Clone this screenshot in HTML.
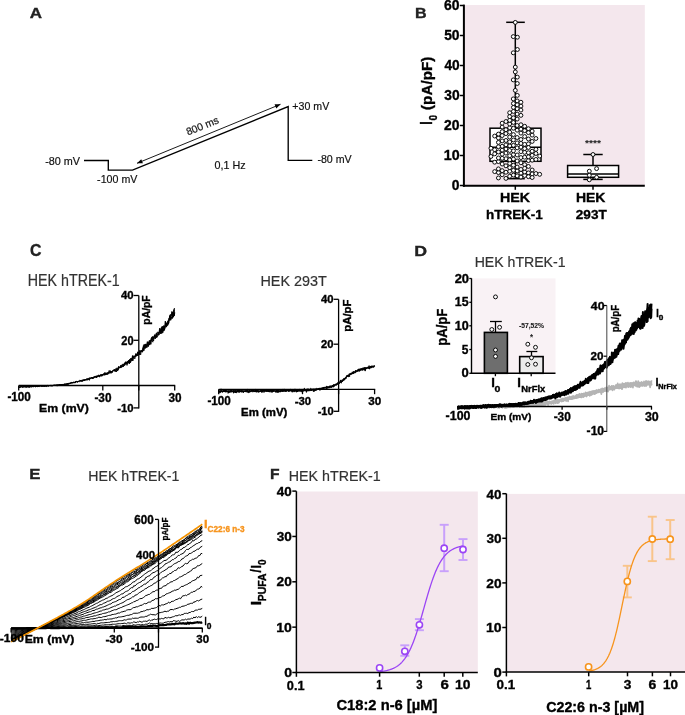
<!DOCTYPE html>
<html><head><meta charset="utf-8"><style>
html,body{margin:0;padding:0;background:#fff;}
svg{display:block;will-change:transform;font-family:"Liberation Sans",sans-serif;}
</style></head><body>
<svg width="685" height="715" viewBox="0 0 685 715">
<rect width="685" height="715" fill="#fff"/>
<text transform="translate(29.77,17.80) scale(1.174,1)" font-size="14.49" font-weight="bold" fill="#222" stroke="#222" stroke-width="0.35">A</text>
<polyline points="84.00,160.50 108.30,160.50 108.30,170.10 132.50,170.10 288.20,106.60 288.20,160.40 312.30,160.40" fill="none" stroke="#000" stroke-width="1.35" stroke-linejoin="miter"/>
<polyline points="137.00,163.30 280.50,104.30" fill="none" stroke="#000" stroke-width="0.9"/>
<polygon points="137.00,163.30 141.25,159.17 142.92,163.24" fill="#000"/>
<polygon points="280.50,104.30 276.25,108.43 274.58,104.36" fill="#000"/>
<text transform="translate(45.21,164.60) scale(0.967,1)" font-size="11.19" font-weight="normal" fill="#111" stroke="#111" stroke-width="0.2">-80 mV</text>
<text transform="translate(97.12,183.00) scale(0.940,1)" font-size="11.34" font-weight="normal" fill="#111" stroke="#111" stroke-width="0.2">-100 mV</text>
<text transform="translate(292.37,109.90) scale(0.926,1)" font-size="11.48" font-weight="normal" fill="#111" stroke="#111" stroke-width="0.2">+30 mV</text>
<text transform="translate(317.42,163.30) scale(0.914,1)" font-size="11.63" font-weight="normal" fill="#111" stroke="#111" stroke-width="0.2">-80 mV</text>
<text transform="translate(214.47,169.20) scale(0.989,1)" font-size="10.90" font-weight="normal" fill="#111" stroke="#111" stroke-width="0.2">0,1 Hz</text>
<text transform="translate(188.0,135.6) rotate(-22.3)" font-size="10.4" font-weight="normal" fill="#111" stroke="#111" stroke-width="0.2">800 ms</text>
<text transform="translate(414.96,18.20) scale(1.087,1)" font-size="14.78" font-weight="bold" fill="#222" stroke="#222" stroke-width="0.35">B</text>
<rect x="464.80" y="5.00" width="180.00" height="180.80" fill="#f4e7ed" stroke="none" stroke-width="0"/>
<polyline points="459.80,185.50 463.40,185.50" fill="none" stroke="#000" stroke-width="1.5"/>
<text transform="translate(451.87,190.06) scale(0.973,1)" font-size="14.23" font-weight="bold" fill="#000" stroke="#000" stroke-width="0.35">0</text>
<polyline points="459.80,155.50 463.40,155.50" fill="none" stroke="#000" stroke-width="1.5"/>
<text transform="translate(443.74,160.06) scale(1.002,1)" font-size="14.23" font-weight="bold" fill="#000" stroke="#000" stroke-width="0.35">10</text>
<polyline points="459.80,125.50 463.40,125.50" fill="none" stroke="#000" stroke-width="1.5"/>
<text transform="translate(444.11,130.06) scale(0.978,1)" font-size="14.23" font-weight="bold" fill="#000" stroke="#000" stroke-width="0.35">20</text>
<polyline points="459.80,95.50 463.40,95.50" fill="none" stroke="#000" stroke-width="1.5"/>
<text transform="translate(444.26,100.06) scale(0.969,1)" font-size="14.23" font-weight="bold" fill="#000" stroke="#000" stroke-width="0.35">30</text>
<polyline points="459.80,65.50 463.40,65.50" fill="none" stroke="#000" stroke-width="1.5"/>
<text transform="translate(444.40,70.06) scale(0.960,1)" font-size="14.23" font-weight="bold" fill="#000" stroke="#000" stroke-width="0.35">40</text>
<polyline points="459.80,35.50 463.40,35.50" fill="none" stroke="#000" stroke-width="1.5"/>
<text transform="translate(444.18,40.06) scale(0.973,1)" font-size="14.23" font-weight="bold" fill="#000" stroke="#000" stroke-width="0.35">50</text>
<polyline points="459.80,5.50 463.40,5.50" fill="none" stroke="#000" stroke-width="1.5"/>
<text transform="translate(444.11,10.06) scale(0.978,1)" font-size="14.23" font-weight="bold" fill="#000" stroke="#000" stroke-width="0.35">60</text>
<polyline points="463.90,4.60 463.90,186.80" fill="none" stroke="#000" stroke-width="2"/>
<polyline points="462.90,185.80 644.80,185.80" fill="none" stroke="#000" stroke-width="2"/>
<polyline points="515.30,186.00 515.30,189.80" fill="none" stroke="#000" stroke-width="1.5"/>
<polyline points="593.00,186.00 593.00,189.80" fill="none" stroke="#000" stroke-width="1.5"/>
<text transform="translate(431.90,124.71) rotate(-90) scale(0.791,1)" font-size="15.70" font-weight="bold" fill="#000" stroke="#000" stroke-width="0.35">I</text>
<text transform="translate(436.99,120.60) rotate(-90) scale(0.878,1)" font-size="11.27" font-weight="bold" fill="#000" stroke="#000" stroke-width="0.35">0</text>
<text transform="translate(432.14,109.96) rotate(-90) scale(0.984,1)" font-size="15.51" font-weight="bold" fill="#000" stroke="#000" stroke-width="0.35">(pA/pF)</text>
<text transform="translate(499.97,201.80) scale(1.066,1)" font-size="13.37" font-weight="bold" fill="#000" stroke="#000" stroke-width="0.35">HEK</text>
<text transform="translate(485.96,218.50) scale(0.997,1)" font-size="13.52" font-weight="bold" fill="#000" stroke="#000" stroke-width="0.35">hTREK-1</text>
<text transform="translate(575.89,201.80) scale(1.044,1)" font-size="13.37" font-weight="bold" fill="#000" stroke="#000" stroke-width="0.35">HEK</text>
<text transform="translate(575.83,218.50) scale(1.003,1)" font-size="13.52" font-weight="bold" fill="#000" stroke="#000" stroke-width="0.35">293T</text>
<text transform="translate(584.95,146.13) scale(1.088,1)" font-size="9.46" font-weight="bold" fill="#222">****</text>
<polyline points="515.30,22.30 515.30,128.20" fill="none" stroke="#000" stroke-width="1.5"/>
<polyline points="515.30,161.30 515.30,178.70" fill="none" stroke="#000" stroke-width="1.5"/>
<polyline points="506.20,22.30 524.80,22.30" fill="none" stroke="#000" stroke-width="1.5"/>
<polyline points="506.20,178.70 524.80,178.70" fill="none" stroke="#000" stroke-width="1.5"/>
<rect x="490.00" y="128.20" width="51.00" height="33.10" fill="#fff" stroke="#000" stroke-width="1.5"/>
<polyline points="490.00,147.20 541.00,147.20" fill="none" stroke="#000" stroke-width="1.5"/>
<polyline points="593.00,154.50 593.00,165.50" fill="none" stroke="#000" stroke-width="1.5"/>
<polyline points="593.00,177.30 593.00,179.40" fill="none" stroke="#000" stroke-width="1.5"/>
<polyline points="583.30,154.50 602.70,154.50" fill="none" stroke="#000" stroke-width="1.5"/>
<polyline points="583.30,179.40 602.70,179.40" fill="none" stroke="#000" stroke-width="1.5"/>
<rect x="567.60" y="165.50" width="51.00" height="11.80" fill="#fff" stroke="#000" stroke-width="1.5"/>
<polyline points="567.60,173.90 618.60,173.90" fill="none" stroke="#000" stroke-width="1.5"/>
<circle cx="515.30" cy="22.40" r="1.95" fill="#fff" stroke="#000" stroke-width="0.95"/>
<circle cx="513.30" cy="36.60" r="1.95" fill="#fff" stroke="#000" stroke-width="0.95"/>
<circle cx="517.40" cy="37.20" r="1.95" fill="#fff" stroke="#000" stroke-width="0.95"/>
<circle cx="517.40" cy="49.50" r="1.95" fill="#fff" stroke="#000" stroke-width="0.95"/>
<circle cx="513.30" cy="52.80" r="1.95" fill="#fff" stroke="#000" stroke-width="0.95"/>
<circle cx="515.30" cy="67.10" r="1.95" fill="#fff" stroke="#000" stroke-width="0.95"/>
<circle cx="515.30" cy="71.90" r="1.95" fill="#fff" stroke="#000" stroke-width="0.95"/>
<circle cx="517.30" cy="77.10" r="1.95" fill="#fff" stroke="#000" stroke-width="0.95"/>
<circle cx="513.30" cy="79.90" r="1.95" fill="#fff" stroke="#000" stroke-width="0.95"/>
<circle cx="517.30" cy="83.50" r="1.95" fill="#fff" stroke="#000" stroke-width="0.95"/>
<circle cx="515.30" cy="90.40" r="1.95" fill="#fff" stroke="#000" stroke-width="0.95"/>
<circle cx="517.30" cy="95.40" r="1.95" fill="#fff" stroke="#000" stroke-width="0.95"/>
<circle cx="513.30" cy="98.90" r="1.95" fill="#fff" stroke="#000" stroke-width="0.95"/>
<circle cx="513.42" cy="159.08" r="1.95" fill="#fff" stroke="#000" stroke-width="0.95"/>
<circle cx="517.17" cy="170.96" r="1.95" fill="#fff" stroke="#000" stroke-width="0.95"/>
<circle cx="513.42" cy="122.44" r="1.95" fill="#fff" stroke="#000" stroke-width="0.95"/>
<circle cx="517.17" cy="130.18" r="1.95" fill="#fff" stroke="#000" stroke-width="0.95"/>
<circle cx="513.42" cy="170.32" r="1.95" fill="#fff" stroke="#000" stroke-width="0.95"/>
<circle cx="517.17" cy="160.98" r="1.95" fill="#fff" stroke="#000" stroke-width="0.95"/>
<circle cx="513.42" cy="175.10" r="1.95" fill="#fff" stroke="#000" stroke-width="0.95"/>
<circle cx="520.92" cy="169.48" r="1.95" fill="#fff" stroke="#000" stroke-width="0.95"/>
<circle cx="513.42" cy="145.35" r="1.95" fill="#fff" stroke="#000" stroke-width="0.95"/>
<circle cx="517.17" cy="142.90" r="1.95" fill="#fff" stroke="#000" stroke-width="0.95"/>
<circle cx="517.17" cy="119.07" r="1.95" fill="#fff" stroke="#000" stroke-width="0.95"/>
<circle cx="520.92" cy="157.59" r="1.95" fill="#fff" stroke="#000" stroke-width="0.95"/>
<circle cx="517.17" cy="147.86" r="1.95" fill="#fff" stroke="#000" stroke-width="0.95"/>
<circle cx="513.42" cy="128.23" r="1.95" fill="#fff" stroke="#000" stroke-width="0.95"/>
<circle cx="509.67" cy="145.83" r="1.95" fill="#fff" stroke="#000" stroke-width="0.95"/>
<circle cx="520.92" cy="129.20" r="1.95" fill="#fff" stroke="#000" stroke-width="0.95"/>
<circle cx="513.42" cy="111.40" r="1.95" fill="#fff" stroke="#000" stroke-width="0.95"/>
<circle cx="517.17" cy="154.97" r="1.95" fill="#fff" stroke="#000" stroke-width="0.95"/>
<circle cx="513.42" cy="154.59" r="1.95" fill="#fff" stroke="#000" stroke-width="0.95"/>
<circle cx="520.92" cy="151.60" r="1.95" fill="#fff" stroke="#000" stroke-width="0.95"/>
<circle cx="517.17" cy="175.88" r="1.95" fill="#fff" stroke="#000" stroke-width="0.95"/>
<circle cx="520.92" cy="147.11" r="1.95" fill="#fff" stroke="#000" stroke-width="0.95"/>
<circle cx="509.67" cy="176.27" r="1.95" fill="#fff" stroke="#000" stroke-width="0.95"/>
<circle cx="513.42" cy="139.97" r="1.95" fill="#fff" stroke="#000" stroke-width="0.95"/>
<circle cx="509.67" cy="155.72" r="1.95" fill="#fff" stroke="#000" stroke-width="0.95"/>
<circle cx="517.17" cy="100.94" r="1.95" fill="#fff" stroke="#000" stroke-width="0.95"/>
<circle cx="513.42" cy="150.85" r="1.95" fill="#fff" stroke="#000" stroke-width="0.95"/>
<circle cx="524.67" cy="157.21" r="1.95" fill="#fff" stroke="#000" stroke-width="0.95"/>
<circle cx="505.92" cy="148.98" r="1.95" fill="#fff" stroke="#000" stroke-width="0.95"/>
<circle cx="520.92" cy="173.21" r="1.95" fill="#fff" stroke="#000" stroke-width="0.95"/>
<circle cx="513.42" cy="165.23" r="1.95" fill="#fff" stroke="#000" stroke-width="0.95"/>
<circle cx="513.42" cy="117.83" r="1.95" fill="#fff" stroke="#000" stroke-width="0.95"/>
<circle cx="513.42" cy="134.58" r="1.95" fill="#fff" stroke="#000" stroke-width="0.95"/>
<circle cx="524.67" cy="175.49" r="1.95" fill="#fff" stroke="#000" stroke-width="0.95"/>
<circle cx="524.67" cy="152.35" r="1.95" fill="#fff" stroke="#000" stroke-width="0.95"/>
<circle cx="505.92" cy="153.10" r="1.95" fill="#fff" stroke="#000" stroke-width="0.95"/>
<circle cx="509.67" cy="163.41" r="1.95" fill="#fff" stroke="#000" stroke-width="0.95"/>
<circle cx="520.92" cy="133.12" r="1.95" fill="#fff" stroke="#000" stroke-width="0.95"/>
<circle cx="509.67" cy="171.28" r="1.95" fill="#fff" stroke="#000" stroke-width="0.95"/>
<circle cx="509.67" cy="167.66" r="1.95" fill="#fff" stroke="#000" stroke-width="0.95"/>
<circle cx="509.67" cy="150.48" r="1.95" fill="#fff" stroke="#000" stroke-width="0.95"/>
<circle cx="524.67" cy="171.93" r="1.95" fill="#fff" stroke="#000" stroke-width="0.95"/>
<circle cx="505.92" cy="158.71" r="1.95" fill="#fff" stroke="#000" stroke-width="0.95"/>
<circle cx="517.17" cy="125.51" r="1.95" fill="#fff" stroke="#000" stroke-width="0.95"/>
<circle cx="517.17" cy="167.05" r="1.95" fill="#fff" stroke="#000" stroke-width="0.95"/>
<circle cx="505.92" cy="172.25" r="1.95" fill="#fff" stroke="#000" stroke-width="0.95"/>
<circle cx="520.92" cy="162.80" r="1.95" fill="#fff" stroke="#000" stroke-width="0.95"/>
<circle cx="509.67" cy="127.74" r="1.95" fill="#fff" stroke="#000" stroke-width="0.95"/>
<circle cx="517.17" cy="137.52" r="1.95" fill="#fff" stroke="#000" stroke-width="0.95"/>
<circle cx="517.17" cy="114.07" r="1.95" fill="#fff" stroke="#000" stroke-width="0.95"/>
<circle cx="502.17" cy="150.11" r="1.95" fill="#fff" stroke="#000" stroke-width="0.95"/>
<circle cx="524.67" cy="126.28" r="1.95" fill="#fff" stroke="#000" stroke-width="0.95"/>
<circle cx="509.67" cy="112.73" r="1.95" fill="#fff" stroke="#000" stroke-width="0.95"/>
<circle cx="528.42" cy="172.89" r="1.95" fill="#fff" stroke="#000" stroke-width="0.95"/>
<circle cx="520.92" cy="143.39" r="1.95" fill="#fff" stroke="#000" stroke-width="0.95"/>
<circle cx="505.92" cy="129.69" r="1.95" fill="#fff" stroke="#000" stroke-width="0.95"/>
<circle cx="509.67" cy="137.03" r="1.95" fill="#fff" stroke="#000" stroke-width="0.95"/>
<circle cx="524.67" cy="164.62" r="1.95" fill="#fff" stroke="#000" stroke-width="0.95"/>
<circle cx="509.67" cy="123.97" r="1.95" fill="#fff" stroke="#000" stroke-width="0.95"/>
<circle cx="502.17" cy="170.64" r="1.95" fill="#fff" stroke="#000" stroke-width="0.95"/>
<circle cx="502.17" cy="158.33" r="1.95" fill="#fff" stroke="#000" stroke-width="0.95"/>
<circle cx="532.17" cy="170.00" r="1.95" fill="#fff" stroke="#000" stroke-width="0.95"/>
<circle cx="505.92" cy="165.84" r="1.95" fill="#fff" stroke="#000" stroke-width="0.95"/>
<circle cx="528.42" cy="166.44" r="1.95" fill="#fff" stroke="#000" stroke-width="0.95"/>
<circle cx="505.92" cy="133.61" r="1.95" fill="#fff" stroke="#000" stroke-width="0.95"/>
<circle cx="524.67" cy="144.37" r="1.95" fill="#fff" stroke="#000" stroke-width="0.95"/>
<circle cx="505.92" cy="144.86" r="1.95" fill="#fff" stroke="#000" stroke-width="0.95"/>
<circle cx="528.42" cy="128.72" r="1.95" fill="#fff" stroke="#000" stroke-width="0.95"/>
<circle cx="502.17" cy="127.05" r="1.95" fill="#fff" stroke="#000" stroke-width="0.95"/>
<circle cx="528.42" cy="152.72" r="1.95" fill="#fff" stroke="#000" stroke-width="0.95"/>
<circle cx="505.92" cy="140.45" r="1.95" fill="#fff" stroke="#000" stroke-width="0.95"/>
<circle cx="532.17" cy="151.23" r="1.95" fill="#fff" stroke="#000" stroke-width="0.95"/>
<circle cx="524.67" cy="130.67" r="1.95" fill="#fff" stroke="#000" stroke-width="0.95"/>
<circle cx="498.42" cy="172.57" r="1.95" fill="#fff" stroke="#000" stroke-width="0.95"/>
<circle cx="528.42" cy="160.58" r="1.95" fill="#fff" stroke="#000" stroke-width="0.95"/>
<circle cx="524.67" cy="136.54" r="1.95" fill="#fff" stroke="#000" stroke-width="0.95"/>
<circle cx="517.17" cy="108.73" r="1.95" fill="#fff" stroke="#000" stroke-width="0.95"/>
<circle cx="513.42" cy="107.40" r="1.95" fill="#fff" stroke="#000" stroke-width="0.95"/>
<circle cx="502.17" cy="154.22" r="1.95" fill="#fff" stroke="#000" stroke-width="0.95"/>
<circle cx="520.92" cy="139.48" r="1.95" fill="#fff" stroke="#000" stroke-width="0.95"/>
<circle cx="520.92" cy="177.10" r="1.95" fill="#fff" stroke="#000" stroke-width="0.95"/>
<circle cx="528.42" cy="143.88" r="1.95" fill="#fff" stroke="#000" stroke-width="0.95"/>
<circle cx="498.42" cy="151.98" r="1.95" fill="#fff" stroke="#000" stroke-width="0.95"/>
<circle cx="509.67" cy="132.14" r="1.95" fill="#fff" stroke="#000" stroke-width="0.95"/>
<circle cx="509.67" cy="120.30" r="1.95" fill="#fff" stroke="#000" stroke-width="0.95"/>
<circle cx="520.92" cy="106.09" r="1.95" fill="#fff" stroke="#000" stroke-width="0.95"/>
<circle cx="528.42" cy="147.49" r="1.95" fill="#fff" stroke="#000" stroke-width="0.95"/>
<circle cx="509.67" cy="141.92" r="1.95" fill="#fff" stroke="#000" stroke-width="0.95"/>
<circle cx="502.17" cy="135.56" r="1.95" fill="#fff" stroke="#000" stroke-width="0.95"/>
<circle cx="528.42" cy="132.63" r="1.95" fill="#fff" stroke="#000" stroke-width="0.95"/>
<circle cx="494.67" cy="149.73" r="1.95" fill="#fff" stroke="#000" stroke-width="0.95"/>
<circle cx="502.17" cy="140.94" r="1.95" fill="#fff" stroke="#000" stroke-width="0.95"/>
<circle cx="502.17" cy="164.02" r="1.95" fill="#fff" stroke="#000" stroke-width="0.95"/>
<circle cx="520.92" cy="124.74" r="1.95" fill="#fff" stroke="#000" stroke-width="0.95"/>
<circle cx="509.67" cy="159.83" r="1.95" fill="#fff" stroke="#000" stroke-width="0.95"/>
<circle cx="520.92" cy="110.07" r="1.95" fill="#fff" stroke="#000" stroke-width="0.95"/>
<circle cx="498.42" cy="168.87" r="1.95" fill="#fff" stroke="#000" stroke-width="0.95"/>
<circle cx="502.17" cy="174.71" r="1.95" fill="#fff" stroke="#000" stroke-width="0.95"/>
<circle cx="494.67" cy="153.85" r="1.95" fill="#fff" stroke="#000" stroke-width="0.95"/>
<circle cx="528.42" cy="138.99" r="1.95" fill="#fff" stroke="#000" stroke-width="0.95"/>
<circle cx="505.92" cy="121.53" r="1.95" fill="#fff" stroke="#000" stroke-width="0.95"/>
<circle cx="532.17" cy="135.07" r="1.95" fill="#fff" stroke="#000" stroke-width="0.95"/>
<circle cx="498.42" cy="138.01" r="1.95" fill="#fff" stroke="#000" stroke-width="0.95"/>
<circle cx="505.92" cy="178.39" r="1.95" fill="#fff" stroke="#000" stroke-width="0.95"/>
<circle cx="532.17" cy="141.43" r="1.95" fill="#fff" stroke="#000" stroke-width="0.95"/>
<circle cx="502.17" cy="131.65" r="1.95" fill="#fff" stroke="#000" stroke-width="0.95"/>
<circle cx="524.67" cy="148.61" r="1.95" fill="#fff" stroke="#000" stroke-width="0.95"/>
<circle cx="502.17" cy="146.32" r="1.95" fill="#fff" stroke="#000" stroke-width="0.95"/>
<circle cx="502.17" cy="123.21" r="1.95" fill="#fff" stroke="#000" stroke-width="0.95"/>
<circle cx="528.42" cy="156.84" r="1.95" fill="#fff" stroke="#000" stroke-width="0.95"/>
<circle cx="494.67" cy="171.60" r="1.95" fill="#fff" stroke="#000" stroke-width="0.95"/>
<circle cx="532.17" cy="131.16" r="1.95" fill="#fff" stroke="#000" stroke-width="0.95"/>
<circle cx="528.42" cy="176.67" r="1.95" fill="#fff" stroke="#000" stroke-width="0.95"/>
<circle cx="498.42" cy="142.41" r="1.95" fill="#fff" stroke="#000" stroke-width="0.95"/>
<circle cx="498.42" cy="161.59" r="1.95" fill="#fff" stroke="#000" stroke-width="0.95"/>
<circle cx="535.92" cy="138.50" r="1.95" fill="#fff" stroke="#000" stroke-width="0.95"/>
<circle cx="498.42" cy="177.96" r="1.95" fill="#fff" stroke="#000" stroke-width="0.95"/>
<circle cx="532.17" cy="173.93" r="1.95" fill="#fff" stroke="#000" stroke-width="0.95"/>
<circle cx="535.92" cy="173.54" r="1.95" fill="#fff" stroke="#000" stroke-width="0.95"/>
<circle cx="520.92" cy="115.37" r="1.95" fill="#fff" stroke="#000" stroke-width="0.95"/>
<circle cx="509.67" cy="116.60" r="1.95" fill="#fff" stroke="#000" stroke-width="0.95"/>
<circle cx="513.42" cy="103.51" r="1.95" fill="#fff" stroke="#000" stroke-width="0.95"/>
<circle cx="532.17" cy="160.20" r="1.95" fill="#fff" stroke="#000" stroke-width="0.95"/>
<circle cx="539.67" cy="174.32" r="1.95" fill="#fff" stroke="#000" stroke-width="0.95"/>
<circle cx="535.92" cy="153.47" r="1.95" fill="#fff" stroke="#000" stroke-width="0.95"/>
<circle cx="520.92" cy="102.23" r="1.95" fill="#fff" stroke="#000" stroke-width="0.95"/>
<circle cx="524.67" cy="168.26" r="1.95" fill="#fff" stroke="#000" stroke-width="0.95"/>
<circle cx="517.17" cy="104.80" r="1.95" fill="#fff" stroke="#000" stroke-width="0.95"/>
<circle cx="498.42" cy="157.96" r="1.95" fill="#fff" stroke="#000" stroke-width="0.95"/>
<circle cx="532.17" cy="155.34" r="1.95" fill="#fff" stroke="#000" stroke-width="0.95"/>
<circle cx="490.92" cy="156.46" r="1.95" fill="#fff" stroke="#000" stroke-width="0.95"/>
<circle cx="494.67" cy="136.05" r="1.95" fill="#fff" stroke="#000" stroke-width="0.95"/>
<circle cx="532.17" cy="177.53" r="1.95" fill="#fff" stroke="#000" stroke-width="0.95"/>
<circle cx="535.92" cy="159.46" r="1.95" fill="#fff" stroke="#000" stroke-width="0.95"/>
<circle cx="498.42" cy="146.74" r="1.95" fill="#fff" stroke="#000" stroke-width="0.95"/>
<circle cx="539.67" cy="156.09" r="1.95" fill="#fff" stroke="#000" stroke-width="0.95"/>
<circle cx="494.67" cy="162.20" r="1.95" fill="#fff" stroke="#000" stroke-width="0.95"/>
<circle cx="535.92" cy="149.36" r="1.95" fill="#fff" stroke="#000" stroke-width="0.95"/>
<circle cx="490.92" cy="148.24" r="1.95" fill="#fff" stroke="#000" stroke-width="0.95"/>
<circle cx="498.42" cy="134.10" r="1.95" fill="#fff" stroke="#000" stroke-width="0.95"/>
<circle cx="593.00" cy="154.50" r="1.95" fill="#fff" stroke="#000" stroke-width="0.95"/>
<circle cx="596.60" cy="168.60" r="1.95" fill="#fff" stroke="#000" stroke-width="0.95"/>
<circle cx="589.30" cy="171.20" r="1.95" fill="#fff" stroke="#000" stroke-width="0.95"/>
<circle cx="589.30" cy="175.30" r="1.95" fill="#fff" stroke="#000" stroke-width="0.95"/>
<circle cx="596.60" cy="177.30" r="1.95" fill="#fff" stroke="#000" stroke-width="0.95"/>
<circle cx="589.30" cy="179.80" r="1.95" fill="#fff" stroke="#000" stroke-width="0.95"/>
<text transform="translate(30.06,256.23) scale(0.939,1)" font-size="16.90" font-weight="bold" fill="#222" stroke="#222" stroke-width="0.35">C</text>
<text transform="translate(27.76,286.00) scale(0.908,1)" font-size="15.70" font-weight="normal" fill="#333" stroke="#333" stroke-width="0.2">HEK hTREK-1</text>
<text transform="translate(260.45,286.10) scale(0.926,1)" font-size="15.55" font-weight="normal" fill="#333" stroke="#333" stroke-width="0.2">HEK 293T</text>
<polyline points="18.70,386.90 19.09,387.16 19.48,387.10 19.87,387.87 20.26,386.23 20.65,386.47 21.05,387.02 21.44,386.59 21.83,386.76 22.22,387.07 22.61,386.48 23.00,386.95 23.39,386.94 23.78,387.11 24.17,386.62 24.56,386.82 24.96,386.56 25.35,386.98 25.74,386.69 26.13,387.06 26.52,386.39 26.91,386.62 27.30,386.56 27.69,386.51 28.08,387.03 28.47,386.34 28.87,385.86 29.26,387.22 29.65,387.23 30.04,387.13 30.43,386.25 30.82,386.50 31.21,386.13 31.60,386.25 31.99,386.42 32.38,386.38 32.78,386.53 33.17,386.13 33.56,386.85 33.95,386.57 34.34,386.31 34.73,385.72 35.12,386.64 35.51,386.74 35.90,386.54 36.29,385.96 36.68,386.38 37.08,385.80 37.47,386.94 37.86,385.84 38.25,385.85 38.64,386.72 39.03,386.14 39.42,385.74 39.81,386.13 40.20,385.79 40.59,385.28 40.99,386.01 41.38,386.19 41.77,386.35 42.16,385.83 42.55,386.11 42.94,386.09 43.33,386.05 43.72,385.76 44.11,386.35 44.50,386.50 44.90,386.80 45.29,385.50 45.68,385.88 46.07,385.36 46.46,385.87 46.85,386.11 47.24,385.66 47.63,385.84 48.02,386.23 48.41,386.08 48.81,385.14 49.20,385.61 49.59,385.57 49.98,385.79 50.37,385.91 50.76,385.34 51.15,385.66 51.54,385.86 51.93,385.63 52.32,385.87 52.72,385.47 53.11,385.13 53.50,385.77 53.89,384.98 54.28,385.66 54.67,385.36 55.06,385.66 55.45,385.43 55.84,385.31 56.23,385.45 56.62,385.51 57.02,385.47 57.41,385.49 57.80,385.72 58.19,385.24 58.58,384.98 58.97,384.77 59.36,384.83 59.75,384.16 60.14,384.87 60.53,385.10 60.93,384.25 61.32,385.23 61.71,384.47 62.10,385.10 62.49,384.58 62.88,385.36 63.27,384.28 63.66,384.60 64.05,384.83 64.44,383.80 64.84,384.06 65.23,384.26 65.62,384.48 66.01,384.15 66.40,384.12 66.79,383.71 67.18,383.60 67.57,384.08 67.96,383.96 68.35,383.87 68.75,384.11 69.14,383.73 69.53,383.45 69.92,383.05 70.31,382.71 70.70,383.48 71.09,382.84 71.48,383.15 71.87,382.03 72.26,382.81 72.65,382.49 73.05,383.01 73.44,382.86 73.83,382.34 74.22,382.50 74.61,382.10 75.00,382.84 75.39,381.78 75.78,382.37 76.17,381.13 76.56,381.93 76.96,381.22 77.35,382.25 77.74,381.35 78.13,381.86 78.52,381.59 78.91,381.27 79.30,381.33 79.69,380.98 80.08,380.66 80.47,380.61 80.87,380.87 81.26,381.38 81.65,381.03 82.04,380.65 82.43,381.49 82.82,380.00 83.21,380.39 83.60,380.30 83.99,379.61 84.38,379.65 84.78,379.77 85.17,380.29 85.56,379.53 85.95,379.41 86.34,379.94 86.73,378.85 87.12,379.03 87.51,380.22 87.90,379.02 88.29,379.65 88.68,378.28 89.08,378.34 89.47,379.26 89.86,379.04 90.25,378.40 90.64,378.48 91.03,377.41 91.42,377.73 91.81,378.19 92.20,377.60 92.59,378.96 92.99,377.52 93.38,377.09 93.77,377.58 94.16,377.77 94.55,376.92 94.94,375.99 95.33,376.90 95.72,377.57 96.11,375.93 96.50,377.80 96.90,376.26 97.29,376.79 97.68,375.76 98.07,376.73 98.46,375.28 98.85,375.79 99.24,376.93 99.63,376.97 100.02,375.81 100.41,374.67 100.81,375.29 101.20,375.20 101.59,375.28 101.98,374.52 102.37,374.63 102.76,374.56 103.15,375.27 103.54,373.70 103.93,373.45 104.32,375.10 104.72,372.54 105.11,373.47 105.50,374.16 105.89,375.00 106.28,373.09 106.67,373.02 107.06,373.68 107.45,374.38 107.84,372.18 108.23,373.25 108.62,373.02 109.02,370.48 109.41,370.84 109.80,371.53 110.19,372.41 110.58,371.43 110.97,373.45 111.36,371.51 111.75,372.00 112.14,372.24 112.53,372.30 112.93,370.52 113.32,370.68 113.71,370.44 114.10,369.72 114.49,370.87 114.88,370.99 115.27,371.24 115.66,369.89 116.05,368.79 116.44,369.33 116.84,368.47 117.23,369.78 117.62,368.97 118.01,369.01 118.40,369.21 118.79,366.32 119.18,366.95 119.57,368.13 119.96,367.91 120.35,367.05 120.75,368.06 121.14,366.13 121.53,367.46 121.92,366.38 122.31,366.75 122.70,366.00 123.09,366.55 123.48,366.54 123.87,365.72 124.26,365.20 124.65,364.57 125.05,363.96 125.44,362.26 125.83,362.70 126.22,363.50 126.61,362.25 127.00,363.41 127.39,360.96 127.78,361.60 128.17,363.30 128.56,360.81 128.96,360.45 129.35,363.89 129.74,361.53 130.13,360.94 130.52,362.24 130.91,361.00 131.30,360.57 131.69,358.63 132.08,358.54 132.47,355.57 132.87,358.70 133.26,356.59 133.65,357.51 134.04,356.95 134.43,358.32 134.82,358.90 135.21,357.20 135.60,355.00 135.99,353.65 136.38,354.51 136.78,354.29 137.17,355.63 137.56,352.27 137.95,352.16 138.34,354.22 138.73,353.24 139.12,354.14 139.51,350.54 139.90,351.59 140.29,351.90 140.68,350.87 141.08,350.45 141.47,351.25 141.86,352.04 142.25,351.73 142.64,352.01 143.03,348.51 143.42,345.60 143.81,350.85 144.20,347.80 144.59,347.00 144.99,348.67 145.38,346.51 145.77,348.07 146.16,344.20 146.55,346.53 146.94,345.07 147.33,343.77 147.72,345.11 148.11,346.87 148.50,344.50 148.90,342.04 149.29,343.01 149.68,342.11 150.07,343.87 150.46,341.48 150.85,340.12 151.24,340.88 151.63,337.35 152.02,340.52 152.41,341.56 152.81,342.17 153.20,337.01 153.59,338.71 153.98,336.44 154.37,337.00 154.76,334.52 155.15,334.74 155.54,337.27 155.93,335.68 156.32,333.78 156.72,337.61 157.11,332.22 157.50,332.20 157.89,332.16 158.28,333.92 158.67,332.49 159.06,334.74 159.45,332.01 159.84,332.79 160.23,331.01 160.62,331.69 161.02,329.70 161.41,327.46 161.80,332.04 162.19,327.12 162.58,332.68 162.97,332.68 163.36,328.14 163.75,327.52 164.14,326.24 164.53,330.23 164.93,326.49 165.32,325.66 165.71,322.79 166.10,325.21 166.49,323.33 166.88,326.09 167.27,323.83 167.66,323.85 168.05,320.73 168.44,323.94 168.84,323.01 169.23,319.20 169.62,315.78 170.01,318.36 170.40,317.85 170.79,318.67 171.18,314.53 171.57,315.09 171.96,311.43 172.35,314.09 172.75,316.52 173.14,314.87 173.53,315.24 173.92,315.27 174.31,308.22 174.70,308.73" fill="none" stroke="#000" stroke-width="1.0" stroke-linejoin="round"/>
<polyline points="18.70,386.97 19.09,386.84 19.48,387.05 19.87,387.27 20.26,387.09 20.65,387.29 21.05,386.87 21.44,386.37 21.83,387.06 22.22,387.09 22.61,386.66 23.00,386.70 23.39,386.78 23.78,387.16 24.17,386.80 24.56,386.52 24.96,387.27 25.35,386.92 25.74,387.45 26.13,387.21 26.52,387.40 26.91,386.78 27.30,387.16 27.69,386.56 28.08,386.59 28.47,386.71 28.87,387.56 29.26,386.81 29.65,386.61 30.04,386.53 30.43,387.13 30.82,386.72 31.21,386.89 31.60,386.81 31.99,386.11 32.38,386.78 32.78,386.48 33.17,386.12 33.56,386.65 33.95,386.46 34.34,386.36 34.73,386.36 35.12,386.81 35.51,386.32 35.90,385.84 36.29,386.88 36.68,385.98 37.08,386.24 37.47,386.49 37.86,385.52 38.25,385.95 38.64,386.64 39.03,386.17 39.42,385.97 39.81,386.23 40.20,385.90 40.59,386.15 40.99,385.87 41.38,385.58 41.77,386.32 42.16,385.99 42.55,386.21 42.94,385.98 43.33,386.43 43.72,386.20 44.11,386.04 44.50,385.64 44.90,385.54 45.29,386.39 45.68,386.18 46.07,385.66 46.46,386.57 46.85,386.01 47.24,385.86 47.63,385.37 48.02,385.55 48.41,385.89 48.81,385.88 49.20,385.82 49.59,385.19 49.98,385.84 50.37,385.77 50.76,385.53 51.15,385.67 51.54,385.67 51.93,385.96 52.32,385.56 52.72,385.69 53.11,385.11 53.50,385.26 53.89,385.47 54.28,385.21 54.67,385.52 55.06,385.03 55.45,385.36 55.84,385.13 56.23,385.74 56.62,385.15 57.02,385.82 57.41,385.91 57.80,385.28 58.19,385.46 58.58,385.06 58.97,384.31 59.36,385.34 59.75,385.23 60.14,384.91 60.53,384.77 60.93,384.97 61.32,384.93 61.71,384.56 62.10,384.58 62.49,385.08 62.88,384.68 63.27,384.59 63.66,384.92 64.05,384.38 64.44,384.73 64.84,383.99 65.23,384.21 65.62,384.17 66.01,384.36 66.40,384.10 66.79,384.74 67.18,384.34 67.57,383.69 67.96,384.57 68.35,383.34 68.75,384.26 69.14,383.20 69.53,383.75 69.92,383.02 70.31,383.19 70.70,383.77 71.09,382.56 71.48,382.38 71.87,382.91 72.26,382.91 72.65,382.77 73.05,383.02 73.44,382.06 73.83,382.66 74.22,382.36 74.61,382.59 75.00,382.43 75.39,382.63 75.78,381.43 76.17,381.96 76.56,381.37 76.96,381.71 77.35,381.94 77.74,381.69 78.13,381.71 78.52,381.36 78.91,381.45 79.30,381.33 79.69,381.74 80.08,381.39 80.47,380.14 80.87,381.15 81.26,381.24 81.65,380.48 82.04,379.87 82.43,381.16 82.82,380.47 83.21,380.58 83.60,381.04 83.99,379.71 84.38,379.99 84.78,379.85 85.17,380.17 85.56,379.46 85.95,379.87 86.34,379.56 86.73,379.96 87.12,379.92 87.51,378.49 87.90,379.35 88.29,378.83 88.68,378.90 89.08,379.01 89.47,378.94 89.86,378.23 90.25,378.62 90.64,378.44 91.03,378.23 91.42,377.49 91.81,377.65 92.20,377.71 92.59,378.13 92.99,378.48 93.38,377.05 93.77,376.92 94.16,377.44 94.55,376.93 94.94,376.68 95.33,376.53 95.72,376.36 96.11,377.06 96.50,375.77 96.90,377.31 97.29,375.92 97.68,376.03 98.07,375.67 98.46,374.93 98.85,375.05 99.24,376.57 99.63,376.79 100.02,375.10 100.41,376.13 100.81,375.38 101.20,374.71 101.59,376.18 101.98,376.37 102.37,374.70 102.76,374.72 103.15,374.78 103.54,374.46 103.93,374.93 104.32,375.24 104.72,374.21 105.11,374.62 105.50,374.95 105.89,373.34 106.28,373.59 106.67,373.13 107.06,373.96 107.45,373.59 107.84,373.69 108.23,373.46 108.62,372.54 109.02,373.10 109.41,372.12 109.80,371.98 110.19,370.58 110.58,372.95 110.97,371.09 111.36,371.66 111.75,371.44 112.14,372.36 112.53,371.44 112.93,370.35 113.32,370.81 113.71,370.50 114.10,370.61 114.49,369.28 114.88,370.02 115.27,371.58 115.66,370.17 116.05,371.02 116.44,371.88 116.84,369.44 117.23,367.68 117.62,368.54 118.01,369.35 118.40,368.94 118.79,366.95 119.18,367.56 119.57,367.42 119.96,367.28 120.35,366.97 120.75,366.04 121.14,366.03 121.53,366.09 121.92,367.00 122.31,365.33 122.70,366.19 123.09,364.27 123.48,366.25 123.87,364.93 124.26,364.55 124.65,365.57 125.05,362.35 125.44,362.33 125.83,363.97 126.22,362.47 126.61,362.60 127.00,365.37 127.39,362.18 127.78,362.23 128.17,361.80 128.56,362.73 128.96,361.60 129.35,361.21 129.74,359.45 130.13,360.07 130.52,360.13 130.91,358.13 131.30,360.13 131.69,359.64 132.08,360.94 132.47,356.78 132.87,357.14 133.26,356.86 133.65,356.81 134.04,357.14 134.43,356.68 134.82,356.91 135.21,356.52 135.60,355.87 135.99,353.74 136.38,354.57 136.78,354.99 137.17,355.30 137.56,355.03 137.95,351.82 138.34,352.88 138.73,353.09 139.12,353.29 139.51,353.95 139.90,352.22 140.29,350.60 140.68,351.95 141.08,351.36 141.47,350.99 141.86,350.16 142.25,352.16 142.64,349.89 143.03,350.39 143.42,347.51 143.81,349.51 144.20,347.16 144.59,345.37 144.99,347.68 145.38,347.71 145.77,346.13 146.16,346.02 146.55,347.14 146.94,344.52 147.33,341.70 147.72,344.84 148.11,344.36 148.50,345.31 148.90,342.75 149.29,344.88 149.68,344.28 150.07,340.01 150.46,343.21 150.85,339.54 151.24,338.40 151.63,340.12 152.02,339.23 152.41,336.45 152.81,339.73 153.20,340.03 153.59,340.96 153.98,338.14 154.37,335.20 154.76,335.71 155.15,338.69 155.54,338.13 155.93,337.09 156.32,335.23 156.72,335.72 157.11,334.51 157.50,333.91 157.89,334.57 158.28,333.62 158.67,332.68 159.06,332.76 159.45,331.15 159.84,328.00 160.23,330.02 160.62,330.61 161.02,333.62 161.41,329.05 161.80,333.33 162.19,331.86 162.58,326.88 162.97,326.80 163.36,328.20 163.75,331.07 164.14,327.93 164.53,328.20 164.93,325.03 165.32,321.14 165.71,325.00 166.10,326.66 166.49,327.01 166.88,324.08 167.27,323.81 167.66,325.41 168.05,322.04 168.44,324.30 168.84,318.61 169.23,318.09 169.62,317.40 170.01,320.35 170.40,317.36 170.79,318.16 171.18,318.05 171.57,317.20 171.96,318.80 172.35,318.44 172.75,312.20 173.14,313.93 173.53,312.22 173.92,309.55 174.31,315.87 174.70,312.83" fill="none" stroke="#000" stroke-width="1.0" stroke-linejoin="round"/>
<polyline points="18.70,387.28 19.09,386.86 19.48,387.58 19.87,386.68 20.26,386.48 20.65,387.08 21.05,386.73 21.44,386.79 21.83,387.02 22.22,387.19 22.61,387.62 23.00,386.30 23.39,386.84 23.78,385.85 24.17,386.48 24.56,386.67 24.96,387.01 25.35,386.23 25.74,386.93 26.13,386.13 26.52,386.86 26.91,386.63 27.30,387.25 27.69,385.79 28.08,386.69 28.47,386.78 28.87,386.32 29.26,386.94 29.65,386.31 30.04,387.01 30.43,386.36 30.82,386.93 31.21,387.21 31.60,386.73 31.99,387.04 32.38,386.28 32.78,386.46 33.17,386.26 33.56,386.40 33.95,386.55 34.34,386.39 34.73,386.00 35.12,386.43 35.51,386.63 35.90,386.68 36.29,386.39 36.68,386.57 37.08,385.60 37.47,386.69 37.86,386.64 38.25,386.34 38.64,385.98 39.03,386.29 39.42,386.52 39.81,386.45 40.20,386.27 40.59,385.78 40.99,386.46 41.38,386.13 41.77,386.30 42.16,385.95 42.55,385.90 42.94,386.55 43.33,385.16 43.72,385.93 44.11,386.16 44.50,386.27 44.90,386.03 45.29,385.91 45.68,385.70 46.07,385.88 46.46,385.70 46.85,386.41 47.24,386.09 47.63,386.16 48.02,385.74 48.41,385.61 48.81,386.26 49.20,385.79 49.59,385.46 49.98,385.38 50.37,386.05 50.76,385.45 51.15,385.51 51.54,385.75 51.93,384.91 52.32,385.94 52.72,385.63 53.11,385.36 53.50,385.40 53.89,385.52 54.28,384.97 54.67,384.92 55.06,385.08 55.45,385.02 55.84,385.35 56.23,385.69 56.62,384.53 57.02,385.57 57.41,384.45 57.80,385.22 58.19,385.07 58.58,385.18 58.97,384.75 59.36,385.23 59.75,384.38 60.14,384.80 60.53,384.88 60.93,385.10 61.32,384.76 61.71,384.81 62.10,384.09 62.49,384.38 62.88,385.22 63.27,384.05 63.66,385.40 64.05,383.92 64.44,385.10 64.84,384.35 65.23,383.98 65.62,384.21 66.01,384.55 66.40,383.60 66.79,384.66 67.18,384.46 67.57,383.30 67.96,384.08 68.35,383.57 68.75,383.27 69.14,383.54 69.53,383.30 69.92,383.28 70.31,383.15 70.70,382.67 71.09,382.68 71.48,382.84 71.87,382.51 72.26,383.02 72.65,383.02 73.05,383.03 73.44,382.19 73.83,381.74 74.22,382.30 74.61,383.10 75.00,382.38 75.39,381.86 75.78,381.85 76.17,381.85 76.56,381.36 76.96,381.30 77.35,382.23 77.74,381.34 78.13,381.79 78.52,381.26 78.91,380.71 79.30,380.34 79.69,380.77 80.08,381.25 80.47,381.08 80.87,380.58 81.26,381.21 81.65,380.68 82.04,380.26 82.43,380.01 82.82,380.51 83.21,380.09 83.60,379.50 83.99,379.93 84.38,380.84 84.78,379.78 85.17,379.66 85.56,379.90 85.95,379.57 86.34,380.25 86.73,378.75 87.12,379.07 87.51,379.47 87.90,378.96 88.29,378.91 88.68,379.34 89.08,380.20 89.47,380.20 89.86,377.47 90.25,379.07 90.64,378.51 91.03,377.93 91.42,378.34 91.81,377.37 92.20,378.45 92.59,377.49 92.99,378.88 93.38,377.18 93.77,377.08 94.16,377.15 94.55,377.07 94.94,376.98 95.33,376.51 95.72,376.34 96.11,377.35 96.50,376.04 96.90,377.13 97.29,376.34 97.68,376.48 98.07,375.91 98.46,376.30 98.85,375.72 99.24,376.15 99.63,376.33 100.02,374.94 100.41,375.13 100.81,375.04 101.20,374.63 101.59,375.81 101.98,374.41 102.37,375.56 102.76,374.50 103.15,374.74 103.54,374.31 103.93,373.89 104.32,374.21 104.72,374.72 105.11,373.33 105.50,373.02 105.89,373.22 106.28,372.83 106.67,374.64 107.06,373.22 107.45,373.20 107.84,374.36 108.23,372.75 108.62,372.68 109.02,373.62 109.41,372.99 109.80,372.17 110.19,371.63 110.58,371.39 110.97,372.58 111.36,372.40 111.75,371.81 112.14,371.30 112.53,371.53 112.93,371.07 113.32,370.20 113.71,370.03 114.10,370.27 114.49,371.10 114.88,370.40 115.27,369.36 115.66,368.91 116.05,368.55 116.44,370.08 116.84,369.39 117.23,369.80 117.62,371.05 118.01,369.29 118.40,369.65 118.79,366.72 119.18,367.28 119.57,368.03 119.96,367.17 120.35,366.63 120.75,365.20 121.14,365.82 121.53,364.90 121.92,365.60 122.31,364.59 122.70,364.20 123.09,364.42 123.48,365.01 123.87,363.75 124.26,364.92 124.65,362.90 125.05,364.29 125.44,364.43 125.83,361.63 126.22,363.65 126.61,362.81 127.00,363.79 127.39,363.15 127.78,362.51 128.17,362.91 128.56,360.31 128.96,362.07 129.35,362.35 129.74,359.52 130.13,359.65 130.52,362.66 130.91,360.44 131.30,358.40 131.69,360.05 132.08,359.19 132.47,358.83 132.87,360.83 133.26,358.94 133.65,356.69 134.04,355.55 134.43,357.01 134.82,356.72 135.21,355.58 135.60,355.71 135.99,354.95 136.38,356.32 136.78,354.86 137.17,353.91 137.56,353.44 137.95,355.85 138.34,352.44 138.73,353.00 139.12,352.60 139.51,354.80 139.90,352.05 140.29,353.87 140.68,354.81 141.08,350.89 141.47,350.66 141.86,350.20 142.25,349.65 142.64,349.52 143.03,347.57 143.42,347.58 143.81,346.00 144.20,344.27 144.59,346.42 144.99,345.97 145.38,343.92 145.77,347.67 146.16,346.45 146.55,345.17 146.94,347.56 147.33,343.26 147.72,341.89 148.11,345.96 148.50,344.88 148.90,341.75 149.29,340.63 149.68,345.12 150.07,341.16 150.46,342.01 150.85,344.35 151.24,341.62 151.63,341.49 152.02,339.97 152.41,339.70 152.81,339.85 153.20,339.22 153.59,338.87 153.98,337.30 154.37,336.10 154.76,335.70 155.15,338.59 155.54,338.02 155.93,337.39 156.32,333.16 156.72,334.46 157.11,336.33 157.50,336.62 157.89,335.90 158.28,333.49 158.67,335.17 159.06,332.61 159.45,329.51 159.84,332.15 160.23,329.50 160.62,333.72 161.02,329.56 161.41,329.24 161.80,331.26 162.19,326.20 162.58,328.63 162.97,329.66 163.36,328.50 163.75,325.56 164.14,330.02 164.53,326.46 164.93,328.39 165.32,325.45 165.71,326.60 166.10,325.14 166.49,322.83 166.88,323.87 167.27,322.21 167.66,321.32 168.05,321.39 168.44,321.21 168.84,321.03 169.23,319.06 169.62,317.13 170.01,314.97 170.40,314.44 170.79,320.20 171.18,316.42 171.57,315.21 171.96,312.69 172.35,312.29 172.75,317.71 173.14,312.77 173.53,317.06 173.92,313.30 174.31,313.81 174.70,312.38" fill="none" stroke="#000" stroke-width="1.0" stroke-linejoin="round"/>
<polyline points="18.70,385.50 175.20,385.50" fill="none" stroke="#000" stroke-width="1.3"/>
<polyline points="18.70,385.50 18.70,390.40" fill="none" stroke="#000" stroke-width="1.3"/>
<polyline points="102.80,385.50 102.80,390.40" fill="none" stroke="#000" stroke-width="1.3"/>
<polyline points="138.80,385.50 138.80,390.40" fill="none" stroke="#000" stroke-width="1.3"/>
<polyline points="174.70,385.50 174.70,390.40" fill="none" stroke="#000" stroke-width="1.3"/>
<polyline points="138.80,295.50 138.80,408.50" fill="none" stroke="#000" stroke-width="1.3"/>
<polyline points="133.50,295.50 138.80,295.50" fill="none" stroke="#000" stroke-width="1.3"/>
<polyline points="133.50,340.30 138.80,340.30" fill="none" stroke="#000" stroke-width="1.3"/>
<polyline points="133.50,407.90 138.80,407.90" fill="none" stroke="#000" stroke-width="1.3"/>
<text transform="translate(121.03,299.18) scale(0.961,1)" font-size="11.83" font-weight="bold" fill="#000" stroke="#000" stroke-width="0.35">40</text>
<text transform="translate(121.31,344.68) scale(0.909,1)" font-size="12.11" font-weight="bold" fill="#000" stroke="#000" stroke-width="0.35">20</text>
<text transform="translate(117.35,411.69) scale(0.989,1)" font-size="11.41" font-weight="bold" fill="#000" stroke="#000" stroke-width="0.35">-10</text>
<text transform="translate(7.43,401.48) scale(0.979,1)" font-size="11.97" font-weight="bold" fill="#000" stroke="#000" stroke-width="0.35">-100</text>
<text transform="translate(94.43,401.58) scale(0.963,1)" font-size="12.25" font-weight="bold" fill="#000" stroke="#000" stroke-width="0.35">-30</text>
<text transform="translate(168.51,401.58) scale(0.961,1)" font-size="12.25" font-weight="bold" fill="#000" stroke="#000" stroke-width="0.35">30</text>
<text transform="translate(39.00,412.20) scale(1.046,1)" font-size="11.77" font-weight="bold" fill="#000" stroke="#000" stroke-width="0.35">Em (mV)</text>
<text transform="translate(150.10,324.67) rotate(-90) scale(0.964,1)" font-size="10.76" font-weight="bold" fill="#000" stroke="#000" stroke-width="0.35">pA/pF</text>
<polyline points="218.70,389.85 218.96,392.94 219.22,390.94 219.48,391.60 219.74,391.53 220.00,391.37 220.26,392.58 220.52,391.38 220.78,391.80 221.04,388.98 221.30,391.07 221.56,391.46 221.82,391.41 222.08,391.67 222.34,391.93 222.60,391.48 222.86,390.89 223.12,391.38 223.38,390.57 223.64,391.35 223.90,391.20 224.16,390.18 224.42,390.85 224.68,391.56 224.95,391.34 225.21,390.85 225.47,389.91 225.73,391.40 225.99,391.38 226.25,390.54 226.51,391.81 226.77,391.41 227.03,390.62 227.29,390.82 227.55,391.15 227.81,390.76 228.07,393.11 228.33,390.52 228.59,391.85 228.85,392.33 229.11,391.02 229.37,390.73 229.63,391.51 229.89,391.93 230.15,391.19 230.41,391.24 230.67,390.26 230.93,390.70 231.19,391.07 231.45,390.45 231.71,391.34 231.97,391.82 232.23,390.80 232.49,390.80 232.75,391.34 233.01,391.72 233.27,391.04 233.53,392.87 233.79,390.73 234.05,390.86 234.31,392.29 234.57,391.15 234.83,391.84 235.09,390.68 235.35,392.56 235.61,391.80 235.87,390.71 236.13,390.41 236.39,392.64 236.65,391.52 236.92,390.96 237.18,391.59 237.44,390.11 237.70,391.98 237.96,390.94 238.22,391.88 238.48,390.23 238.74,391.19 239.00,391.42 239.26,392.33 239.52,390.04 239.78,390.66 240.04,390.66 240.30,390.40 240.56,390.93 240.82,391.59 241.08,391.70 241.34,391.70 241.60,390.24 241.86,392.14 242.12,391.56 242.38,391.37 242.64,391.00 242.90,390.77 243.16,391.99 243.42,392.32 243.68,391.15 243.94,390.33 244.20,390.64 244.46,391.00 244.72,391.36 244.98,390.94 245.24,391.30 245.50,390.59 245.76,391.67 246.02,391.05 246.28,391.21 246.54,390.77 246.80,390.98 247.06,389.41 247.32,390.12 247.58,390.12 247.84,392.50 248.10,391.35 248.36,391.53 248.62,390.76 248.89,392.65 249.15,390.33 249.41,390.40 249.67,391.99 249.93,391.77 250.19,391.65 250.45,391.08 250.71,390.68 250.97,389.73 251.23,391.24 251.49,390.59 251.75,391.00 252.01,389.92 252.27,390.60 252.53,390.18 252.79,391.82 253.05,391.22 253.31,391.64 253.57,390.08 253.83,390.65 254.09,391.29 254.35,391.39 254.61,390.76 254.87,391.55 255.13,391.71 255.39,390.75 255.65,389.42 255.91,391.24 256.17,391.45 256.43,391.86 256.69,391.97 256.95,390.71 257.21,390.49 257.47,391.06 257.73,390.84 257.99,390.98 258.25,390.96 258.51,392.08 258.77,391.36 259.03,390.98 259.29,391.58 259.55,391.37 259.81,391.60 260.07,391.27 260.33,390.47 260.59,391.32 260.86,391.14 261.12,390.49 261.38,390.60 261.64,389.89 261.90,392.44 262.16,390.45 262.42,391.35 262.68,390.94 262.94,390.46 263.20,390.29 263.46,390.32 263.72,390.91 263.98,389.93 264.24,391.21 264.50,391.11 264.76,390.47 265.02,391.38 265.28,389.55 265.54,390.32 265.80,389.54 266.06,391.02 266.32,391.26 266.58,390.88 266.84,390.50 267.10,391.39 267.36,390.73 267.62,391.00 267.88,389.90 268.14,391.43 268.40,390.28 268.66,391.41 268.92,391.62 269.18,391.45 269.44,391.77 269.70,390.87 269.96,390.27 270.22,390.85 270.48,390.54 270.74,389.86 271.00,390.78 271.26,390.82 271.52,391.14 271.78,392.03 272.04,390.43 272.30,392.13 272.56,390.50 272.83,390.95 273.09,390.18 273.35,390.98 273.61,391.48 273.87,390.68 274.13,391.30 274.39,391.04 274.65,390.89 274.91,391.00 275.17,391.04 275.43,391.47 275.69,391.03 275.95,392.34 276.21,391.00 276.47,391.70 276.73,390.13 276.99,390.03 277.25,392.20 277.51,390.78 277.77,390.96 278.03,391.58 278.29,390.51 278.55,391.17 278.81,392.05 279.07,391.04 279.33,390.95 279.59,390.78 279.85,391.67 280.11,390.43 280.37,390.34 280.63,391.60 280.89,391.27 281.15,390.88 281.41,391.20 281.67,389.64 281.93,390.67 282.19,391.49 282.45,391.33 282.71,390.84 282.97,389.25 283.23,390.91 283.49,390.70 283.75,390.43 284.01,390.80 284.27,389.23 284.53,391.12 284.80,390.26 285.06,390.65 285.32,390.33 285.58,391.54 285.84,389.55 286.10,390.82 286.36,390.71 286.62,391.35 286.88,391.21 287.14,390.33 287.40,390.04 287.66,390.20 287.92,389.88 288.18,390.21 288.44,390.67 288.70,390.12 288.96,390.28 289.22,390.74 289.48,390.18 289.74,389.79 290.00,390.50 290.26,390.89 290.52,390.16 290.78,389.36 291.04,390.77 291.30,390.69 291.56,390.71 291.82,389.79 292.08,391.84 292.34,390.35 292.60,389.79 292.86,391.14 293.12,389.58 293.38,390.22 293.64,390.94 293.90,390.43 294.16,391.59 294.42,390.93 294.68,389.31 294.94,391.14 295.20,389.29 295.46,390.58 295.72,389.85 295.98,390.48 296.24,392.01 296.50,390.88 296.77,390.36 297.03,391.26 297.29,391.38 297.55,390.22 297.81,390.90 298.07,391.60 298.33,390.91 298.59,389.86 298.85,390.75 299.11,389.80 299.37,389.39 299.63,390.39 299.89,391.16 300.15,391.27 300.41,390.41 300.67,389.79 300.93,390.19 301.19,390.00 301.45,390.66 301.71,390.15 301.97,390.66 302.23,390.55 302.49,391.20 302.75,391.38 303.01,390.64 303.27,391.05 303.53,390.94 303.79,389.83 304.05,390.35 304.31,388.30 304.57,389.63 304.83,390.67 305.09,389.71 305.35,389.98 305.61,390.67 305.87,389.46 306.13,390.71 306.39,392.24 306.65,389.63 306.91,390.57 307.17,389.14 307.43,390.56 307.69,390.91 307.95,389.06 308.21,390.81 308.47,389.93 308.74,389.08 309.00,389.97 309.26,390.08 309.52,389.94 309.78,389.43 310.04,390.52 310.30,389.55 310.56,389.56 310.82,388.36 311.08,390.14 311.34,390.51 311.60,389.38 311.86,390.13 312.12,389.65 312.38,389.73 312.64,389.02 312.90,390.23 313.16,389.83 313.42,391.46 313.68,390.32 313.94,388.67 314.20,390.14 314.46,390.13 314.72,390.46 314.98,389.23 315.24,389.48 315.50,390.37 315.76,389.10 316.02,389.34 316.28,388.98 316.54,389.90 316.80,388.27 317.06,389.13 317.32,389.45 317.58,389.69 317.84,389.48 318.10,388.70 318.36,389.43 318.62,388.48 318.88,388.78 319.14,388.23 319.40,388.55 319.66,389.10 319.92,390.31 320.18,388.78 320.44,388.41 320.71,388.79 320.97,388.49 321.23,389.13 321.49,389.03 321.75,389.36 322.01,387.77 322.27,388.53 322.53,388.92 322.79,389.44 323.05,388.60 323.31,387.48 323.57,388.09 323.83,388.84 324.09,387.34 324.35,387.29 324.61,387.53 324.87,387.61 325.13,387.31 325.39,387.67 325.65,387.46 325.91,388.45 326.17,386.86 326.43,387.66 326.69,386.39 326.95,389.07 327.21,387.16 327.47,386.91 327.73,387.74 327.99,387.14 328.25,386.87 328.51,386.92 328.77,387.60 329.03,387.26 329.29,386.41 329.55,386.16 329.81,386.87 330.07,386.81 330.33,386.65 330.59,386.00 330.85,387.33 331.11,387.43 331.37,386.36 331.63,387.10 331.89,386.67 332.15,386.12 332.41,385.76 332.68,386.71 332.94,385.35 333.20,386.99 333.46,385.33 333.72,386.66 333.98,386.35 334.24,384.96 334.50,385.55 334.76,385.71 335.02,385.36 335.28,384.64 335.54,384.87 335.80,384.74 336.06,383.89 336.32,384.97 336.58,384.68 336.84,384.59 337.10,383.33 337.36,383.32 337.62,383.00 337.88,383.76 338.14,383.71 338.40,382.89 338.66,383.60 338.92,382.63 339.18,382.54 339.44,383.33 339.70,382.73 339.96,382.56 340.22,381.12 340.48,380.33 340.74,381.93 341.00,381.64 341.26,382.96 341.52,381.06 341.78,380.98 342.04,381.47 342.30,379.99 342.56,381.35 342.82,380.22 343.08,379.76 343.34,380.49 343.60,378.86 343.86,378.53 344.12,379.97 344.38,379.79 344.65,378.23 344.91,378.45 345.17,379.04 345.43,378.22 345.69,377.89 345.95,377.71 346.21,376.85 346.47,376.95 346.73,375.81 346.99,375.87 347.25,376.14 347.51,375.67 347.77,375.31 348.03,375.53 348.29,376.64 348.55,375.04 348.81,375.38 349.07,374.15 349.33,375.00 349.59,374.53 349.85,374.48 350.11,373.40 350.37,374.24 350.63,374.38 350.89,373.83 351.15,374.18 351.41,373.62 351.67,373.59 351.93,373.25 352.19,371.99 352.45,373.41 352.71,372.97 352.97,372.98 353.23,372.25 353.49,373.36 353.75,372.89 354.01,372.31 354.27,371.79 354.53,372.05 354.79,372.23 355.05,372.34 355.31,371.29 355.57,370.54 355.83,371.17 356.09,371.14 356.35,370.85 356.62,371.67 356.88,371.14 357.14,371.00 357.40,370.52 357.66,370.63 357.92,371.33 358.18,369.66 358.44,369.18 358.70,370.41 358.96,369.88 359.22,369.88 359.48,369.45 359.74,370.89 360.00,368.73 360.26,370.05 360.52,368.81 360.78,369.53 361.04,369.77 361.30,369.53 361.56,368.76 361.82,369.88 362.08,369.48 362.34,369.48 362.60,370.25 362.86,368.15 363.12,368.57 363.38,368.91 363.64,368.05 363.90,369.41 364.16,368.75 364.42,367.48 364.68,367.91 364.94,370.01 365.20,370.69 365.46,369.08 365.72,367.60 365.98,368.57 366.24,368.33 366.50,367.71 366.76,368.65 367.02,367.85 367.28,367.40 367.54,367.55 367.80,367.54 368.06,368.15 368.32,367.33 368.59,367.91 368.85,366.68 369.11,365.76 369.37,367.93 369.63,368.84 369.89,367.60 370.15,367.00 370.41,366.49 370.67,366.41 370.93,367.60 371.19,367.55 371.45,366.11 371.71,367.64 371.97,366.11 372.23,366.94 372.49,366.22 372.75,366.20 373.01,366.10 373.27,366.02 373.53,367.18 373.79,366.26 374.05,366.40 374.31,366.15 374.57,365.47" fill="none" stroke="#000" stroke-width="1.1" stroke-linejoin="round"/>
<polyline points="218.70,391.76 218.96,392.11 219.22,391.39 219.48,390.94 219.74,390.46 220.00,391.15 220.26,391.59 220.52,391.75 220.78,390.72 221.04,390.12 221.30,391.04 221.56,392.05 221.82,391.86 222.08,390.14 222.34,391.08 222.60,392.39 222.86,391.27 223.12,392.00 223.38,391.64 223.64,391.55 223.90,391.70 224.16,390.84 224.42,391.26 224.68,391.61 224.95,390.94 225.21,390.66 225.47,392.32 225.73,391.39 225.99,391.87 226.25,391.33 226.51,392.08 226.77,391.20 227.03,391.24 227.29,391.42 227.55,391.92 227.81,391.48 228.07,391.94 228.33,392.12 228.59,391.06 228.85,391.95 229.11,390.42 229.37,390.72 229.63,392.55 229.89,391.02 230.15,391.95 230.41,391.18 230.67,391.17 230.93,392.54 231.19,391.36 231.45,391.37 231.71,390.55 231.97,391.99 232.23,390.70 232.49,391.94 232.75,391.42 233.01,391.76 233.27,390.22 233.53,390.81 233.79,389.56 234.05,390.76 234.31,390.62 234.57,390.62 234.83,391.60 235.09,391.24 235.35,390.28 235.61,391.45 235.87,391.06 236.13,391.20 236.39,390.77 236.65,391.43 236.92,391.28 237.18,391.02 237.44,391.11 237.70,391.76 237.96,390.57 238.22,392.05 238.48,391.98 238.74,392.04 239.00,390.52 239.26,391.41 239.52,391.82 239.78,391.93 240.04,390.88 240.30,391.88 240.56,392.02 240.82,390.75 241.08,391.97 241.34,391.38 241.60,391.16 241.86,391.46 242.12,391.19 242.38,390.25 242.64,391.50 242.90,392.00 243.16,392.39 243.42,391.29 243.68,391.39 243.94,390.97 244.20,391.46 244.46,391.47 244.72,391.63 244.98,391.49 245.24,391.03 245.50,391.40 245.76,391.07 246.02,389.86 246.28,390.81 246.54,392.20 246.80,389.96 247.06,390.90 247.32,391.76 247.58,390.52 247.84,391.11 248.10,391.54 248.36,391.55 248.62,391.79 248.89,391.09 249.15,390.40 249.41,391.34 249.67,390.83 249.93,389.85 250.19,391.93 250.45,390.94 250.71,391.32 250.97,391.82 251.23,391.80 251.49,391.11 251.75,390.81 252.01,391.46 252.27,391.06 252.53,390.61 252.79,390.90 253.05,390.51 253.31,390.78 253.57,390.76 253.83,389.86 254.09,390.67 254.35,391.00 254.61,390.61 254.87,391.70 255.13,391.31 255.39,390.54 255.65,390.65 255.91,390.03 256.17,391.07 256.43,392.06 256.69,389.76 256.95,390.33 257.21,391.78 257.47,390.14 257.73,391.04 257.99,392.28 258.25,391.34 258.51,391.40 258.77,389.98 259.03,391.59 259.29,391.22 259.55,391.24 259.81,391.30 260.07,391.66 260.33,390.90 260.59,390.32 260.86,390.62 261.12,391.66 261.38,391.81 261.64,390.95 261.90,391.51 262.16,391.45 262.42,392.16 262.68,389.71 262.94,390.41 263.20,391.68 263.46,390.41 263.72,390.11 263.98,392.63 264.24,391.38 264.50,391.27 264.76,390.57 265.02,391.09 265.28,391.16 265.54,391.04 265.80,389.75 266.06,389.55 266.32,391.35 266.58,391.62 266.84,389.18 267.10,391.65 267.36,391.38 267.62,390.96 267.88,390.66 268.14,390.29 268.40,390.72 268.66,391.57 268.92,390.64 269.18,390.81 269.44,389.71 269.70,390.98 269.96,391.87 270.22,391.67 270.48,389.99 270.74,391.32 271.00,392.37 271.26,391.35 271.52,390.95 271.78,390.15 272.04,391.63 272.30,390.49 272.56,390.40 272.83,391.41 273.09,391.06 273.35,389.74 273.61,389.77 273.87,390.35 274.13,390.70 274.39,390.15 274.65,391.01 274.91,390.98 275.17,391.49 275.43,390.90 275.69,390.96 275.95,389.03 276.21,391.03 276.47,390.04 276.73,390.00 276.99,391.01 277.25,390.09 277.51,392.34 277.77,390.81 278.03,390.29 278.29,392.48 278.55,391.64 278.81,390.15 279.07,391.03 279.33,391.59 279.59,391.10 279.85,391.21 280.11,390.35 280.37,390.53 280.63,391.02 280.89,391.28 281.15,390.86 281.41,389.93 281.67,390.58 281.93,390.38 282.19,390.91 282.45,391.67 282.71,391.28 282.97,390.35 283.23,390.72 283.49,391.39 283.75,391.87 284.01,390.70 284.27,391.00 284.53,391.00 284.80,390.98 285.06,390.56 285.32,390.55 285.58,390.10 285.84,390.11 286.10,389.84 286.36,390.19 286.62,390.95 286.88,390.76 287.14,390.38 287.40,390.92 287.66,390.33 287.92,389.92 288.18,391.23 288.44,391.88 288.70,389.88 288.96,390.66 289.22,390.19 289.48,391.56 289.74,389.49 290.00,390.16 290.26,390.73 290.52,390.88 290.78,390.56 291.04,390.74 291.30,390.81 291.56,391.37 291.82,389.76 292.08,390.63 292.34,390.55 292.60,390.53 292.86,392.18 293.12,390.23 293.38,390.80 293.64,390.76 293.90,390.52 294.16,391.21 294.42,389.98 294.68,391.01 294.94,391.15 295.20,391.11 295.46,390.42 295.72,390.02 295.98,390.91 296.24,391.52 296.50,389.78 296.77,391.21 297.03,389.68 297.29,390.51 297.55,390.94 297.81,390.89 298.07,390.14 298.33,389.85 298.59,390.57 298.85,389.80 299.11,389.02 299.37,390.56 299.63,391.19 299.89,391.11 300.15,391.33 300.41,390.82 300.67,390.87 300.93,391.27 301.19,390.01 301.45,392.12 301.71,391.24 301.97,388.99 302.23,389.64 302.49,389.97 302.75,390.01 303.01,389.12 303.27,389.94 303.53,390.24 303.79,391.11 304.05,390.32 304.31,390.76 304.57,390.73 304.83,390.73 305.09,390.26 305.35,390.45 305.61,389.63 305.87,391.09 306.13,390.30 306.39,388.93 306.65,390.14 306.91,389.35 307.17,389.37 307.43,389.24 307.69,389.62 307.95,391.03 308.21,390.27 308.47,390.33 308.74,391.10 309.00,390.35 309.26,390.87 309.52,391.13 309.78,389.85 310.04,390.01 310.30,390.43 310.56,390.59 310.82,390.30 311.08,390.18 311.34,390.17 311.60,389.91 311.86,390.15 312.12,389.58 312.38,389.47 312.64,389.56 312.90,390.23 313.16,390.18 313.42,389.45 313.68,389.86 313.94,389.73 314.20,391.36 314.46,391.48 314.72,389.41 314.98,389.40 315.24,388.66 315.50,389.09 315.76,389.40 316.02,389.51 316.28,390.45 316.54,388.87 316.80,389.84 317.06,389.07 317.32,389.24 317.58,389.16 317.84,388.71 318.10,389.61 318.36,389.51 318.62,389.79 318.88,389.43 319.14,388.02 319.40,389.35 319.66,388.26 319.92,388.47 320.18,388.49 320.44,388.40 320.71,389.59 320.97,388.61 321.23,387.75 321.49,389.24 321.75,388.76 322.01,389.15 322.27,388.43 322.53,389.32 322.79,387.46 323.05,388.75 323.31,389.49 323.57,387.19 323.83,387.70 324.09,387.95 324.35,387.89 324.61,388.44 324.87,388.29 325.13,387.60 325.39,387.42 325.65,387.35 325.91,387.78 326.17,388.18 326.43,387.94 326.69,387.01 326.95,386.73 327.21,387.87 327.47,387.89 327.73,386.67 327.99,386.96 328.25,386.91 328.51,388.19 328.77,387.49 329.03,387.51 329.29,386.95 329.55,388.15 329.81,386.08 330.07,386.66 330.33,386.49 330.59,387.50 330.85,386.64 331.11,385.63 331.37,387.50 331.63,386.15 331.89,385.80 332.15,386.64 332.41,385.54 332.68,386.21 332.94,385.07 333.20,385.44 333.46,385.55 333.72,384.24 333.98,384.93 334.24,384.51 334.50,386.08 334.76,385.61 335.02,384.50 335.28,384.34 335.54,384.87 335.80,384.20 336.06,385.32 336.32,384.34 336.58,385.14 336.84,384.01 337.10,384.44 337.36,384.42 337.62,383.82 337.88,382.51 338.14,384.28 338.40,383.87 338.66,382.61 338.92,383.47 339.18,381.83 339.44,382.71 339.70,382.61 339.96,382.24 340.22,381.11 340.48,381.63 340.74,381.52 341.00,381.48 341.26,382.48 341.52,381.80 341.78,379.97 342.04,380.19 342.30,380.18 342.56,379.87 342.82,380.44 343.08,379.63 343.34,380.25 343.60,379.18 343.86,379.72 344.12,379.18 344.38,378.53 344.65,378.86 344.91,378.00 345.17,377.92 345.43,377.78 345.69,376.93 345.95,378.61 346.21,378.49 346.47,376.79 346.73,376.37 346.99,375.44 347.25,376.09 347.51,375.84 347.77,376.80 348.03,375.50 348.29,375.36 348.55,376.33 348.81,376.03 349.07,375.32 349.33,374.87 349.59,376.86 349.85,374.66 350.11,374.38 350.37,374.48 350.63,374.02 350.89,373.73 351.15,374.57 351.41,373.45 351.67,373.75 351.93,374.07 352.19,373.14 352.45,372.13 352.71,373.97 352.97,373.96 353.23,373.82 353.49,371.23 353.75,372.59 354.01,372.33 354.27,372.68 354.53,372.65 354.79,373.25 355.05,371.65 355.31,371.46 355.57,372.84 355.83,372.09 356.09,371.77 356.35,371.17 356.62,370.87 356.88,370.17 357.14,369.90 357.40,369.99 357.66,369.71 357.92,371.30 358.18,370.79 358.44,369.55 358.70,370.04 358.96,370.13 359.22,371.39 359.48,371.23 359.74,369.40 360.00,369.58 360.26,369.93 360.52,369.94 360.78,370.75 361.04,369.26 361.30,368.74 361.56,368.26 361.82,369.26 362.08,369.36 362.34,369.90 362.60,368.27 362.86,367.88 363.12,369.37 363.38,368.70 363.64,368.77 363.90,369.15 364.16,370.38 364.42,368.88 364.68,368.16 364.94,369.48 365.20,369.01 365.46,370.59 365.72,367.45 365.98,367.91 366.24,368.15 366.50,368.30 366.76,368.49 367.02,368.05 367.28,368.14 367.54,368.03 367.80,367.83 368.06,367.66 368.32,366.64 368.59,368.59 368.85,367.38 369.11,367.92 369.37,368.20 369.63,368.97 369.89,366.90 370.15,367.92 370.41,367.71 370.67,366.83 370.93,367.81 371.19,367.01 371.45,367.02 371.71,366.37 371.97,366.17 372.23,367.38 372.49,366.12 372.75,366.75 373.01,366.55 373.27,366.72 373.53,366.00 373.79,367.28 374.05,366.24 374.31,365.57 374.57,366.50" fill="none" stroke="#000" stroke-width="0.8" stroke-linejoin="round"/>
<polyline points="218.70,389.30 375.20,389.30" fill="none" stroke="#000" stroke-width="1.3"/>
<polyline points="218.70,389.30 218.70,394.20" fill="none" stroke="#000" stroke-width="1.3"/>
<polyline points="302.50,389.30 302.50,394.20" fill="none" stroke="#000" stroke-width="1.3"/>
<polyline points="338.60,389.30 338.60,394.20" fill="none" stroke="#000" stroke-width="1.3"/>
<polyline points="374.60,389.30 374.60,394.20" fill="none" stroke="#000" stroke-width="1.3"/>
<polyline points="338.60,299.30 338.60,411.90" fill="none" stroke="#000" stroke-width="1.3"/>
<polyline points="333.60,299.30 338.60,299.30" fill="none" stroke="#000" stroke-width="1.3"/>
<polyline points="333.60,344.20 338.60,344.20" fill="none" stroke="#000" stroke-width="1.3"/>
<polyline points="333.60,411.30 338.60,411.30" fill="none" stroke="#000" stroke-width="1.3"/>
<text transform="translate(321.03,302.99) scale(1.001,1)" font-size="11.27" font-weight="bold" fill="#000" stroke="#000" stroke-width="0.35">40</text>
<text transform="translate(321.11,347.89) scale(1.007,1)" font-size="11.13" font-weight="bold" fill="#000" stroke="#000" stroke-width="0.35">20</text>
<text transform="translate(317.66,415.49) scale(1.020,1)" font-size="10.85" font-weight="bold" fill="#000" stroke="#000" stroke-width="0.35">-10</text>
<text transform="translate(207.43,405.48) scale(0.967,1)" font-size="12.11" font-weight="bold" fill="#000" stroke="#000" stroke-width="0.35">-100</text>
<text transform="translate(294.65,405.48) scale(0.971,1)" font-size="11.69" font-weight="bold" fill="#000" stroke="#000" stroke-width="0.35">-30</text>
<text transform="translate(368.31,405.48) scale(0.987,1)" font-size="11.83" font-weight="bold" fill="#000" stroke="#000" stroke-width="0.35">30</text>
<text transform="translate(241.06,415.60) scale(1.121,1)" font-size="10.17" font-weight="bold" fill="#000" stroke="#000" stroke-width="0.35">Em (mV)</text>
<text transform="translate(351.10,331.74) rotate(-90) scale(0.965,1)" font-size="11.77" font-weight="bold" fill="#000" stroke="#000" stroke-width="0.35">pA/pF</text>
<text transform="translate(414.35,256.00) scale(1.199,1)" font-size="14.78" font-weight="bold" fill="#222" stroke="#222" stroke-width="0.35">D</text>
<text transform="translate(474.67,267.20) scale(0.991,1)" font-size="14.24" font-weight="normal" fill="#333" stroke="#333" stroke-width="0.2">HEK hTREK-1</text>
<rect x="472.50" y="278.40" width="83.00" height="95.00" fill="#f9f2f5" stroke="none" stroke-width="0"/>
<rect x="484.40" y="332.40" width="23.00" height="40.90" fill="#6e6e6e" stroke="#000" stroke-width="1.6"/>
<rect x="519.70" y="356.60" width="23.40" height="16.70" fill="#ececec" stroke="#000" stroke-width="1.6"/>
<polyline points="495.50,332.20 495.50,321.50" fill="none" stroke="#000" stroke-width="1.3"/>
<polyline points="490.00,321.50 501.80,321.50" fill="none" stroke="#000" stroke-width="1.3"/>
<polyline points="531.50,356.40 531.50,351.50" fill="none" stroke="#000" stroke-width="1.3"/>
<polyline points="526.40,351.50 537.30,351.50" fill="none" stroke="#000" stroke-width="1.3"/>
<circle cx="495.50" cy="296.90" r="1.95" fill="#fff" stroke="#000" stroke-width="0.95"/>
<circle cx="491.80" cy="329.50" r="1.95" fill="#fff" stroke="#000" stroke-width="0.95"/>
<circle cx="499.60" cy="327.30" r="1.95" fill="#fff" stroke="#000" stroke-width="0.95"/>
<circle cx="495.50" cy="350.00" r="1.95" fill="#fff" stroke="#000" stroke-width="0.95"/>
<circle cx="495.50" cy="356.40" r="1.95" fill="#fff" stroke="#000" stroke-width="0.95"/>
<circle cx="527.80" cy="344.20" r="1.95" fill="#fff" stroke="#000" stroke-width="0.95"/>
<circle cx="535.50" cy="347.30" r="1.95" fill="#fff" stroke="#000" stroke-width="0.95"/>
<circle cx="531.50" cy="357.80" r="1.95" fill="#fff" stroke="#000" stroke-width="0.95"/>
<circle cx="527.80" cy="364.50" r="1.95" fill="#fff" stroke="#000" stroke-width="0.95"/>
<circle cx="535.50" cy="364.20" r="1.95" fill="#fff" stroke="#000" stroke-width="0.95"/>
<polyline points="471.50,278.30 471.50,374.00" fill="none" stroke="#000" stroke-width="1.4"/>
<polyline points="470.80,373.30 555.50,373.30" fill="none" stroke="#000" stroke-width="1.4"/>
<polyline points="469.30,278.50 471.50,278.50" fill="none" stroke="#000" stroke-width="1.3"/>
<polyline points="469.30,302.30 471.50,302.30" fill="none" stroke="#000" stroke-width="1.3"/>
<polyline points="469.30,325.80 471.50,325.80" fill="none" stroke="#000" stroke-width="1.3"/>
<polyline points="469.30,349.50 471.50,349.50" fill="none" stroke="#000" stroke-width="1.3"/>
<polyline points="469.30,373.30 471.50,373.30" fill="none" stroke="#000" stroke-width="1.3"/>
<polyline points="495.40,373.30 495.40,376.20" fill="none" stroke="#000" stroke-width="1.3"/>
<polyline points="531.20,373.30 531.20,376.20" fill="none" stroke="#000" stroke-width="1.3"/>
<text transform="translate(454.65,282.87) scale(1.021,1)" font-size="12.68" font-weight="bold" fill="#000" stroke="#000" stroke-width="0.35">20</text>
<text transform="translate(454.76,306.37) scale(0.933,1)" font-size="13.29" font-weight="bold" fill="#000" stroke="#000" stroke-width="0.35">15</text>
<text transform="translate(454.75,329.98) scale(1.015,1)" font-size="12.39" font-weight="bold" fill="#000" stroke="#000" stroke-width="0.35">10</text>
<text transform="translate(461.84,353.87) scale(0.933,1)" font-size="12.86" font-weight="bold" fill="#000" stroke="#000" stroke-width="0.35">5</text>
<text transform="translate(461.48,377.38) scale(1.065,1)" font-size="12.25" font-weight="bold" fill="#000" stroke="#000" stroke-width="0.35">0</text>
<text transform="translate(446.90,345.85) rotate(-90) scale(0.952,1)" font-size="13.81" font-weight="bold" fill="#000" stroke="#000" stroke-width="0.35">pA/pF</text>
<text transform="translate(519.03,328.00) scale(0.907,1)" font-size="7.41" font-weight="bold" fill="#222" stroke="#222" stroke-width="0.1">-57,52%</text>
<text transform="translate(530.06,339.58) scale(0.942,1)" font-size="8.38" font-weight="bold" fill="#222">*</text>
<text transform="translate(491.25,387.30) scale(1.051,1)" font-size="12.46" font-weight="bold" fill="#000" stroke="#000" stroke-width="0.35">I</text>
<text transform="translate(494.58,391.51) scale(1.168,1)" font-size="9.01" font-weight="bold" fill="#000" stroke="#000" stroke-width="0.35">0</text>
<text transform="translate(517.35,387.30) scale(1.051,1)" font-size="12.46" font-weight="bold" fill="#000" stroke="#000" stroke-width="0.35">I</text>
<text transform="translate(521.19,391.60) scale(1.101,1)" font-size="8.55" font-weight="bold" fill="#000" stroke="#000" stroke-width="0.35">NrFlx</text>
<polyline points="457.80,407.74 458.08,407.52 458.35,407.55 458.63,406.95 458.91,407.25 459.19,407.03 459.46,406.62 459.74,406.61 460.02,406.83 460.29,407.36 460.57,407.53 460.85,407.56 461.13,407.29 461.40,407.12 461.68,407.65 461.96,407.74 462.23,406.91 462.51,408.15 462.79,407.19 463.07,406.84 463.34,407.65 463.62,407.72 463.90,407.51 464.17,406.71 464.45,407.15 464.73,408.14 465.00,407.31 465.28,406.49 465.56,406.50 465.84,406.70 466.11,407.20 466.39,408.11 466.67,406.96 466.94,407.15 467.22,407.01 467.50,406.17 467.78,406.94 468.05,406.88 468.33,406.69 468.61,407.18 468.88,407.41 469.16,407.45 469.44,406.59 469.72,406.73 469.99,407.30 470.27,406.36 470.55,406.91 470.82,407.77 471.10,406.66 471.38,407.08 471.66,407.75 471.93,406.70 472.21,407.18 472.49,407.21 472.76,406.64 473.04,408.22 473.32,407.70 473.60,407.21 473.87,406.82 474.15,407.34 474.43,407.52 474.70,407.55 474.98,407.01 475.26,406.56 475.54,407.76 475.81,408.11 476.09,407.10 476.37,407.14 476.64,407.44 476.92,406.57 477.20,406.45 477.47,407.23 477.75,407.10 478.03,406.57 478.31,407.13 478.58,407.68 478.86,406.92 479.14,407.39 479.41,406.69 479.69,407.15 479.97,406.97 480.25,406.56 480.52,406.92 480.80,407.20 481.08,407.41 481.35,405.86 481.63,406.20 481.91,407.67 482.19,407.41 482.46,406.48 482.74,407.14 483.02,406.79 483.29,406.34 483.57,406.72 483.85,406.86 484.13,407.04 484.40,406.82 484.68,406.55 484.96,405.79 485.23,406.16 485.51,406.86 485.79,406.23 486.07,406.67 486.34,407.56 486.62,406.79 486.90,406.16 487.17,407.05 487.45,406.18 487.73,406.87 488.01,406.68 488.28,407.36 488.56,405.52 488.84,406.42 489.11,406.11 489.39,406.92 489.67,407.48 489.94,405.97 490.22,407.04 490.50,405.71 490.78,406.73 491.05,405.72 491.33,407.03 491.61,407.60 491.88,406.22 492.16,406.64 492.44,406.59 492.72,406.00 492.99,407.07 493.27,407.30 493.55,407.22 493.82,407.50 494.10,407.56 494.38,407.27 494.66,407.08 494.93,406.79 495.21,407.21 495.49,406.60 495.76,406.10 496.04,406.65 496.32,406.29 496.60,407.03 496.87,406.35 497.15,406.25 497.43,406.88 497.70,407.37 497.98,406.62 498.26,406.52 498.54,405.71 498.81,406.74 499.09,405.60 499.37,407.85 499.64,406.68 499.92,406.78 500.20,406.72 500.47,406.80 500.75,406.52 501.03,405.57 501.31,406.57 501.58,405.81 501.86,406.52 502.14,406.40 502.41,407.79 502.69,406.40 502.97,406.11 503.25,407.07 503.52,406.77 503.80,406.90 504.08,405.23 504.35,406.96 504.63,406.81 504.91,407.92 505.19,407.28 505.46,406.27 505.74,407.10 506.02,407.92 506.29,406.53 506.57,406.30 506.85,406.20 507.13,406.14 507.40,406.68 507.68,404.76 507.96,406.63 508.23,406.07 508.51,407.02 508.79,406.65 509.07,407.15 509.34,406.16 509.62,406.50 509.90,406.83 510.17,407.38 510.45,405.93 510.73,405.77 511.01,405.75 511.28,406.26 511.56,405.81 511.84,405.68 512.11,405.89 512.39,405.36 512.67,406.25 512.94,406.03 513.22,407.00 513.50,404.94 513.78,406.54 514.05,405.91 514.33,405.73 514.61,406.53 514.88,406.08 515.16,405.65 515.44,406.09 515.72,406.19 515.99,406.19 516.27,406.40 516.55,406.08 516.82,405.76 517.10,405.70 517.38,405.32 517.66,405.90 517.93,406.21 518.21,405.42 518.49,405.69 518.76,405.30 519.04,405.76 519.32,405.55 519.60,405.61 519.87,405.41 520.15,406.38 520.43,405.86 520.70,405.68 520.98,404.78 521.26,405.80 521.54,405.48 521.81,405.84 522.09,406.92 522.37,404.99 522.64,405.30 522.92,404.96 523.20,406.46 523.48,405.49 523.75,405.54 524.03,406.54 524.31,405.34 524.58,405.95 524.86,405.29 525.14,406.54 525.41,406.07 525.69,405.95 525.97,406.41 526.25,405.47 526.52,404.72 526.80,405.49 527.08,405.09 527.35,404.58 527.63,405.10 527.91,405.63 528.19,406.52 528.46,405.17 528.74,405.55 529.02,405.61 529.29,404.90 529.57,404.98 529.85,406.22 530.13,405.13 530.40,405.45 530.68,404.73 530.96,405.23 531.23,404.65 531.51,405.58 531.79,405.40 532.07,405.47 532.34,405.24 532.62,405.25 532.90,404.37 533.17,405.65 533.45,404.99 533.73,405.72 534.01,405.86 534.28,405.33 534.56,405.86 534.84,404.81 535.11,405.34 535.39,405.19 535.67,404.56 535.95,403.86 536.22,405.10 536.50,405.94 536.78,404.96 537.05,404.68 537.33,403.95 537.61,404.64 537.88,405.12 538.16,403.97 538.44,403.83 538.72,404.58 538.99,404.25 539.27,404.17 539.55,402.74 539.82,404.68 540.10,404.53 540.38,404.29 540.66,403.74 540.93,404.33 541.21,403.78 541.49,403.50 541.76,402.77 542.04,404.07 542.32,404.13 542.60,404.10 542.87,405.03 543.15,404.55 543.43,403.66 543.70,403.62 543.98,402.01 544.26,402.83 544.54,403.09 544.81,402.59 545.09,403.91 545.37,403.81 545.64,403.89 545.92,403.46 546.20,401.91 546.48,403.44 546.75,403.64 547.03,403.14 547.31,402.57 547.58,402.76 547.86,402.47 548.14,403.78 548.42,403.51 548.69,403.04 548.97,402.78 549.25,401.88 549.52,403.59 549.80,402.27 550.08,402.80 550.35,402.18 550.63,402.99 550.91,403.44 551.19,401.64 551.46,402.19 551.74,403.66 552.02,401.80 552.29,402.91 552.57,402.24 552.85,402.13 553.13,402.99 553.40,401.23 553.68,402.31 553.96,400.75 554.23,401.49 554.51,401.41 554.79,401.52 555.07,400.26 555.34,402.30 555.62,402.07 555.90,401.93 556.17,400.58 556.45,400.59 556.73,401.21 557.01,401.02 557.28,402.33 557.56,400.01 557.84,401.18 558.11,400.87 558.39,401.11 558.67,400.35 558.95,400.92 559.22,400.61 559.50,400.57 559.78,400.95 560.05,400.96 560.33,400.16 560.61,400.10 560.88,399.77 561.16,399.17 561.44,401.12 561.72,401.51 561.99,400.37 562.27,399.05 562.55,399.98 562.82,401.26 563.10,398.61 563.38,399.38 563.66,400.84 563.93,400.27 564.21,399.50 564.49,399.94 564.76,399.55 565.04,398.98 565.32,399.31 565.60,398.17 565.87,399.34 566.15,397.96 566.43,399.52 566.70,399.92 566.98,400.58 567.26,399.56 567.54,398.74 567.81,397.99 568.09,401.41 568.37,398.65 568.64,399.33 568.92,397.92 569.20,398.83 569.48,398.12 569.75,396.84 570.03,398.14 570.31,398.30 570.58,397.30 570.86,397.79 571.14,398.13 571.42,399.21 571.69,398.13 571.97,399.14 572.25,397.54 572.52,397.17 572.80,397.53 573.08,395.99 573.35,398.39 573.63,397.04 573.91,397.28 574.19,398.23 574.46,396.76 574.74,396.42 575.02,396.11 575.29,397.13 575.57,396.38 575.85,397.41 576.13,395.52 576.40,395.19 576.68,396.51 576.96,396.39 577.23,397.42 577.51,396.43 577.79,396.69 578.07,396.11 578.34,397.46 578.62,394.64 578.90,395.94 579.17,395.10 579.45,395.54 579.73,396.16 580.01,394.15 580.28,394.79 580.56,397.01 580.84,395.65 581.11,395.77 581.39,396.21 581.67,393.51 581.95,396.45 582.22,393.93 582.50,396.76 582.78,393.93 583.05,395.56 583.33,397.04 583.61,394.70 583.89,394.44 584.16,395.63 584.44,393.75 584.72,396.20 584.99,393.57 585.27,393.99 585.55,392.81 585.82,394.75 586.10,393.51 586.38,394.79 586.66,393.42 586.93,393.88 587.21,393.29 587.49,395.16 587.76,393.44 588.04,393.48 588.32,392.35 588.60,394.01 588.87,393.79 589.15,392.95 589.43,392.99 589.70,395.81 589.98,393.62 590.26,392.47 590.54,393.56 590.81,394.92 591.09,393.42 591.37,393.05 591.64,393.88 591.92,392.81 592.20,393.89 592.48,392.95 592.75,392.62 593.03,390.91 593.31,392.22 593.58,391.26 593.86,392.22 594.14,393.49 594.42,393.44 594.69,391.47 594.97,393.76 595.25,393.69 595.52,391.16 595.80,392.80 596.08,393.07 596.36,390.22 596.63,392.67 596.91,391.13 597.19,391.71 597.46,391.48 597.74,391.51 598.02,390.47 598.29,389.93 598.57,392.30 598.85,389.75 599.13,391.45 599.40,391.35 599.68,390.41 599.96,391.60 600.23,391.93 600.51,389.37 600.79,391.45 601.07,392.97 601.34,394.11 601.62,390.34 601.90,390.76 602.17,388.75 602.45,391.69 602.73,391.67 603.01,390.31 603.28,388.89 603.56,388.75 603.84,390.12 604.11,390.76 604.39,389.88 604.67,388.35 604.95,389.97 605.22,390.29 605.50,389.28 605.78,389.47 606.05,389.50 606.33,387.34 606.61,388.76 606.89,389.28 607.16,389.70 607.44,389.55 607.72,388.64 607.99,388.33 608.27,389.71 608.55,389.52 608.83,389.17 609.10,389.81 609.38,387.53 609.66,389.62 609.93,388.40 610.21,387.41 610.49,389.48 610.76,389.26 611.04,388.40 611.32,387.61 611.60,387.88 611.87,387.95 612.15,386.54 612.43,388.48 612.70,388.52 612.98,386.96 613.26,387.48 613.54,386.47 613.81,386.24 614.09,388.61 614.37,389.66 614.64,386.60 614.92,387.20 615.20,386.76 615.48,388.04 615.75,386.03 616.03,387.13 616.31,386.17 616.58,385.69 616.86,386.54 617.14,386.71 617.42,387.34 617.69,383.38 617.97,388.00 618.25,385.55 618.52,388.06 618.80,387.22 619.08,384.58 619.36,387.01 619.63,384.88 619.91,386.52 620.19,385.00 620.46,387.64 620.74,387.28 621.02,384.20 621.29,385.48 621.57,387.05 621.85,386.36 622.13,389.03 622.40,386.11 622.68,387.26 622.96,386.80 623.23,383.85 623.51,386.24 623.79,386.30 624.07,386.85 624.34,384.70 624.62,384.81 624.90,386.43 625.17,387.38 625.45,385.62 625.73,385.19 626.01,387.68 626.28,383.92 626.56,386.34 626.84,385.11 627.11,386.13 627.39,386.08 627.67,384.03 627.95,385.00 628.22,386.90 628.50,384.64 628.78,384.04 629.05,385.21 629.33,383.68 629.61,386.06 629.89,383.78 630.16,384.63 630.44,384.67 630.72,383.19 630.99,383.97 631.27,385.17 631.55,384.15 631.83,385.56 632.10,384.10 632.38,383.10 632.66,383.19 632.93,385.50 633.21,384.91 633.49,383.81 633.76,383.86 634.04,385.45 634.32,384.26 634.60,384.03 634.87,382.62 635.15,384.17 635.43,384.53 635.70,385.73 635.98,386.06 636.26,383.23 636.54,384.25 636.81,384.86 637.09,383.10 637.37,383.68 637.64,384.38 637.92,383.34 638.20,384.70 638.48,383.30 638.75,383.69 639.03,384.66 639.31,384.59 639.58,384.99 639.86,382.96 640.14,384.21 640.42,385.28 640.69,383.11 640.97,383.38 641.25,383.94 641.52,383.67 641.80,384.37 642.08,384.63 642.36,382.82 642.63,385.25 642.91,385.74 643.19,385.47 643.46,382.74 643.74,385.12 644.02,384.12 644.30,384.66 644.57,385.01 644.85,383.94 645.13,383.87 645.40,381.27 645.68,384.10 645.96,383.34 646.23,381.13 646.51,381.85 646.79,382.82 647.07,382.45 647.34,383.59 647.62,382.49 647.90,383.17 648.17,384.51 648.45,381.31 648.73,383.46 649.01,382.72 649.28,384.05 649.56,384.91 649.84,385.58 650.11,387.49 650.39,382.61 650.67,385.53 650.95,384.00 651.22,383.33 651.50,385.17" fill="none" stroke="#b4b4b4" stroke-width="1.7" stroke-linejoin="round"/>
<polyline points="457.80,407.09 458.08,406.33 458.35,406.40 458.63,407.40 458.91,407.28 459.19,407.41 459.46,406.78 459.74,407.13 460.02,406.67 460.29,408.16 460.57,406.20 460.85,407.15 461.13,406.71 461.40,407.17 461.68,407.31 461.96,406.83 462.23,406.62 462.51,407.20 462.79,407.17 463.07,406.69 463.34,407.58 463.62,407.95 463.90,406.85 464.17,407.46 464.45,408.17 464.73,407.54 465.00,407.34 465.28,407.75 465.56,407.92 465.84,407.04 466.11,406.55 466.39,407.19 466.67,407.48 466.94,406.83 467.22,406.64 467.50,407.22 467.78,406.73 468.05,406.44 468.33,407.16 468.61,407.50 468.88,406.83 469.16,406.89 469.44,406.40 469.72,407.75 469.99,407.39 470.27,407.49 470.55,408.00 470.82,406.94 471.10,406.70 471.38,407.42 471.66,406.21 471.93,406.52 472.21,406.63 472.49,406.76 472.76,406.44 473.04,407.73 473.32,406.62 473.60,406.63 473.87,407.97 474.15,406.76 474.43,407.10 474.70,406.51 474.98,407.20 475.26,406.95 475.54,406.74 475.81,407.43 476.09,406.59 476.37,406.98 476.64,406.64 476.92,407.21 477.20,406.29 477.47,406.56 477.75,407.00 478.03,406.54 478.31,406.18 478.58,405.87 478.86,407.77 479.14,406.38 479.41,406.61 479.69,406.92 479.97,407.43 480.25,406.14 480.52,407.56 480.80,406.52 481.08,406.10 481.35,407.74 481.63,407.00 481.91,407.56 482.19,406.68 482.46,405.96 482.74,405.67 483.02,407.80 483.29,407.12 483.57,406.39 483.85,405.89 484.13,406.54 484.40,407.19 484.68,406.60 484.96,406.77 485.23,406.87 485.51,407.16 485.79,406.53 486.07,406.56 486.34,406.78 486.62,406.85 486.90,407.44 487.17,406.99 487.45,406.03 487.73,406.81 488.01,407.50 488.28,405.94 488.56,406.39 488.84,405.50 489.11,406.63 489.39,406.92 489.67,407.47 489.94,405.91 490.22,405.21 490.50,407.10 490.78,406.99 491.05,406.29 491.33,407.08 491.61,406.76 491.88,406.80 492.16,406.49 492.44,405.98 492.72,406.57 492.99,406.07 493.27,406.81 493.55,406.38 493.82,407.76 494.10,407.36 494.38,406.10 494.66,406.87 494.93,406.21 495.21,406.22 495.49,405.78 495.76,406.06 496.04,405.94 496.32,406.56 496.60,406.88 496.87,406.90 497.15,406.75 497.43,407.11 497.70,406.77 497.98,406.51 498.26,406.31 498.54,406.64 498.81,407.52 499.09,406.47 499.37,406.30 499.64,405.81 499.92,406.09 500.20,406.77 500.47,406.81 500.75,405.26 501.03,405.96 501.31,405.34 501.58,405.17 501.86,406.82 502.14,406.14 502.41,406.09 502.69,406.03 502.97,406.03 503.25,406.21 503.52,406.22 503.80,407.16 504.08,406.40 504.35,406.72 504.63,406.22 504.91,406.55 505.19,405.93 505.46,405.80 505.74,406.09 506.02,406.07 506.29,406.19 506.57,406.49 506.85,406.32 507.13,406.51 507.40,405.99 507.68,406.20 507.96,405.87 508.23,406.95 508.51,405.68 508.79,406.61 509.07,406.58 509.34,406.27 509.62,406.47 509.90,405.97 510.17,406.46 510.45,406.73 510.73,406.60 511.01,405.35 511.28,406.07 511.56,406.76 511.84,406.07 512.11,406.96 512.39,405.03 512.67,406.92 512.94,405.77 513.22,405.72 513.50,406.85 513.78,405.84 514.05,405.43 514.33,405.72 514.61,405.83 514.88,405.42 515.16,405.87 515.44,405.76 515.72,406.01 515.99,405.56 516.27,406.46 516.55,405.45 516.82,406.19 517.10,406.52 517.38,405.66 517.66,404.88 517.93,405.29 518.21,406.14 518.49,405.42 518.76,406.08 519.04,405.88 519.32,405.74 519.60,407.13 519.87,405.66 520.15,406.36 520.43,406.15 520.70,406.59 520.98,406.60 521.26,406.26 521.54,405.21 521.81,404.70 522.09,405.68 522.37,405.01 522.64,405.79 522.92,406.75 523.20,405.52 523.48,405.34 523.75,405.84 524.03,405.39 524.31,405.22 524.58,406.05 524.86,406.40 525.14,405.64 525.41,405.62 525.69,405.69 525.97,404.88 526.25,404.43 526.52,405.68 526.80,405.01 527.08,404.85 527.35,404.97 527.63,404.75 527.91,405.59 528.19,404.90 528.46,404.12 528.74,404.83 529.02,405.66 529.29,404.91 529.57,404.50 529.85,405.02 530.13,405.56 530.40,404.28 530.68,405.94 530.96,404.87 531.23,405.16 531.51,405.85 531.79,404.38 532.07,404.89 532.34,405.78 532.62,404.69 532.90,405.30 533.17,406.17 533.45,405.41 533.73,404.81 534.01,404.56 534.28,404.82 534.56,404.87 534.84,404.58 535.11,404.97 535.39,404.09 535.67,404.69 535.95,404.58 536.22,404.39 536.50,405.34 536.78,405.10 537.05,403.69 537.33,404.39 537.61,404.74 537.88,404.32 538.16,404.79 538.44,404.29 538.72,404.84 538.99,404.21 539.27,405.34 539.55,403.48 539.82,404.60 540.10,405.23 540.38,404.34 540.66,404.39 540.93,404.02 541.21,404.80 541.49,403.78 541.76,401.69 542.04,404.77 542.32,403.69 542.60,404.06 542.87,403.70 543.15,404.94 543.43,404.48 543.70,403.40 543.98,403.67 544.26,402.55 544.54,404.02 544.81,403.40 545.09,401.57 545.37,403.92 545.64,403.97 545.92,403.36 546.20,403.32 546.48,402.69 546.75,403.11 547.03,403.65 547.31,402.96 547.58,401.31 547.86,402.16 548.14,404.82 548.42,403.01 548.69,403.46 548.97,402.41 549.25,402.90 549.52,401.43 549.80,402.06 550.08,402.03 550.35,402.46 550.63,402.56 550.91,402.25 551.19,401.55 551.46,402.01 551.74,402.57 552.02,401.39 552.29,402.08 552.57,402.21 552.85,402.65 553.13,402.44 553.40,402.43 553.68,403.88 553.96,401.16 554.23,401.41 554.51,401.90 554.79,400.96 555.07,401.32 555.34,401.31 555.62,403.27 555.90,401.61 556.17,401.01 556.45,400.17 556.73,399.94 557.01,400.17 557.28,401.98 557.56,402.66 557.84,400.60 558.11,400.93 558.39,400.18 558.67,400.91 558.95,400.60 559.22,401.80 559.50,400.30 559.78,400.90 560.05,400.25 560.33,400.10 560.61,400.47 560.88,400.08 561.16,400.26 561.44,399.62 561.72,399.75 561.99,400.48 562.27,400.45 562.55,398.62 562.82,399.96 563.10,399.06 563.38,399.46 563.66,400.13 563.93,400.21 564.21,399.48 564.49,399.31 564.76,398.97 565.04,400.36 565.32,399.78 565.60,399.33 565.87,397.94 566.15,400.97 566.43,398.72 566.70,399.42 566.98,398.59 567.26,399.26 567.54,398.52 567.81,397.50 568.09,398.40 568.37,398.27 568.64,398.25 568.92,399.08 569.20,397.98 569.48,398.52 569.75,398.94 570.03,398.25 570.31,398.34 570.58,397.48 570.86,398.06 571.14,398.39 571.42,396.70 571.69,397.02 571.97,396.72 572.25,397.20 572.52,397.72 572.80,397.91 573.08,397.73 573.35,396.65 573.63,397.28 573.91,398.54 574.19,397.27 574.46,398.36 574.74,396.96 575.02,398.06 575.29,398.04 575.57,396.81 575.85,396.91 576.13,398.19 576.40,396.07 576.68,394.79 576.96,397.85 577.23,394.94 577.51,397.03 577.79,396.80 578.07,396.46 578.34,397.50 578.62,395.04 578.90,395.68 579.17,396.70 579.45,396.22 579.73,397.24 580.01,396.15 580.28,394.95 580.56,397.22 580.84,396.02 581.11,395.44 581.39,394.57 581.67,394.23 581.95,395.77 582.22,395.96 582.50,394.82 582.78,395.49 583.05,395.37 583.33,394.04 583.61,393.42 583.89,394.64 584.16,394.99 584.44,394.23 584.72,396.41 584.99,394.63 585.27,395.52 585.55,392.27 585.82,393.74 586.10,394.20 586.38,394.45 586.66,396.53 586.93,393.46 587.21,392.54 587.49,394.67 587.76,393.28 588.04,393.17 588.32,395.24 588.60,392.83 588.87,392.36 589.15,393.36 589.43,393.57 589.70,392.69 589.98,394.84 590.26,393.22 590.54,392.23 590.81,394.36 591.09,392.15 591.37,393.44 591.64,394.98 591.92,393.00 592.20,393.78 592.48,392.46 592.75,393.85 593.03,391.61 593.31,393.29 593.58,392.16 593.86,393.02 594.14,392.69 594.42,391.13 594.69,392.03 594.97,392.57 595.25,393.36 595.52,390.90 595.80,391.26 596.08,392.25 596.36,391.62 596.63,392.83 596.91,392.75 597.19,392.50 597.46,391.25 597.74,391.24 598.02,392.23 598.29,390.67 598.57,390.56 598.85,391.11 599.13,390.17 599.40,391.46 599.68,391.22 599.96,390.55 600.23,391.01 600.51,390.10 600.79,392.14 601.07,389.31 601.34,391.53 601.62,390.83 601.90,392.02 602.17,389.91 602.45,389.14 602.73,389.28 603.01,389.47 603.28,391.90 603.56,391.03 603.84,390.63 604.11,391.06 604.39,388.83 604.67,389.75 604.95,389.91 605.22,389.30 605.50,390.76 605.78,390.65 606.05,390.56 606.33,389.02 606.61,389.11 606.89,388.79 607.16,388.18 607.44,390.73 607.72,389.80 607.99,388.96 608.27,390.50 608.55,389.54 608.83,387.79 609.10,387.61 609.38,387.56 609.66,388.61 609.93,388.81 610.21,387.31 610.49,388.83 610.76,387.97 611.04,386.79 611.32,388.59 611.60,388.78 611.87,388.03 612.15,387.27 612.43,387.32 612.70,387.61 612.98,387.08 613.26,389.43 613.54,388.52 613.81,387.29 614.09,388.45 614.37,388.85 614.64,388.62 614.92,388.22 615.20,387.31 615.48,388.20 615.75,386.69 616.03,384.94 616.31,386.99 616.58,385.29 616.86,386.36 617.14,387.92 617.42,386.86 617.69,387.64 617.97,385.55 618.25,387.73 618.52,384.79 618.80,385.61 619.08,388.59 619.36,385.26 619.63,384.31 619.91,387.02 620.19,384.89 620.46,388.12 620.74,385.67 621.02,387.88 621.29,385.32 621.57,387.96 621.85,388.92 622.13,385.30 622.40,383.02 622.68,386.40 622.96,384.67 623.23,385.49 623.51,385.97 623.79,384.82 624.07,383.56 624.34,386.95 624.62,384.77 624.90,385.00 625.17,387.08 625.45,383.42 625.73,382.98 626.01,386.43 626.28,383.17 626.56,385.16 626.84,385.39 627.11,383.36 627.39,384.86 627.67,384.72 627.95,383.25 628.22,383.50 628.50,383.94 628.78,386.68 629.05,386.86 629.33,383.58 629.61,386.03 629.89,384.70 630.16,386.15 630.44,385.05 630.72,386.35 630.99,382.80 631.27,385.99 631.55,384.87 631.83,384.93 632.10,383.21 632.38,386.38 632.66,384.67 632.93,384.86 633.21,383.93 633.49,383.98 633.76,385.10 634.04,384.21 634.32,384.94 634.60,383.89 634.87,384.56 635.15,385.21 635.43,384.42 635.70,383.92 635.98,381.57 636.26,384.92 636.54,383.92 636.81,382.48 637.09,386.80 637.37,386.37 637.64,385.67 637.92,384.32 638.20,381.16 638.48,383.66 638.75,382.63 639.03,384.37 639.31,387.11 639.58,386.91 639.86,382.77 640.14,383.78 640.42,385.59 640.69,382.58 640.97,385.85 641.25,382.52 641.52,382.11 641.80,384.83 642.08,385.24 642.36,382.80 642.63,385.18 642.91,382.73 643.19,385.27 643.46,382.76 643.74,383.63 644.02,384.26 644.30,384.82 644.57,383.39 644.85,386.03 645.13,383.99 645.40,384.13 645.68,382.77 645.96,385.16 646.23,381.44 646.51,383.95 646.79,384.96 647.07,381.79 647.34,381.43 647.62,383.73 647.90,384.59 648.17,383.44 648.45,384.31 648.73,383.82 649.01,381.46 649.28,382.90 649.56,383.20 649.84,382.93 650.11,383.42 650.39,382.28 650.67,382.22 650.95,383.77 651.22,383.16 651.50,380.24" fill="none" stroke="#b4b4b4" stroke-width="1.7" stroke-linejoin="round"/>
<polyline points="457.80,407.11 458.08,406.51 458.35,406.68 458.63,406.69 458.91,406.18 459.19,407.79 459.46,407.46 459.74,407.86 460.02,407.16 460.29,406.53 460.57,407.11 460.85,406.81 461.13,408.19 461.40,407.01 461.68,407.61 461.96,406.08 462.23,406.58 462.51,406.54 462.79,407.12 463.07,406.73 463.34,406.71 463.62,407.28 463.90,407.36 464.17,407.14 464.45,407.42 464.73,407.41 465.00,407.23 465.28,407.48 465.56,406.63 465.84,407.97 466.11,406.59 466.39,407.41 466.67,407.37 466.94,407.82 467.22,407.13 467.50,407.19 467.78,406.93 468.05,407.35 468.33,406.98 468.61,406.00 468.88,406.80 469.16,407.36 469.44,406.48 469.72,407.09 469.99,406.68 470.27,406.66 470.55,407.23 470.82,408.11 471.10,407.20 471.38,406.69 471.66,407.21 471.93,406.74 472.21,406.43 472.49,407.29 472.76,406.28 473.04,406.05 473.32,406.36 473.60,406.31 473.87,406.34 474.15,405.68 474.43,406.85 474.70,406.95 474.98,406.60 475.26,407.46 475.54,407.82 475.81,407.43 476.09,406.72 476.37,406.66 476.64,407.79 476.92,407.98 477.20,407.09 477.47,407.01 477.75,406.93 478.03,406.52 478.31,406.19 478.58,406.76 478.86,406.53 479.14,407.50 479.41,407.54 479.69,406.73 479.97,406.48 480.25,406.44 480.52,406.51 480.80,406.40 481.08,406.38 481.35,407.82 481.63,407.24 481.91,406.57 482.19,406.48 482.46,407.67 482.74,406.15 483.02,407.05 483.29,406.93 483.57,406.64 483.85,406.36 484.13,407.59 484.40,406.22 484.68,406.72 484.96,407.19 485.23,406.91 485.51,407.98 485.79,407.11 486.07,406.64 486.34,407.13 486.62,406.91 486.90,406.80 487.17,406.69 487.45,406.13 487.73,406.71 488.01,406.84 488.28,406.39 488.56,405.52 488.84,406.87 489.11,406.38 489.39,407.55 489.67,405.90 489.94,406.28 490.22,405.90 490.50,406.67 490.78,407.21 491.05,406.13 491.33,406.20 491.61,407.10 491.88,407.43 492.16,406.35 492.44,406.69 492.72,405.13 492.99,406.92 493.27,406.87 493.55,406.63 493.82,407.49 494.10,407.05 494.38,405.63 494.66,406.61 494.93,406.87 495.21,407.24 495.49,406.19 495.76,406.14 496.04,406.36 496.32,406.72 496.60,406.32 496.87,406.27 497.15,406.86 497.43,406.12 497.70,407.65 497.98,407.18 498.26,406.62 498.54,406.51 498.81,407.09 499.09,406.25 499.37,405.83 499.64,406.16 499.92,406.28 500.20,405.94 500.47,406.17 500.75,407.03 501.03,406.50 501.31,405.65 501.58,407.01 501.86,406.33 502.14,406.58 502.41,406.86 502.69,406.91 502.97,406.28 503.25,406.15 503.52,406.15 503.80,407.13 504.08,406.47 504.35,406.10 504.63,405.75 504.91,405.90 505.19,405.80 505.46,405.65 505.74,405.79 506.02,406.72 506.29,406.21 506.57,406.64 506.85,407.59 507.13,407.18 507.40,405.03 507.68,406.84 507.96,407.48 508.23,406.52 508.51,405.32 508.79,406.20 509.07,405.93 509.34,406.31 509.62,406.20 509.90,405.42 510.17,405.68 510.45,406.17 510.73,405.60 511.01,405.49 511.28,406.22 511.56,405.93 511.84,405.93 512.11,406.45 512.39,405.40 512.67,406.15 512.94,406.40 513.22,406.99 513.50,406.75 513.78,405.13 514.05,406.66 514.33,405.74 514.61,406.19 514.88,405.68 515.16,405.61 515.44,406.40 515.72,406.11 515.99,405.87 516.27,405.85 516.55,405.92 516.82,406.08 517.10,405.52 517.38,405.11 517.66,405.55 517.93,406.28 518.21,405.61 518.49,405.79 518.76,405.55 519.04,404.73 519.32,405.92 519.60,405.79 519.87,406.28 520.15,405.92 520.43,406.08 520.70,404.80 520.98,405.54 521.26,406.04 521.54,404.56 521.81,406.46 522.09,405.16 522.37,405.06 522.64,405.30 522.92,405.78 523.20,405.69 523.48,405.80 523.75,405.12 524.03,406.94 524.31,405.86 524.58,405.45 524.86,405.87 525.14,406.58 525.41,405.64 525.69,405.93 525.97,404.99 526.25,404.62 526.52,405.40 526.80,406.57 527.08,405.52 527.35,405.94 527.63,404.97 527.91,404.35 528.19,405.15 528.46,404.11 528.74,404.40 529.02,404.87 529.29,405.79 529.57,405.13 529.85,406.04 530.13,404.53 530.40,405.06 530.68,404.29 530.96,404.92 531.23,406.23 531.51,404.66 531.79,404.47 532.07,404.00 532.34,405.57 532.62,405.53 532.90,404.91 533.17,405.56 533.45,405.74 533.73,405.55 534.01,403.29 534.28,405.22 534.56,405.44 534.84,405.07 535.11,404.77 535.39,403.96 535.67,404.14 535.95,404.21 536.22,404.63 536.50,404.54 536.78,404.99 537.05,405.50 537.33,403.28 537.61,404.78 537.88,403.84 538.16,404.63 538.44,404.45 538.72,404.46 538.99,405.19 539.27,404.34 539.55,404.01 539.82,403.69 540.10,403.87 540.38,403.49 540.66,403.91 540.93,404.06 541.21,405.26 541.49,404.32 541.76,402.95 542.04,403.82 542.32,403.35 542.60,403.95 542.87,404.20 543.15,402.41 543.43,403.45 543.70,402.67 543.98,403.25 544.26,403.74 544.54,404.96 544.81,403.40 545.09,404.44 545.37,404.82 545.64,402.51 545.92,402.81 546.20,402.81 546.48,403.16 546.75,403.17 547.03,402.82 547.31,402.95 547.58,402.96 547.86,402.46 548.14,404.55 548.42,402.27 548.69,403.24 548.97,402.20 549.25,401.94 549.52,403.25 549.80,402.10 550.08,402.06 550.35,403.03 550.63,402.87 550.91,402.38 551.19,403.93 551.46,402.67 551.74,402.18 552.02,402.57 552.29,403.31 552.57,402.42 552.85,401.04 553.13,401.12 553.40,402.06 553.68,402.49 553.96,401.88 554.23,401.80 554.51,402.23 554.79,401.93 555.07,401.19 555.34,400.91 555.62,403.24 555.90,400.75 556.17,401.29 556.45,400.50 556.73,401.27 557.01,400.88 557.28,399.95 557.56,403.22 557.84,399.85 558.11,400.81 558.39,402.21 558.67,402.77 558.95,400.53 559.22,401.45 559.50,399.89 559.78,400.41 560.05,400.60 560.33,399.70 560.61,400.23 560.88,399.76 561.16,399.63 561.44,399.95 561.72,399.53 561.99,399.47 562.27,401.04 562.55,400.15 562.82,399.97 563.10,400.11 563.38,400.97 563.66,400.13 563.93,399.37 564.21,399.42 564.49,398.33 564.76,399.91 565.04,399.71 565.32,399.76 565.60,399.50 565.87,399.66 566.15,400.59 566.43,398.79 566.70,398.22 566.98,398.05 567.26,399.73 567.54,398.96 567.81,397.27 568.09,398.76 568.37,398.33 568.64,398.67 568.92,397.68 569.20,397.64 569.48,396.48 569.75,397.88 570.03,397.86 570.31,399.14 570.58,398.43 570.86,398.60 571.14,398.23 571.42,398.97 571.69,396.83 571.97,398.63 572.25,397.47 572.52,398.67 572.80,397.28 573.08,396.12 573.35,398.12 573.63,397.06 573.91,397.36 574.19,397.00 574.46,396.82 574.74,397.64 575.02,397.19 575.29,397.47 575.57,397.61 575.85,397.88 576.13,395.95 576.40,397.34 576.68,396.07 576.96,396.10 577.23,397.37 577.51,395.54 577.79,397.12 578.07,395.76 578.34,394.98 578.62,396.80 578.90,396.92 579.17,396.87 579.45,393.96 579.73,396.24 580.01,396.95 580.28,395.05 580.56,395.86 580.84,395.67 581.11,396.46 581.39,397.49 581.67,396.09 581.95,396.31 582.22,396.76 582.50,396.21 582.78,396.02 583.05,394.37 583.33,394.39 583.61,394.50 583.89,395.38 584.16,395.97 584.44,394.49 584.72,394.27 584.99,393.70 585.27,394.58 585.55,394.60 585.82,394.13 586.10,395.20 586.38,395.02 586.66,393.61 586.93,395.31 587.21,394.14 587.49,393.27 587.76,393.71 588.04,393.46 588.32,394.84 588.60,393.84 588.87,393.91 589.15,393.01 589.43,393.11 589.70,393.41 589.98,391.56 590.26,392.78 590.54,393.51 590.81,393.75 591.09,393.13 591.37,393.57 591.64,391.37 591.92,392.34 592.20,393.12 592.48,393.39 592.75,393.73 593.03,392.89 593.31,391.27 593.58,391.66 593.86,392.47 594.14,392.21 594.42,394.12 594.69,391.47 594.97,392.37 595.25,390.72 595.52,392.20 595.80,392.44 596.08,391.68 596.36,392.46 596.63,390.42 596.91,391.41 597.19,391.26 597.46,391.23 597.74,391.86 598.02,390.95 598.29,391.20 598.57,389.52 598.85,391.18 599.13,390.80 599.40,391.58 599.68,391.43 599.96,391.29 600.23,389.58 600.51,390.75 600.79,389.77 601.07,390.97 601.34,391.01 601.62,392.56 601.90,389.64 602.17,388.30 602.45,390.61 602.73,388.81 603.01,389.35 603.28,390.89 603.56,389.31 603.84,390.98 604.11,390.29 604.39,388.62 604.67,389.67 604.95,391.02 605.22,388.21 605.50,390.81 605.78,389.75 606.05,389.88 606.33,389.61 606.61,390.28 606.89,391.06 607.16,387.24 607.44,390.18 607.72,390.04 607.99,391.65 608.27,388.84 608.55,387.46 608.83,387.26 609.10,385.69 609.38,386.99 609.66,388.10 609.93,388.43 610.21,386.81 610.49,388.34 610.76,388.00 611.04,389.20 611.32,387.95 611.60,385.79 611.87,387.98 612.15,387.38 612.43,390.44 612.70,386.16 612.98,387.17 613.26,385.93 613.54,387.17 613.81,388.33 614.09,388.84 614.37,386.65 614.64,387.19 614.92,388.20 615.20,387.10 615.48,387.68 615.75,386.07 616.03,387.31 616.31,388.18 616.58,386.81 616.86,387.30 617.14,384.90 617.42,387.08 617.69,388.02 617.97,386.51 618.25,386.69 618.52,386.03 618.80,386.05 619.08,387.46 619.36,386.27 619.63,386.29 619.91,387.53 620.19,386.76 620.46,385.82 620.74,387.89 621.02,387.26 621.29,386.50 621.57,386.03 621.85,385.28 622.13,387.46 622.40,385.47 622.68,385.05 622.96,383.92 623.23,386.22 623.51,386.77 623.79,387.47 624.07,384.96 624.34,384.05 624.62,386.37 624.90,384.98 625.17,384.44 625.45,384.29 625.73,385.86 626.01,384.57 626.28,385.36 626.56,386.39 626.84,384.90 627.11,384.74 627.39,386.29 627.67,384.57 627.95,382.67 628.22,386.84 628.50,384.16 628.78,383.87 629.05,384.88 629.33,384.52 629.61,385.21 629.89,383.23 630.16,385.98 630.44,384.99 630.72,387.15 630.99,384.39 631.27,384.31 631.55,386.77 631.83,385.78 632.10,384.12 632.38,385.28 632.66,386.13 632.93,387.69 633.21,384.20 633.49,382.25 633.76,385.15 634.04,384.04 634.32,384.03 634.60,384.63 634.87,384.38 635.15,384.34 635.43,385.52 635.70,381.37 635.98,381.08 636.26,384.00 636.54,382.17 636.81,385.35 637.09,384.59 637.37,382.90 637.64,385.69 637.92,385.85 638.20,383.80 638.48,386.64 638.75,382.05 639.03,383.22 639.31,383.82 639.58,383.26 639.86,385.18 640.14,385.20 640.42,382.98 640.69,382.82 640.97,383.78 641.25,384.00 641.52,384.58 641.80,382.17 642.08,385.71 642.36,384.91 642.63,384.50 642.91,385.71 643.19,385.44 643.46,385.05 643.74,382.49 644.02,381.48 644.30,383.27 644.57,385.70 644.85,384.42 645.13,383.82 645.40,383.97 645.68,384.08 645.96,382.95 646.23,386.00 646.51,384.28 646.79,383.27 647.07,382.63 647.34,383.14 647.62,383.46 647.90,383.63 648.17,384.28 648.45,383.31 648.73,383.66 649.01,384.27 649.28,381.86 649.56,381.86 649.84,383.79 650.11,382.54 650.39,381.79 650.67,382.94 650.95,383.10 651.22,382.62 651.50,385.30" fill="none" stroke="#b4b4b4" stroke-width="1.7" stroke-linejoin="round"/>
<polyline points="457.80,406.50 652.00,406.50" fill="none" stroke="#000" stroke-width="1.3"/>
<polyline points="457.80,407.81 458.08,406.96 458.35,406.84 458.63,407.41 458.91,407.34 459.19,407.81 459.46,408.02 459.74,408.00 460.02,408.04 460.29,407.00 460.57,407.51 460.85,407.40 461.13,407.80 461.40,408.02 461.68,408.07 461.96,407.86 462.23,407.08 462.51,407.38 462.79,407.62 463.07,407.49 463.34,408.10 463.62,406.69 463.90,407.96 464.17,407.28 464.45,406.17 464.73,408.62 465.00,408.01 465.28,407.63 465.56,407.18 465.84,408.12 466.11,407.34 466.39,407.21 466.67,407.10 466.94,408.42 467.22,406.82 467.50,406.31 467.78,406.90 468.05,407.49 468.33,407.42 468.61,408.47 468.88,406.83 469.16,406.28 469.44,406.71 469.72,408.58 469.99,407.24 470.27,407.06 470.55,407.24 470.82,406.44 471.10,407.86 471.38,407.32 471.66,406.63 471.93,406.41 472.21,406.82 472.49,406.35 472.76,406.61 473.04,407.41 473.32,406.18 473.60,407.09 473.87,407.66 474.15,406.58 474.43,405.86 474.70,406.29 474.98,406.25 475.26,406.65 475.54,407.99 475.81,406.37 476.09,406.63 476.37,408.04 476.64,407.01 476.92,407.11 477.20,406.11 477.47,406.57 477.75,406.47 478.03,406.48 478.31,407.26 478.58,407.57 478.86,406.53 479.14,406.70 479.41,406.54 479.69,406.60 479.97,406.76 480.25,406.21 480.52,406.38 480.80,406.78 481.08,407.42 481.35,407.76 481.63,407.15 481.91,406.48 482.19,405.92 482.46,406.59 482.74,406.01 483.02,405.74 483.29,405.10 483.57,406.16 483.85,405.53 484.13,406.16 484.40,406.91 484.68,407.42 484.96,406.08 485.23,405.76 485.51,404.93 485.79,406.54 486.07,405.92 486.34,406.22 486.62,407.38 486.90,405.94 487.17,406.28 487.45,406.77 487.73,405.21 488.01,406.39 488.28,405.81 488.56,406.18 488.84,406.40 489.11,406.10 489.39,405.58 489.67,406.35 489.94,406.84 490.22,405.01 490.50,405.71 490.78,406.43 491.05,405.96 491.33,406.72 491.61,405.92 491.88,405.42 492.16,406.88 492.44,405.39 492.72,405.41 492.99,405.96 493.27,405.75 493.55,405.97 493.82,406.02 494.10,406.76 494.38,404.89 494.66,406.10 494.93,405.66 495.21,405.84 495.49,405.46 495.76,405.39 496.04,406.22 496.32,405.47 496.60,405.80 496.87,406.11 497.15,404.94 497.43,404.99 497.70,406.09 497.98,405.75 498.26,406.12 498.54,406.17 498.81,406.08 499.09,405.24 499.37,406.29 499.64,406.30 499.92,405.35 500.20,405.88 500.47,404.81 500.75,405.98 501.03,405.71 501.31,405.85 501.58,406.67 501.86,405.22 502.14,405.02 502.41,404.87 502.69,405.47 502.97,404.99 503.25,405.43 503.52,405.38 503.80,405.75 504.08,405.39 504.35,405.80 504.63,404.95 504.91,405.63 505.19,405.81 505.46,405.29 505.74,405.25 506.02,406.12 506.29,405.77 506.57,405.49 506.85,404.95 507.13,404.85 507.40,404.69 507.68,405.25 507.96,405.55 508.23,405.87 508.51,405.01 508.79,405.27 509.07,404.80 509.34,404.46 509.62,403.90 509.90,405.46 510.17,404.65 510.45,405.86 510.73,404.35 511.01,405.58 511.28,404.96 511.56,405.48 511.84,403.99 512.11,404.53 512.39,404.31 512.67,404.87 512.94,404.56 513.22,405.37 513.50,405.00 513.78,403.95 514.05,405.73 514.33,404.64 514.61,403.97 514.88,404.03 515.16,404.23 515.44,404.58 515.72,403.80 515.99,404.71 516.27,404.54 516.55,405.45 516.82,404.30 517.10,404.63 517.38,404.43 517.66,405.69 517.93,405.05 518.21,404.44 518.49,405.02 518.76,403.94 519.04,403.09 519.32,404.28 519.60,403.98 519.87,404.46 520.15,404.45 520.43,404.99 520.70,403.83 520.98,404.87 521.26,404.37 521.54,404.38 521.81,404.72 522.09,404.39 522.37,404.02 522.64,403.30 522.92,403.87 523.20,403.07 523.48,403.58 523.75,403.65 524.03,403.40 524.31,403.81 524.58,403.05 524.86,403.45 525.14,403.41 525.41,402.36 525.69,403.87 525.97,403.89 526.25,403.29 526.52,403.02 526.80,403.32 527.08,402.53 527.35,402.80 527.63,402.73 527.91,403.66 528.19,401.79 528.46,402.70 528.74,403.23 529.02,401.78 529.29,402.56 529.57,402.93 529.85,403.10 530.13,402.35 530.40,402.68 530.68,402.83 530.96,402.21 531.23,402.23 531.51,402.37 531.79,401.36 532.07,400.95 532.34,400.91 532.62,402.00 532.90,402.03 533.17,402.64 533.45,401.74 533.73,402.12 534.01,401.33 534.28,401.56 534.56,400.91 534.84,401.29 535.11,400.90 535.39,400.74 535.67,402.66 535.95,401.68 536.22,400.79 536.50,400.89 536.78,400.70 537.05,401.09 537.33,400.22 537.61,400.94 537.88,400.74 538.16,400.94 538.44,399.98 538.72,399.83 538.99,400.35 539.27,400.00 539.55,401.59 539.82,399.46 540.10,401.41 540.38,400.40 540.66,401.60 540.93,400.27 541.21,400.24 541.49,398.33 541.76,400.47 542.04,401.47 542.32,399.45 542.60,399.69 542.87,398.58 543.15,398.76 543.43,400.49 543.70,399.45 543.98,399.35 544.26,398.98 544.54,399.22 544.81,399.00 545.09,398.65 545.37,400.09 545.64,399.41 545.92,397.62 546.20,397.64 546.48,398.30 546.75,397.96 547.03,397.55 547.31,397.15 547.58,398.19 547.86,398.54 548.14,397.09 548.42,398.12 548.69,398.50 548.97,397.32 549.25,397.83 549.52,397.68 549.80,397.62 550.08,396.89 550.35,397.30 550.63,397.24 550.91,398.34 551.19,398.27 551.46,397.98 551.74,397.53 552.02,396.06 552.29,397.33 552.57,397.15 552.85,395.13 553.13,396.35 553.40,396.87 553.68,395.95 553.96,396.31 554.23,395.10 554.51,395.65 554.79,396.79 555.07,395.06 555.34,396.86 555.62,394.23 555.90,395.32 556.17,397.29 556.45,393.73 556.73,396.05 557.01,397.24 557.28,393.68 557.56,395.92 557.84,395.25 558.11,395.25 558.39,394.89 558.67,394.39 558.95,396.28 559.22,392.51 559.50,394.05 559.78,394.53 560.05,393.90 560.33,394.25 560.61,393.56 560.88,393.63 561.16,393.39 561.44,393.59 561.72,394.05 561.99,393.65 562.27,394.11 562.55,393.25 562.82,394.82 563.10,394.81 563.38,392.66 563.66,394.74 563.93,392.96 564.21,392.57 564.49,395.15 564.76,392.86 565.04,391.48 565.32,393.36 565.60,391.31 565.87,393.67 566.15,394.59 566.43,393.32 566.70,393.14 566.98,391.45 567.26,392.42 567.54,392.71 567.81,392.62 568.09,390.62 568.37,393.51 568.64,392.93 568.92,392.04 569.20,391.42 569.48,390.58 569.75,390.02 570.03,391.68 570.31,390.37 570.58,391.77 570.86,387.98 571.14,390.44 571.42,391.72 571.69,389.11 571.97,389.86 572.25,388.67 572.52,388.83 572.80,391.32 573.08,388.71 573.35,389.67 573.63,389.63 573.91,388.96 574.19,388.96 574.46,388.44 574.74,387.41 575.02,388.27 575.29,387.83 575.57,386.42 575.85,387.99 576.13,387.17 576.40,387.32 576.68,386.00 576.96,388.06 577.23,386.63 577.51,385.61 577.79,386.25 578.07,385.71 578.34,386.30 578.62,385.42 578.90,385.97 579.17,384.71 579.45,385.54 579.73,385.81 580.01,385.06 580.28,385.42 580.56,381.80 580.84,383.90 581.11,384.24 581.39,384.53 581.67,383.12 581.95,384.46 582.22,384.20 582.50,384.22 582.78,383.83 583.05,383.61 583.33,384.28 583.61,382.54 583.89,384.05 584.16,381.96 584.44,381.03 584.72,382.99 584.99,382.68 585.27,380.63 585.55,382.40 585.82,381.37 586.10,381.40 586.38,381.35 586.66,381.91 586.93,379.96 587.21,380.46 587.49,380.86 587.76,380.56 588.04,381.42 588.32,379.08 588.60,379.00 588.87,377.46 589.15,380.17 589.43,376.74 589.70,378.68 589.98,376.92 590.26,380.57 590.54,377.89 590.81,377.23 591.09,379.86 591.37,377.01 591.64,376.09 591.92,378.35 592.20,375.68 592.48,376.19 592.75,375.19 593.03,376.80 593.31,377.64 593.58,376.60 593.86,375.42 594.14,378.42 594.42,374.65 594.69,374.97 594.97,374.93 595.25,378.56 595.52,375.79 595.80,374.48 596.08,374.52 596.36,373.05 596.63,374.61 596.91,374.21 597.19,371.58 597.46,371.62 597.74,372.71 598.02,372.96 598.29,374.45 598.57,370.84 598.85,372.00 599.13,368.49 599.40,371.71 599.68,370.40 599.96,371.17 600.23,369.42 600.51,365.42 600.79,369.82 601.07,370.46 601.34,368.14 601.62,368.03 601.90,370.91 602.17,366.39 602.45,369.31 602.73,365.85 603.01,366.90 603.28,367.65 603.56,365.96 603.84,367.28 604.11,368.21 604.39,366.69 604.67,365.59 604.95,367.22 605.22,364.87 605.50,366.50 605.78,363.35 606.05,364.16 606.33,364.41 606.61,367.65 606.89,362.79 607.16,366.65 607.44,363.89 607.72,365.02 607.99,359.59 608.27,362.12 608.55,361.31 608.83,360.33 609.10,361.84 609.38,359.60 609.66,362.98 609.93,358.60 610.21,358.86 610.49,359.53 610.76,362.92 611.04,362.43 611.32,360.93 611.60,359.38 611.87,357.02 612.15,358.33 612.43,358.07 612.70,357.40 612.98,358.21 613.26,358.05 613.54,356.89 613.81,354.34 614.09,355.43 614.37,354.63 614.64,352.23 614.92,357.72 615.20,356.17 615.48,352.86 615.75,352.90 616.03,354.21 616.31,355.92 616.58,352.44 616.86,351.87 617.14,349.77 617.42,352.76 617.69,350.56 617.97,353.48 618.25,354.07 618.52,345.87 618.80,350.31 619.08,347.09 619.36,347.29 619.63,347.96 619.91,345.15 620.19,343.38 620.46,347.84 620.74,346.35 621.02,348.87 621.29,345.21 621.57,344.17 621.85,345.96 622.13,345.24 622.40,345.46 622.68,344.04 622.96,340.66 623.23,343.14 623.51,342.61 623.79,343.96 624.07,340.23 624.34,340.21 624.62,341.39 624.90,336.30 625.17,342.84 625.45,336.34 625.73,337.62 626.01,341.14 626.28,336.54 626.56,333.60 626.84,334.32 627.11,335.43 627.39,333.01 627.67,338.64 627.95,335.01 628.22,338.19 628.50,335.41 628.78,334.35 629.05,334.03 629.33,333.44 629.61,334.17 629.89,332.69 630.16,331.49 630.44,328.83 630.72,331.72 630.99,327.83 631.27,333.45 631.55,329.02 631.83,329.19 632.10,329.64 632.38,324.33 632.66,330.05 632.93,328.20 633.21,331.61 633.49,330.85 633.76,329.38 634.04,324.11 634.32,326.90 634.60,329.14 634.87,326.15 635.15,322.31 635.43,327.88 635.70,325.71 635.98,327.42 636.26,326.59 636.54,323.05 636.81,327.75 637.09,324.45 637.37,324.05 637.64,325.35 637.92,326.38 638.20,322.53 638.48,325.83 638.75,326.78 639.03,319.12 639.31,323.17 639.58,327.20 639.86,324.63 640.14,323.97 640.42,322.61 640.69,323.48 640.97,319.71 641.25,320.24 641.52,316.11 641.80,327.77 642.08,322.30 642.36,321.72 642.63,327.88 642.91,322.49 643.19,315.11 643.46,321.56 643.74,318.60 644.02,319.17 644.30,324.90 644.57,321.64 644.85,316.53 645.13,314.79 645.40,312.78 645.68,319.95 645.96,315.58 646.23,319.12 646.51,317.21 646.79,322.09 647.07,314.38 647.34,309.37 647.62,313.33 647.90,313.48 648.17,312.15 648.45,311.63 648.73,317.00 649.01,309.68 649.28,313.67 649.56,305.56 649.84,308.52 650.11,310.54 650.39,310.08 650.67,318.28 650.95,309.54 651.22,309.12 651.50,309.08" fill="none" stroke="#000" stroke-width="2.0" stroke-linejoin="round"/>
<polyline points="457.80,407.42 458.08,406.79 458.35,408.54 458.63,406.67 458.91,407.59 459.19,407.98 459.46,407.96 459.74,408.10 460.02,407.63 460.29,407.05 460.57,407.17 460.85,407.13 461.13,408.36 461.40,408.28 461.68,406.60 461.96,406.90 462.23,406.25 462.51,406.75 462.79,407.92 463.07,406.68 463.34,407.02 463.62,407.22 463.90,407.75 464.17,407.31 464.45,407.37 464.73,406.81 465.00,407.20 465.28,406.42 465.56,407.65 465.84,406.98 466.11,406.95 466.39,407.65 466.67,407.80 466.94,406.64 467.22,406.89 467.50,407.23 467.78,406.92 468.05,407.47 468.33,406.98 468.61,407.40 468.88,406.98 469.16,406.55 469.44,407.22 469.72,406.59 469.99,407.55 470.27,407.15 470.55,407.70 470.82,407.03 471.10,406.92 471.38,407.05 471.66,407.07 471.93,406.23 472.21,406.17 472.49,407.52 472.76,406.27 473.04,407.75 473.32,407.23 473.60,406.92 473.87,406.76 474.15,407.34 474.43,407.16 474.70,406.74 474.98,407.12 475.26,407.08 475.54,406.39 475.81,406.24 476.09,406.74 476.37,406.68 476.64,406.69 476.92,406.89 477.20,406.91 477.47,407.16 477.75,406.29 478.03,406.65 478.31,406.66 478.58,406.47 478.86,406.29 479.14,405.82 479.41,406.67 479.69,406.72 479.97,406.40 480.25,406.92 480.52,405.82 480.80,405.99 481.08,406.09 481.35,406.49 481.63,406.04 481.91,405.86 482.19,406.13 482.46,406.51 482.74,407.22 483.02,405.85 483.29,406.51 483.57,406.75 483.85,405.84 484.13,406.11 484.40,407.00 484.68,406.30 484.96,406.38 485.23,405.71 485.51,407.19 485.79,406.39 486.07,406.25 486.34,405.42 486.62,406.71 486.90,407.66 487.17,406.84 487.45,405.96 487.73,405.66 488.01,405.17 488.28,405.85 488.56,406.46 488.84,405.56 489.11,406.02 489.39,406.10 489.67,405.97 489.94,405.30 490.22,406.43 490.50,406.48 490.78,405.96 491.05,405.95 491.33,406.33 491.61,406.35 491.88,405.67 492.16,405.15 492.44,405.47 492.72,405.47 492.99,405.16 493.27,406.86 493.55,406.59 493.82,406.16 494.10,406.40 494.38,406.28 494.66,405.71 494.93,406.41 495.21,405.95 495.49,406.79 495.76,406.21 496.04,404.96 496.32,405.96 496.60,405.48 496.87,405.26 497.15,405.89 497.43,405.31 497.70,405.49 497.98,405.22 498.26,405.92 498.54,406.34 498.81,406.10 499.09,405.84 499.37,405.24 499.64,405.62 499.92,405.72 500.20,405.58 500.47,404.88 500.75,405.77 501.03,404.63 501.31,406.10 501.58,405.74 501.86,404.95 502.14,405.12 502.41,405.85 502.69,405.43 502.97,405.74 503.25,404.88 503.52,405.04 503.80,405.70 504.08,405.08 504.35,405.49 504.63,405.31 504.91,405.22 505.19,405.55 505.46,405.00 505.74,404.96 506.02,404.97 506.29,404.58 506.57,405.32 506.85,405.97 507.13,405.41 507.40,405.01 507.68,405.10 507.96,404.77 508.23,404.63 508.51,405.12 508.79,405.10 509.07,405.57 509.34,404.44 509.62,405.14 509.90,405.57 510.17,405.57 510.45,405.17 510.73,404.06 511.01,404.48 511.28,405.83 511.56,404.94 511.84,404.70 512.11,404.48 512.39,404.62 512.67,405.15 512.94,404.54 513.22,405.06 513.50,405.99 513.78,405.11 514.05,405.08 514.33,404.14 514.61,404.06 514.88,405.22 515.16,404.51 515.44,404.54 515.72,405.38 515.99,405.70 516.27,404.57 516.55,404.42 516.82,404.81 517.10,405.99 517.38,404.44 517.66,404.73 517.93,404.88 518.21,404.54 518.49,404.97 518.76,403.98 519.04,404.27 519.32,404.57 519.60,404.06 519.87,404.22 520.15,405.04 520.43,404.22 520.70,404.37 520.98,405.08 521.26,404.42 521.54,403.76 521.81,404.33 522.09,403.11 522.37,402.89 522.64,404.02 522.92,403.47 523.20,402.58 523.48,403.90 523.75,404.19 524.03,403.86 524.31,404.37 524.58,404.30 524.86,403.33 525.14,403.64 525.41,403.19 525.69,402.99 525.97,403.69 526.25,403.29 526.52,403.27 526.80,403.46 527.08,403.50 527.35,402.74 527.63,402.95 527.91,402.60 528.19,402.13 528.46,402.05 528.74,403.30 529.02,403.08 529.29,402.65 529.57,402.35 529.85,401.77 530.13,402.90 530.40,402.50 530.68,402.01 530.96,401.32 531.23,401.16 531.51,402.61 531.79,402.04 532.07,402.36 532.34,401.23 532.62,401.42 532.90,401.88 533.17,401.98 533.45,401.33 533.73,400.82 534.01,401.89 534.28,401.54 534.56,401.20 534.84,401.20 535.11,400.93 535.39,401.75 535.67,401.42 535.95,402.36 536.22,400.86 536.50,400.12 536.78,402.15 537.05,401.14 537.33,400.04 537.61,400.68 537.88,401.81 538.16,399.67 538.44,401.36 538.72,399.39 538.99,400.66 539.27,400.68 539.55,400.12 539.82,400.08 540.10,399.59 540.38,399.59 540.66,399.97 540.93,398.88 541.21,399.24 541.49,399.48 541.76,399.51 542.04,399.60 542.32,399.52 542.60,398.93 542.87,398.99 543.15,399.23 543.43,398.47 543.70,399.31 543.98,398.74 544.26,398.37 544.54,399.72 544.81,399.04 545.09,397.57 545.37,399.40 545.64,397.79 545.92,399.34 546.20,398.20 546.48,399.21 546.75,398.81 547.03,398.56 547.31,398.61 547.58,397.39 547.86,397.44 548.14,397.34 548.42,397.77 548.69,396.61 548.97,397.00 549.25,397.45 549.52,398.42 549.80,397.03 550.08,396.98 550.35,397.33 550.63,396.78 550.91,396.67 551.19,397.41 551.46,396.67 551.74,396.77 552.02,396.72 552.29,397.15 552.57,397.17 552.85,396.64 553.13,395.54 553.40,394.76 553.68,396.80 553.96,397.27 554.23,396.63 554.51,396.95 554.79,396.54 555.07,395.81 555.34,396.78 555.62,395.48 555.90,395.25 556.17,394.59 556.45,394.26 556.73,394.84 557.01,393.72 557.28,395.90 557.56,395.18 557.84,395.19 558.11,394.88 558.39,394.31 558.67,395.35 558.95,393.57 559.22,393.84 559.50,394.53 559.78,394.34 560.05,395.46 560.33,396.65 560.61,394.54 560.88,394.10 561.16,394.09 561.44,395.13 561.72,394.48 561.99,392.50 562.27,393.28 562.55,393.28 562.82,393.99 563.10,392.98 563.38,392.40 563.66,392.76 563.93,393.68 564.21,392.97 564.49,393.89 564.76,393.28 565.04,392.39 565.32,393.28 565.60,392.90 565.87,391.31 566.15,392.63 566.43,391.68 566.70,392.53 566.98,393.18 567.26,392.03 567.54,392.25 567.81,393.64 568.09,392.79 568.37,391.95 568.64,390.08 568.92,391.86 569.20,391.23 569.48,390.49 569.75,390.68 570.03,391.15 570.31,389.10 570.58,389.31 570.86,392.77 571.14,389.40 571.42,389.66 571.69,389.10 571.97,389.82 572.25,388.97 572.52,387.75 572.80,387.81 573.08,387.58 573.35,388.15 573.63,388.13 573.91,387.95 574.19,389.86 574.46,386.30 574.74,388.19 575.02,387.94 575.29,387.99 575.57,387.47 575.85,389.96 576.13,387.39 576.40,388.77 576.68,388.32 576.96,389.07 577.23,388.77 577.51,386.18 577.79,387.15 578.07,386.57 578.34,386.47 578.62,387.37 578.90,386.71 579.17,387.14 579.45,385.95 579.73,387.86 580.01,385.70 580.28,384.09 580.56,383.59 580.84,383.48 581.11,384.02 581.39,385.53 581.67,383.21 581.95,383.47 582.22,383.58 582.50,385.09 582.78,383.08 583.05,381.73 583.33,382.32 583.61,383.27 583.89,382.19 584.16,382.64 584.44,382.26 584.72,381.29 584.99,381.70 585.27,381.84 585.55,381.29 585.82,382.55 586.10,382.58 586.38,380.61 586.66,381.73 586.93,380.14 587.21,382.89 587.49,378.97 587.76,380.38 588.04,377.99 588.32,382.96 588.60,381.78 588.87,377.71 589.15,379.08 589.43,378.70 589.70,378.72 589.98,378.48 590.26,377.79 590.54,379.58 590.81,378.28 591.09,376.17 591.37,377.41 591.64,378.26 591.92,377.10 592.20,375.63 592.48,377.06 592.75,376.81 593.03,375.70 593.31,374.98 593.58,373.90 593.86,375.85 594.14,374.97 594.42,373.77 594.69,377.61 594.97,374.54 595.25,373.85 595.52,374.37 595.80,375.20 596.08,372.92 596.36,371.73 596.63,373.38 596.91,373.69 597.19,373.05 597.46,370.22 597.74,370.40 598.02,371.89 598.29,373.31 598.57,373.30 598.85,371.64 599.13,371.36 599.40,370.22 599.68,372.06 599.96,370.27 600.23,368.99 600.51,372.13 600.79,365.71 601.07,368.09 601.34,367.89 601.62,370.47 601.90,369.77 602.17,366.26 602.45,366.18 602.73,371.21 603.01,365.18 603.28,365.58 603.56,365.46 603.84,368.00 604.11,365.49 604.39,366.63 604.67,364.42 604.95,362.01 605.22,363.72 605.50,362.80 605.78,364.75 606.05,365.68 606.33,363.64 606.61,361.61 606.89,360.58 607.16,362.93 607.44,362.11 607.72,362.96 607.99,365.00 608.27,361.56 608.55,360.81 608.83,361.88 609.10,361.17 609.38,363.80 609.66,360.18 609.93,357.50 610.21,359.75 610.49,358.33 610.76,358.31 611.04,360.22 611.32,358.14 611.60,359.74 611.87,352.48 612.15,357.23 612.43,359.35 612.70,359.89 612.98,353.84 613.26,355.18 613.54,355.27 613.81,358.32 614.09,356.46 614.37,357.39 614.64,352.54 614.92,355.38 615.20,350.19 615.48,352.62 615.75,353.93 616.03,350.24 616.31,356.79 616.58,353.89 616.86,352.65 617.14,349.28 617.42,348.88 617.69,349.98 617.97,354.03 618.25,351.07 618.52,351.89 618.80,346.57 619.08,349.75 619.36,347.17 619.63,344.07 619.91,347.81 620.19,345.75 620.46,347.70 620.74,346.35 621.02,345.95 621.29,345.60 621.57,345.05 621.85,345.65 622.13,340.15 622.40,345.37 622.68,342.91 622.96,343.71 623.23,347.77 623.51,339.90 623.79,341.16 624.07,344.46 624.34,342.52 624.62,344.18 624.90,339.26 625.17,335.78 625.45,336.15 625.73,341.75 626.01,342.38 626.28,336.52 626.56,333.28 626.84,336.86 627.11,334.00 627.39,339.65 627.67,336.09 627.95,334.34 628.22,336.11 628.50,335.30 628.78,332.65 629.05,335.61 629.33,336.21 629.61,331.43 629.89,332.38 630.16,335.23 630.44,331.21 630.72,333.46 630.99,330.01 631.27,331.38 631.55,331.78 631.83,332.75 632.10,329.86 632.38,330.21 632.66,324.75 632.93,329.58 633.21,332.76 633.49,323.31 633.76,334.04 634.04,323.81 634.32,330.30 634.60,323.91 634.87,327.89 635.15,325.62 635.43,326.74 635.70,326.85 635.98,324.83 636.26,327.76 636.54,324.39 636.81,328.45 637.09,327.22 637.37,326.33 637.64,324.93 637.92,320.99 638.20,326.52 638.48,326.35 638.75,326.88 639.03,324.63 639.31,321.66 639.58,325.17 639.86,323.67 640.14,324.31 640.42,322.17 640.69,327.99 640.97,320.29 641.25,319.12 641.52,323.98 641.80,321.55 642.08,323.77 642.36,317.99 642.63,318.83 642.91,311.96 643.19,320.78 643.46,322.48 643.74,321.06 644.02,323.07 644.30,318.46 644.57,317.85 644.85,315.70 645.13,316.89 645.40,318.96 645.68,313.44 645.96,315.17 646.23,313.99 646.51,319.64 646.79,318.20 647.07,317.19 647.34,316.00 647.62,321.12 647.90,310.23 648.17,314.21 648.45,310.51 648.73,310.34 649.01,307.67 649.28,310.16 649.56,310.39 649.84,313.53 650.11,310.40 650.39,304.79 650.67,315.66 650.95,311.89 651.22,308.34 651.50,303.60" fill="none" stroke="#000" stroke-width="2.0" stroke-linejoin="round"/>
<polyline points="457.80,408.36 458.08,408.25 458.35,408.28 458.63,407.91 458.91,406.79 459.19,408.40 459.46,407.03 459.74,406.85 460.02,407.70 460.29,407.87 460.57,407.23 460.85,406.82 461.13,406.31 461.40,406.97 461.68,406.58 461.96,407.65 462.23,407.86 462.51,408.30 462.79,407.98 463.07,407.55 463.34,407.25 463.62,408.03 463.90,406.89 464.17,407.36 464.45,407.63 464.73,407.68 465.00,406.20 465.28,407.16 465.56,407.71 465.84,407.73 466.11,406.25 466.39,407.50 466.67,406.56 466.94,406.43 467.22,408.37 467.50,406.44 467.78,407.24 468.05,407.68 468.33,407.38 468.61,406.80 468.88,406.88 469.16,406.84 469.44,407.42 469.72,406.37 469.99,406.24 470.27,406.05 470.55,406.47 470.82,406.00 471.10,405.88 471.38,406.58 471.66,406.48 471.93,406.62 472.21,406.62 472.49,406.45 472.76,407.76 473.04,407.03 473.32,406.60 473.60,407.92 473.87,407.56 474.15,405.99 474.43,407.33 474.70,407.02 474.98,406.57 475.26,406.99 475.54,407.17 475.81,406.98 476.09,406.92 476.37,406.99 476.64,406.58 476.92,405.84 477.20,406.47 477.47,405.81 477.75,406.24 478.03,406.18 478.31,406.29 478.58,406.73 478.86,406.35 479.14,406.39 479.41,407.10 479.69,406.14 479.97,406.21 480.25,406.30 480.52,406.76 480.80,407.80 481.08,405.69 481.35,406.47 481.63,407.53 481.91,406.07 482.19,406.74 482.46,406.02 482.74,406.41 483.02,405.76 483.29,406.21 483.57,406.17 483.85,406.22 484.13,405.65 484.40,406.94 484.68,405.64 484.96,405.88 485.23,406.51 485.51,406.21 485.79,406.42 486.07,406.15 486.34,405.67 486.62,406.50 486.90,405.74 487.17,405.63 487.45,405.77 487.73,405.27 488.01,406.11 488.28,405.69 488.56,404.75 488.84,406.01 489.11,406.09 489.39,406.00 489.67,405.68 489.94,406.29 490.22,406.08 490.50,406.86 490.78,406.48 491.05,406.45 491.33,406.51 491.61,406.12 491.88,405.51 492.16,406.06 492.44,406.55 492.72,405.71 492.99,405.73 493.27,406.55 493.55,405.72 493.82,406.35 494.10,406.10 494.38,406.15 494.66,405.31 494.93,406.17 495.21,405.89 495.49,405.61 495.76,405.14 496.04,405.05 496.32,406.21 496.60,405.02 496.87,405.48 497.15,404.99 497.43,405.05 497.70,405.89 497.98,405.57 498.26,405.74 498.54,405.36 498.81,404.67 499.09,405.51 499.37,405.88 499.64,404.15 499.92,406.04 500.20,405.49 500.47,405.48 500.75,406.15 501.03,405.02 501.31,404.86 501.58,405.47 501.86,405.38 502.14,405.48 502.41,406.34 502.69,405.24 502.97,406.03 503.25,405.86 503.52,405.11 503.80,404.81 504.08,405.77 504.35,404.67 504.63,404.31 504.91,405.16 505.19,405.28 505.46,405.12 505.74,405.43 506.02,405.66 506.29,404.83 506.57,404.77 506.85,405.43 507.13,405.36 507.40,405.46 507.68,405.49 507.96,405.62 508.23,405.90 508.51,404.56 508.79,405.23 509.07,404.99 509.34,404.02 509.62,405.26 509.90,404.66 510.17,405.70 510.45,405.29 510.73,404.54 511.01,405.05 511.28,405.68 511.56,405.72 511.84,404.67 512.11,405.35 512.39,404.44 512.67,404.65 512.94,404.96 513.22,404.80 513.50,404.32 513.78,404.70 514.05,405.23 514.33,404.49 514.61,404.85 514.88,404.76 515.16,404.30 515.44,404.41 515.72,404.00 515.99,404.65 516.27,404.78 516.55,404.69 516.82,404.27 517.10,404.91 517.38,404.63 517.66,404.88 517.93,404.82 518.21,404.46 518.49,402.98 518.76,404.52 519.04,404.14 519.32,404.20 519.60,404.33 519.87,404.18 520.15,403.07 520.43,404.29 520.70,403.21 520.98,403.71 521.26,404.53 521.54,404.37 521.81,404.23 522.09,404.55 522.37,403.23 522.64,403.61 522.92,403.50 523.20,404.34 523.48,403.44 523.75,403.97 524.03,402.21 524.31,403.61 524.58,403.34 524.86,403.21 525.14,403.67 525.41,403.57 525.69,403.52 525.97,402.73 526.25,403.60 526.52,403.21 526.80,402.86 527.08,403.23 527.35,403.74 527.63,403.58 527.91,403.06 528.19,403.32 528.46,402.10 528.74,402.61 529.02,402.57 529.29,403.10 529.57,402.11 529.85,402.58 530.13,402.88 530.40,402.62 530.68,400.71 530.96,402.48 531.23,402.57 531.51,401.26 531.79,401.45 532.07,402.02 532.34,400.92 532.62,402.63 532.90,401.95 533.17,402.62 533.45,400.67 533.73,401.44 534.01,399.76 534.28,401.05 534.56,400.98 534.84,401.94 535.11,401.92 535.39,401.42 535.67,400.47 535.95,401.66 536.22,402.47 536.50,400.32 536.78,400.22 537.05,401.35 537.33,400.40 537.61,399.89 537.88,399.80 538.16,401.54 538.44,400.40 538.72,400.89 538.99,399.68 539.27,400.20 539.55,401.00 539.82,400.06 540.10,399.67 540.38,401.05 540.66,400.86 540.93,400.34 541.21,400.02 541.49,400.13 541.76,400.94 542.04,400.69 542.32,399.58 542.60,399.20 542.87,400.03 543.15,399.23 543.43,397.96 543.70,399.35 543.98,399.44 544.26,399.56 544.54,398.66 544.81,398.75 545.09,398.66 545.37,399.04 545.64,398.40 545.92,398.33 546.20,398.65 546.48,397.64 546.75,399.52 547.03,397.81 547.31,398.34 547.58,397.57 547.86,396.72 548.14,397.99 548.42,398.09 548.69,397.89 548.97,396.78 549.25,396.58 549.52,397.53 549.80,397.09 550.08,396.15 550.35,397.02 550.63,398.47 550.91,397.89 551.19,397.56 551.46,396.82 551.74,397.47 552.02,395.91 552.29,397.25 552.57,395.61 552.85,397.24 553.13,395.62 553.40,396.43 553.68,395.40 553.96,394.90 554.23,394.98 554.51,395.45 554.79,396.77 555.07,396.74 555.34,398.54 555.62,394.78 555.90,394.86 556.17,394.97 556.45,396.61 556.73,393.40 557.01,396.08 557.28,394.75 557.56,396.68 557.84,395.78 558.11,394.20 558.39,394.27 558.67,395.92 558.95,395.01 559.22,393.93 559.50,396.30 559.78,394.05 560.05,395.89 560.33,393.98 560.61,394.64 560.88,393.51 561.16,394.68 561.44,394.46 561.72,394.38 561.99,394.80 562.27,394.14 562.55,394.68 562.82,394.20 563.10,393.03 563.38,393.81 563.66,392.49 563.93,392.71 564.21,392.50 564.49,394.12 564.76,392.66 565.04,391.64 565.32,392.01 565.60,391.61 565.87,391.24 566.15,393.84 566.43,391.86 566.70,391.77 566.98,392.33 567.26,393.23 567.54,391.79 567.81,391.96 568.09,389.90 568.37,390.37 568.64,391.84 568.92,392.32 569.20,392.00 569.48,391.14 569.75,391.65 570.03,388.98 570.31,391.84 570.58,390.67 570.86,390.31 571.14,389.92 571.42,391.08 571.69,390.27 571.97,389.73 572.25,389.45 572.52,390.19 572.80,389.78 573.08,389.12 573.35,387.29 573.63,390.23 573.91,388.19 574.19,387.14 574.46,389.97 574.74,386.95 575.02,386.82 575.29,388.02 575.57,386.93 575.85,386.23 576.13,387.74 576.40,387.18 576.68,388.36 576.96,387.80 577.23,386.83 577.51,386.83 577.79,384.86 578.07,386.63 578.34,387.51 578.62,385.09 578.90,384.88 579.17,385.27 579.45,385.67 579.73,386.21 580.01,385.89 580.28,383.33 580.56,383.97 580.84,384.54 581.11,384.01 581.39,384.69 581.67,385.17 581.95,384.49 582.22,383.85 582.50,385.48 582.78,385.09 583.05,385.26 583.33,383.63 583.61,382.23 583.89,384.32 584.16,383.93 584.44,384.31 584.72,382.80 584.99,383.49 585.27,383.10 585.55,383.05 585.82,378.85 586.10,381.48 586.38,381.98 586.66,381.55 586.93,379.76 587.21,379.44 587.49,380.11 587.76,382.68 588.04,378.84 588.32,378.54 588.60,378.70 588.87,378.88 589.15,379.18 589.43,377.56 589.70,379.26 589.98,377.34 590.26,379.09 590.54,378.76 590.81,378.63 591.09,378.58 591.37,378.28 591.64,376.44 591.92,375.16 592.20,377.94 592.48,378.17 592.75,374.90 593.03,376.80 593.31,375.76 593.58,375.70 593.86,374.44 594.14,376.65 594.42,373.64 594.69,373.87 594.97,377.79 595.25,374.72 595.52,374.79 595.80,373.48 596.08,373.85 596.36,374.59 596.63,373.76 596.91,372.51 597.19,372.70 597.46,372.73 597.74,369.01 598.02,371.21 598.29,373.36 598.57,371.28 598.85,370.71 599.13,372.40 599.40,370.48 599.68,371.65 599.96,373.48 600.23,369.32 600.51,368.61 600.79,368.35 601.07,369.25 601.34,369.66 601.62,368.10 601.90,367.52 602.17,366.47 602.45,365.52 602.73,366.07 603.01,368.00 603.28,366.88 603.56,368.78 603.84,365.07 604.11,365.00 604.39,363.72 604.67,364.58 604.95,362.51 605.22,365.98 605.50,363.99 605.78,364.68 606.05,364.36 606.33,366.70 606.61,364.70 606.89,366.56 607.16,363.46 607.44,363.82 607.72,362.12 607.99,365.24 608.27,362.71 608.55,361.98 608.83,365.31 609.10,358.10 609.38,359.85 609.66,361.79 609.93,356.77 610.21,357.43 610.49,364.03 610.76,359.82 611.04,360.12 611.32,358.61 611.60,360.14 611.87,358.57 612.15,357.64 612.43,362.13 612.70,356.93 612.98,354.20 613.26,356.29 613.54,354.01 613.81,352.83 614.09,354.97 614.37,354.42 614.64,354.05 614.92,355.31 615.20,349.67 615.48,352.89 615.75,352.29 616.03,351.14 616.31,349.72 616.58,355.04 616.86,354.01 617.14,351.28 617.42,350.13 617.69,353.31 617.97,353.28 618.25,348.47 618.52,348.19 618.80,349.92 619.08,349.55 619.36,349.91 619.63,350.69 619.91,349.68 620.19,347.07 620.46,347.44 620.74,344.55 621.02,349.13 621.29,349.57 621.57,344.17 621.85,347.09 622.13,345.28 622.40,344.09 622.68,346.56 622.96,346.77 623.23,342.25 623.51,348.65 623.79,340.56 624.07,345.67 624.34,339.24 624.62,339.95 624.90,339.69 625.17,338.64 625.45,339.04 625.73,342.22 626.01,336.53 626.28,337.78 626.56,336.55 626.84,337.59 627.11,337.50 627.39,334.21 627.67,333.77 627.95,335.14 628.22,338.35 628.50,337.33 628.78,337.17 629.05,331.46 629.33,332.63 629.61,333.37 629.89,333.56 630.16,334.72 630.44,330.40 630.72,334.83 630.99,334.01 631.27,329.28 631.55,329.50 631.83,330.99 632.10,333.80 632.38,333.49 632.66,327.60 632.93,328.53 633.21,325.26 633.49,330.14 633.76,328.80 634.04,330.80 634.32,323.54 634.60,332.23 634.87,325.72 635.15,322.73 635.43,329.42 635.70,330.47 635.98,329.03 636.26,329.89 636.54,324.75 636.81,325.70 637.09,327.69 637.37,325.69 637.64,320.44 637.92,325.10 638.20,325.26 638.48,318.46 638.75,326.19 639.03,324.78 639.31,319.09 639.58,322.94 639.86,328.26 640.14,325.11 640.42,328.87 640.69,324.10 640.97,321.13 641.25,326.57 641.52,317.22 641.80,317.78 642.08,318.88 642.36,323.10 642.63,320.66 642.91,318.89 643.19,317.45 643.46,316.25 643.74,326.08 644.02,321.55 644.30,322.60 644.57,319.88 644.85,317.93 645.13,311.35 645.40,318.12 645.68,314.72 645.96,316.71 646.23,316.74 646.51,310.90 646.79,319.18 647.07,313.29 647.34,308.55 647.62,303.92 647.90,315.69 648.17,316.59 648.45,317.24 648.73,314.21 649.01,312.54 649.28,312.10 649.56,308.19 649.84,312.38 650.11,309.98 650.39,315.92 650.67,312.37 650.95,310.36 651.22,317.15 651.50,308.72" fill="none" stroke="#000" stroke-width="2.0" stroke-linejoin="round"/>
<polyline points="457.80,406.50 457.80,409.70" fill="none" stroke="#000" stroke-width="1.3"/>
<polyline points="562.10,406.50 562.10,409.70" fill="none" stroke="#000" stroke-width="1.3"/>
<polyline points="606.80,406.50 606.80,409.70" fill="none" stroke="#000" stroke-width="1.3"/>
<polyline points="651.50,406.50 651.50,409.70" fill="none" stroke="#000" stroke-width="1.3"/>
<polyline points="606.80,305.50 606.80,431.90" fill="none" stroke="#555" stroke-width="1.1"/>
<polyline points="603.60,305.50 606.80,305.50" fill="none" stroke="#000" stroke-width="1.2"/>
<polyline points="603.60,356.20 606.80,356.20" fill="none" stroke="#000" stroke-width="1.2"/>
<polyline points="603.60,431.40 606.80,431.40" fill="none" stroke="#000" stroke-width="1.2"/>
<text transform="translate(590.82,309.58) scale(1.054,1)" font-size="11.69" font-weight="bold" fill="#000" stroke="#000" stroke-width="0.35">40</text>
<text transform="translate(590.59,359.78) scale(0.988,1)" font-size="11.83" font-weight="bold" fill="#000" stroke="#000" stroke-width="0.35">20</text>
<text transform="translate(586.62,435.48) scale(0.986,1)" font-size="12.25" font-weight="bold" fill="#000" stroke="#000" stroke-width="0.35">-10</text>
<text transform="translate(445.60,420.47) scale(0.989,1)" font-size="12.54" font-weight="bold" fill="#000" stroke="#000" stroke-width="0.35">-100</text>
<text transform="translate(553.63,420.57) scale(0.936,1)" font-size="12.68" font-weight="bold" fill="#000" stroke="#000" stroke-width="0.35">-30</text>
<text transform="translate(644.89,420.57) scale(0.981,1)" font-size="12.68" font-weight="bold" fill="#000" stroke="#000" stroke-width="0.35">30</text>
<text transform="translate(490.54,419.60) scale(1.120,1)" font-size="9.01" font-weight="bold" fill="#000" stroke="#000" stroke-width="0.35">Em (mV)</text>
<text transform="translate(618.60,332.33) rotate(-90) scale(0.879,1)" font-size="11.05" font-weight="bold" fill="#000" stroke="#000" stroke-width="0.35">pA/pF</text>
<text transform="translate(656.32,316.50) scale(0.847,1)" font-size="10.58" font-weight="bold" fill="#000" stroke="#000" stroke-width="0.35">I</text>
<text transform="translate(658.77,319.72) scale(1.060,1)" font-size="7.75" font-weight="bold" fill="#000" stroke="#000" stroke-width="0.35">0</text>
<text transform="translate(655.38,385.80) scale(1.029,1)" font-size="10.72" font-weight="bold" fill="#000" stroke="#000" stroke-width="0.35">I</text>
<text transform="translate(658.33,388.90) scale(1.124,1)" font-size="6.48" font-weight="bold" fill="#000" stroke="#000" stroke-width="0.35">NrFlx</text>
<text transform="translate(29.31,479.10) scale(1.116,1)" font-size="15.07" font-weight="bold" fill="#222" stroke="#222" stroke-width="0.35">E</text>
<text transform="translate(88.37,481.10) scale(0.982,1)" font-size="14.39" font-weight="normal" fill="#333" stroke="#333" stroke-width="0.2">HEK hTREK-1</text>
<polyline points="11.10,641.14 12.30,640.57 13.50,639.99 14.71,639.41 15.91,638.83 17.11,638.25 18.31,637.67 19.52,637.08 20.72,636.49 21.92,635.91 23.12,635.32 24.33,634.73 25.53,634.13 26.73,633.54 27.93,632.94 29.13,632.34 30.34,631.75 31.54,631.14 32.74,630.54 33.94,629.94 35.15,629.33 36.35,628.72 37.55,628.11 38.75,627.50 39.96,626.89 41.16,626.28 42.36,625.71 43.56,625.07 44.76,624.46 45.97,623.85 47.17,623.29 48.37,622.65 49.57,622.06 50.78,621.45 51.98,620.76 53.18,620.23 54.38,619.59 55.58,618.92 56.79,618.39 57.99,617.74 59.19,617.10 60.39,616.48 61.60,615.94 62.80,615.22 64.00,614.48 65.20,614.08 66.41,613.23 67.61,612.65 68.81,612.06 70.01,611.16 71.21,610.61 72.42,610.14 73.62,609.34 74.82,608.60 76.02,608.00 77.23,607.21 78.43,606.60 79.63,605.80 80.83,604.98 82.04,604.53 83.24,603.67 84.44,603.01 85.64,602.16 86.84,601.58 88.05,600.71 89.25,599.86 90.45,598.88 91.65,598.03 92.86,597.61 94.06,596.71 95.26,595.64 96.46,595.27 97.67,594.17 98.87,593.27 100.07,592.19 101.27,591.46 102.47,590.82 103.68,589.99 104.88,589.14 106.08,587.96 107.28,587.54 108.49,586.70 109.69,585.75 110.89,585.05 112.09,584.28 113.30,583.70 114.50,582.68 115.70,582.01 116.90,580.88 118.10,580.23 119.31,579.64 120.51,578.72 121.71,578.22 122.91,577.13 124.12,576.66 125.32,575.77 126.52,575.52 127.72,574.36 128.92,574.18 130.13,573.55 131.33,572.35 132.53,571.80 133.73,570.78 134.94,569.46 136.14,569.63 137.34,568.85 138.54,567.88 139.75,567.08 140.95,566.56 142.15,565.86 143.35,564.85 144.55,564.19 145.76,563.97 146.96,562.94 148.16,562.18 149.36,561.82 150.57,560.66 151.77,560.31 152.97,558.96 154.17,558.50 155.38,557.80 156.58,557.30 157.78,556.40 158.98,556.33 160.18,555.28 161.39,553.99 162.59,554.16 163.79,552.30 164.99,552.52 166.20,550.81 167.40,550.65 168.60,549.25 169.80,548.72 171.01,548.60 172.21,546.71 173.41,545.83 174.61,545.64 175.81,544.93 177.02,544.08 178.22,543.61 179.42,541.94 180.62,541.81 181.83,540.79 183.03,540.29 184.23,539.40 185.43,538.86 186.64,536.92 187.84,536.71 189.04,535.37 190.24,534.96 191.44,534.45 192.65,533.44 193.85,532.70 195.05,531.59 196.25,530.93 197.46,530.04 198.66,529.70 199.86,528.58 201.06,526.54 202.26,526.81" fill="none" stroke="#000" stroke-width="1.0"/>
<polyline points="11.10,640.78 12.30,640.22 13.50,639.66 14.71,639.09 15.91,638.53 17.11,637.96 18.31,637.40 19.52,636.83 20.72,636.26 21.92,635.69 23.12,635.11 24.33,634.54 25.53,633.96 26.73,633.39 27.93,632.81 29.13,632.23 30.34,631.64 31.54,631.06 32.74,630.47 33.94,629.88 35.15,629.29 36.35,628.70 37.55,628.11 38.75,627.52 39.96,626.92 41.16,626.33 42.36,625.72 43.56,625.14 44.76,624.55 45.97,623.98 47.17,623.42 48.37,622.76 49.57,622.16 50.78,621.61 51.98,620.99 53.18,620.38 54.38,619.78 55.58,619.18 56.79,618.65 57.99,617.93 59.19,617.50 60.39,616.75 61.60,616.16 62.80,615.52 64.00,614.82 65.20,614.22 66.41,613.82 67.61,613.24 68.81,612.38 70.01,611.91 71.21,611.17 72.42,610.44 73.62,610.04 74.82,609.44 76.02,608.51 77.23,607.86 78.43,607.22 79.63,606.50 80.83,605.92 82.04,605.30 83.24,604.41 84.44,603.79 85.64,603.15 86.84,602.09 88.05,601.41 89.25,600.58 90.45,600.02 91.65,599.18 92.86,598.45 94.06,597.64 95.26,596.66 96.46,596.03 97.67,595.03 98.87,594.22 100.07,593.10 101.27,592.93 102.47,591.69 103.68,591.07 104.88,590.24 106.08,589.73 107.28,588.73 108.49,587.68 109.69,587.07 110.89,586.24 112.09,585.55 113.30,584.45 114.50,583.95 115.70,583.69 116.90,582.59 118.10,582.14 119.31,581.71 120.51,580.30 121.71,579.09 122.91,578.67 124.12,578.24 125.32,577.44 126.52,576.16 127.72,575.68 128.92,574.97 130.13,574.27 131.33,573.51 132.53,572.56 133.73,571.90 134.94,571.26 136.14,570.90 137.34,569.71 138.54,569.34 139.75,568.07 140.95,568.06 142.15,566.99 143.35,566.22 144.55,565.90 145.76,564.20 146.96,563.54 148.16,563.43 149.36,562.29 150.57,561.68 151.77,561.95 152.97,560.24 154.17,559.61 155.38,558.81 156.58,558.47 157.78,557.44 158.98,556.66 160.18,555.41 161.39,554.96 162.59,554.32 163.79,552.98 164.99,553.00 166.20,552.16 167.40,551.94 168.60,549.85 169.80,549.30 171.01,548.53 172.21,547.83 173.41,547.26 174.61,546.42 175.81,545.81 177.02,544.98 178.22,544.07 179.42,542.65 180.62,542.23 181.83,541.67 183.03,541.08 184.23,540.28 185.43,538.48 186.64,538.13 187.84,537.49 189.04,536.84 190.24,536.35 191.44,535.04 192.65,533.77 193.85,533.51 195.05,532.59 196.25,531.74 197.46,530.74 198.66,530.70 199.86,529.20 201.06,528.65 202.26,526.95" fill="none" stroke="#000" stroke-width="1.0"/>
<polyline points="11.10,640.41 12.30,639.87 13.50,639.32 14.71,638.78 15.91,638.23 17.11,637.68 18.31,637.13 19.52,636.58 20.72,636.02 21.92,635.47 23.12,634.91 24.33,634.35 25.53,633.80 26.73,633.23 27.93,632.67 29.13,632.11 30.34,631.54 31.54,630.97 32.74,630.40 33.94,629.83 35.15,629.26 36.35,628.69 37.55,628.11 38.75,627.53 39.96,626.96 41.16,626.40 42.36,625.81 43.56,625.21 44.76,624.64 45.97,624.11 47.17,623.54 48.37,622.96 49.57,622.36 50.78,621.80 51.98,621.21 53.18,620.63 54.38,620.08 55.58,619.48 56.79,618.89 57.99,618.32 59.19,617.69 60.39,617.01 61.60,616.50 62.80,615.94 64.00,615.48 65.20,614.71 66.41,614.30 67.61,613.65 68.81,612.83 70.01,612.22 71.21,611.68 72.42,611.21 73.62,610.43 74.82,609.83 76.02,609.03 77.23,608.19 78.43,607.77 79.63,607.22 80.83,606.60 82.04,605.78 83.24,605.10 84.44,604.53 85.64,603.63 86.84,603.09 88.05,602.03 89.25,601.29 90.45,600.53 91.65,600.02 92.86,599.10 94.06,598.44 95.26,597.72 96.46,596.93 97.67,596.33 98.87,595.58 100.07,594.39 101.27,593.79 102.47,592.92 103.68,591.98 104.88,591.74 106.08,590.77 107.28,589.79 108.49,588.97 109.69,588.35 110.89,587.28 112.09,586.69 113.30,586.24 114.50,585.42 115.70,584.27 116.90,583.59 118.10,583.40 119.31,581.87 120.51,581.29 121.71,580.36 122.91,580.04 124.12,579.27 125.32,578.73 126.52,577.02 127.72,576.99 128.92,575.77 130.13,575.63 131.33,574.66 132.53,574.42 133.73,573.32 134.94,572.18 136.14,572.08 137.34,570.65 138.54,570.12 139.75,569.78 140.95,568.87 142.15,568.11 143.35,567.24 144.55,566.64 145.76,565.98 146.96,565.06 148.16,564.55 149.36,563.88 150.57,562.72 151.77,561.65 152.97,561.71 154.17,560.43 155.38,559.90 156.58,559.25 157.78,557.84 158.98,557.56 160.18,556.07 161.39,556.13 162.59,554.93 163.79,554.38 164.99,553.81 166.20,552.52 167.40,552.03 168.60,550.95 169.80,550.42 171.01,550.04 172.21,548.87 173.41,548.01 174.61,546.85 175.81,546.81 177.02,545.66 178.22,545.56 179.42,543.77 180.62,543.70 181.83,543.20 183.03,541.65 184.23,540.33 185.43,540.67 186.64,539.67 187.84,538.70 189.04,538.06 190.24,536.56 191.44,536.28 192.65,535.42 193.85,534.00 195.05,533.79 196.25,532.41 197.46,532.25 198.66,531.54 199.86,531.01 201.06,528.40 202.26,528.62" fill="none" stroke="#000" stroke-width="1.0"/>
<polyline points="11.10,640.05 12.30,639.52 13.50,638.99 14.71,638.46 15.91,637.93 17.11,637.40 18.31,636.86 19.52,636.33 20.72,635.79 21.92,635.25 23.12,634.71 24.33,634.17 25.53,633.63 26.73,633.08 27.93,632.54 29.13,631.99 30.34,631.44 31.54,630.89 32.74,630.34 33.94,629.78 35.15,629.23 36.35,628.67 37.55,628.11 38.75,627.54 39.96,626.98 41.16,626.44 42.36,625.89 43.56,625.35 44.76,624.77 45.97,624.21 47.17,623.65 48.37,623.10 49.57,622.58 50.78,621.98 51.98,621.42 53.18,620.80 54.38,620.21 55.58,619.74 56.79,619.21 57.99,618.61 59.19,618.07 60.39,617.51 61.60,616.89 62.80,616.38 64.00,615.68 65.20,615.15 66.41,614.53 67.61,613.97 68.81,613.42 70.01,612.85 71.21,612.17 72.42,611.59 73.62,610.89 74.82,610.30 76.02,609.82 77.23,609.03 78.43,608.56 79.63,607.83 80.83,607.13 82.04,606.70 83.24,605.75 84.44,605.06 85.64,604.41 86.84,603.75 88.05,603.03 89.25,602.41 90.45,601.59 91.65,600.90 92.86,600.07 94.06,599.55 95.26,598.56 96.46,597.83 97.67,597.13 98.87,596.43 100.07,595.49 101.27,595.14 102.47,593.98 103.68,593.26 104.88,592.49 106.08,591.70 107.28,591.15 108.49,590.31 109.69,589.36 110.89,588.64 112.09,587.94 113.30,587.57 114.50,586.35 115.70,585.46 116.90,584.74 118.10,584.17 119.31,583.85 120.51,582.48 121.71,582.00 122.91,581.84 124.12,580.35 125.32,580.08 126.52,579.27 127.72,578.34 128.92,577.07 130.13,576.75 131.33,575.81 132.53,574.64 133.73,573.91 134.94,573.63 136.14,572.90 137.34,572.44 138.54,571.51 139.75,570.41 140.95,569.65 142.15,568.96 143.35,567.92 144.55,567.70 145.76,566.71 146.96,565.68 148.16,564.95 149.36,564.02 150.57,563.46 151.77,562.93 152.97,561.92 154.17,561.62 155.38,561.07 156.58,559.51 157.78,558.96 158.98,558.05 160.18,558.00 161.39,556.73 162.59,556.04 163.79,555.36 164.99,555.11 166.20,553.60 167.40,552.35 168.60,551.76 169.80,551.36 171.01,550.34 172.21,549.25 173.41,549.87 174.61,548.02 175.81,546.96 177.02,546.11 178.22,544.89 179.42,544.33 180.62,543.88 181.83,543.09 183.03,542.08 184.23,541.86 185.43,540.84 186.64,539.62 187.84,538.35 189.04,538.49 190.24,537.64 191.44,536.72 192.65,535.39 193.85,535.22 195.05,533.71 196.25,534.05 197.46,532.87 198.66,532.07 199.86,530.79 201.06,529.85 202.26,530.28" fill="none" stroke="#000" stroke-width="1.0"/>
<polyline points="11.10,639.68 12.30,639.17 13.50,638.66 14.71,638.14 15.91,637.63 17.11,637.11 18.31,636.59 19.52,636.07 20.72,635.55 21.92,635.03 23.12,634.51 24.33,633.98 25.53,633.46 26.73,632.93 27.93,632.40 29.13,631.87 30.34,631.34 31.54,630.80 32.74,630.27 33.94,629.73 35.15,629.19 36.35,628.65 37.55,628.11 38.75,627.56 39.96,627.01 41.16,626.46 42.36,625.94 43.56,625.40 44.76,624.83 45.97,624.33 47.17,623.82 48.37,623.24 49.57,622.69 50.78,622.20 51.98,621.70 53.18,621.15 54.38,620.51 55.58,620.03 56.79,619.45 57.99,618.88 59.19,618.30 60.39,617.81 61.60,617.19 62.80,616.73 64.00,616.13 65.20,615.62 66.41,614.87 67.61,614.39 68.81,613.88 70.01,613.26 71.21,612.66 72.42,611.97 73.62,611.61 74.82,610.96 76.02,610.28 77.23,609.32 78.43,608.88 79.63,608.38 80.83,607.65 82.04,606.82 83.24,606.48 84.44,605.84 85.64,604.95 86.84,604.37 88.05,603.66 89.25,603.15 90.45,602.08 91.65,601.41 92.86,600.88 94.06,600.15 95.26,599.89 96.46,598.72 97.67,598.14 98.87,597.30 100.07,596.52 101.27,595.97 102.47,595.50 103.68,594.36 104.88,593.84 106.08,593.02 107.28,592.33 108.49,591.53 109.69,591.21 110.89,589.71 112.09,589.17 113.30,588.24 114.50,587.29 115.70,586.99 116.90,586.67 118.10,585.71 119.31,585.04 120.51,584.11 121.71,583.21 122.91,582.98 124.12,581.62 125.32,581.33 126.52,580.10 127.72,579.43 128.92,578.72 130.13,577.88 131.33,577.23 132.53,576.48 133.73,576.00 134.94,574.75 136.14,573.42 137.34,572.59 138.54,572.00 139.75,571.39 140.95,571.02 142.15,569.58 143.35,569.26 144.55,568.47 145.76,567.75 146.96,566.84 148.16,566.22 149.36,565.31 150.57,564.85 151.77,563.82 152.97,562.13 154.17,562.14 155.38,561.40 156.58,560.34 157.78,559.48 158.98,559.34 160.18,558.22 161.39,557.02 162.59,556.47 163.79,555.73 164.99,554.40 166.20,554.46 167.40,553.38 168.60,552.83 169.80,551.26 171.01,551.83 172.21,550.54 173.41,549.71 174.61,548.44 175.81,547.68 177.02,546.56 178.22,547.01 179.42,545.26 180.62,544.91 181.83,544.29 183.03,542.98 184.23,542.83 185.43,542.55 186.64,541.02 187.84,540.74 189.04,539.58 190.24,538.33 191.44,537.57 192.65,536.20 193.85,536.23 195.05,536.07 196.25,534.92 197.46,534.21 198.66,533.57 199.86,532.00 201.06,531.73 202.26,531.59" fill="none" stroke="#000" stroke-width="1.0"/>
<polyline points="11.10,639.37 12.30,638.87 13.50,638.37 14.71,637.87 15.91,637.37 17.11,636.87 18.31,636.36 19.52,635.86 20.72,635.35 21.92,634.84 23.12,634.34 24.33,633.82 25.53,633.31 26.73,632.80 27.93,632.28 29.13,631.77 30.34,631.25 31.54,630.73 32.74,630.21 33.94,629.69 35.15,629.16 36.35,628.64 37.55,628.11 38.75,627.58 39.96,627.05 41.16,626.54 42.36,626.00 43.56,625.46 44.76,624.90 45.97,624.45 47.17,623.92 48.37,623.41 49.57,622.83 50.78,622.37 51.98,621.82 53.18,621.27 54.38,620.79 55.58,620.26 56.79,619.70 57.99,619.27 59.19,618.70 60.39,618.09 61.60,617.51 62.80,616.99 64.00,616.57 65.20,615.91 66.41,615.25 67.61,614.71 68.81,614.20 70.01,613.71 71.21,612.99 72.42,612.54 73.62,612.02 74.82,611.40 76.02,610.55 77.23,610.09 78.43,609.37 79.63,608.96 80.83,608.17 82.04,607.74 83.24,607.05 84.44,606.05 85.64,605.64 86.84,605.17 88.05,604.45 89.25,603.72 90.45,602.91 91.65,602.50 92.86,602.03 94.06,601.10 95.26,600.36 96.46,599.64 97.67,598.73 98.87,598.20 100.07,597.40 101.27,597.04 102.47,595.95 103.68,594.99 104.88,594.52 106.08,593.90 107.28,593.19 108.49,592.12 109.69,591.96 110.89,591.06 112.09,590.20 113.30,589.40 114.50,588.93 115.70,588.02 116.90,587.41 118.10,586.57 119.31,585.87 120.51,585.36 121.71,584.32 122.91,583.33 124.12,583.03 125.32,582.07 126.52,581.05 127.72,580.73 128.92,579.61 130.13,579.16 131.33,577.77 132.53,576.64 133.73,575.92 134.94,575.76 136.14,574.68 137.34,574.06 138.54,573.26 139.75,572.02 140.95,572.08 142.15,570.54 143.35,570.08 144.55,568.80 145.76,568.38 146.96,567.85 148.16,566.73 149.36,565.76 150.57,565.18 151.77,564.22 152.97,563.75 154.17,563.50 155.38,561.64 156.58,560.90 157.78,560.29 158.98,559.51 160.18,558.36 161.39,558.10 162.59,557.39 163.79,556.40 164.99,555.09 166.20,555.27 167.40,553.50 168.60,553.42 169.80,552.81 171.01,551.10 172.21,550.86 173.41,550.57 174.61,549.41 175.81,548.11 177.02,547.22 178.22,547.11 179.42,545.99 180.62,545.08 181.83,544.88 183.03,543.68 184.23,543.08 185.43,542.52 186.64,541.73 187.84,540.72 189.04,539.96 190.24,539.46 191.44,538.63 192.65,537.16 193.85,536.80 195.05,535.72 196.25,534.80 197.46,534.32 198.66,532.75 199.86,533.46 201.06,531.91 202.26,531.69" fill="none" stroke="#000" stroke-width="1.0"/>
<polyline points="11.10,639.06 12.30,638.57 13.50,638.09 14.71,637.60 15.91,637.11 17.11,636.62 18.31,636.13 19.52,635.64 20.72,635.15 21.92,634.66 23.12,634.16 24.33,633.67 25.53,633.17 26.73,632.67 27.93,632.17 29.13,631.67 30.34,631.16 31.54,630.66 32.74,630.15 33.94,629.64 35.15,629.13 36.35,628.62 37.55,628.11 38.75,627.59 39.96,627.08 41.16,626.57 42.36,626.05 43.56,625.55 44.76,625.04 45.97,624.52 47.17,623.99 48.37,623.52 49.57,623.01 50.78,622.49 51.98,621.97 53.18,621.50 54.38,620.90 55.58,620.45 56.79,619.89 57.99,619.44 59.19,618.85 60.39,618.32 61.60,617.85 62.80,617.13 64.00,616.72 65.20,616.07 66.41,615.59 67.61,615.19 68.81,614.62 70.01,613.99 71.21,613.47 72.42,612.91 73.62,612.38 74.82,611.97 76.02,611.22 77.23,610.88 78.43,609.98 79.63,609.53 80.83,608.93 82.04,608.26 83.24,607.58 84.44,607.20 85.64,606.63 86.84,605.90 88.05,605.41 89.25,604.61 90.45,603.57 91.65,603.33 92.86,602.40 94.06,602.07 95.26,601.12 96.46,600.55 97.67,599.83 98.87,599.03 100.07,598.12 101.27,597.72 102.47,597.04 103.68,596.55 104.88,595.54 106.08,595.00 107.28,594.07 108.49,593.53 109.69,592.44 110.89,592.52 112.09,591.43 113.30,590.44 114.50,589.99 115.70,589.36 116.90,588.50 118.10,588.02 119.31,586.91 120.51,585.58 121.71,585.12 122.91,584.92 124.12,584.08 125.32,583.18 126.52,582.02 127.72,581.71 128.92,580.88 130.13,579.65 131.33,578.85 132.53,578.38 133.73,577.79 134.94,577.10 136.14,576.04 137.34,575.67 138.54,573.97 139.75,573.56 140.95,572.39 142.15,571.13 143.35,570.52 144.55,570.42 145.76,568.94 146.96,568.02 148.16,567.81 149.36,567.05 150.57,565.94 151.77,565.61 152.97,563.74 154.17,564.25 155.38,562.98 156.58,561.87 157.78,561.03 158.98,560.07 160.18,559.22 161.39,558.58 162.59,557.27 163.79,557.69 164.99,556.09 166.20,555.56 167.40,554.45 168.60,553.62 169.80,553.28 171.01,552.40 172.21,551.05 173.41,550.45 174.61,550.10 175.81,548.21 177.02,547.33 178.22,548.12 179.42,546.62 180.62,544.92 181.83,544.88 183.03,544.36 184.23,543.78 185.43,543.17 186.64,542.27 187.84,541.66 189.04,540.33 190.24,540.09 191.44,539.36 192.65,538.96 193.85,537.68 195.05,537.32 196.25,536.24 197.46,534.92 198.66,534.49 199.86,533.68 201.06,533.01 202.26,532.41" fill="none" stroke="#000" stroke-width="1.0"/>
<polyline points="11.10,637.91 12.30,637.48 13.50,637.04 14.71,636.61 15.91,636.17 17.11,635.73 18.31,635.29 19.52,634.85 20.72,634.41 21.92,633.97 23.12,633.53 24.33,633.08 25.53,632.64 26.73,632.19 27.93,631.74 29.13,631.29 30.34,630.84 31.54,630.39 32.74,629.94 33.94,629.48 35.15,629.02 36.35,628.57 37.55,628.11 38.75,627.65 39.96,627.18 41.16,626.71 42.36,626.26 43.56,625.81 44.76,625.35 45.97,624.89 47.17,624.47 48.37,624.03 49.57,623.53 50.78,623.11 51.98,622.62 53.18,622.15 54.38,621.58 55.58,621.28 56.79,620.78 57.99,620.31 59.19,619.81 60.39,619.29 61.60,618.93 62.80,618.48 64.00,618.07 65.20,617.53 66.41,616.93 67.61,616.48 68.81,616.09 70.01,615.54 71.21,615.00 72.42,614.45 73.62,614.06 74.82,613.51 76.02,613.18 77.23,612.58 78.43,611.73 79.63,611.66 80.83,610.90 82.04,610.29 83.24,609.82 84.44,609.34 85.64,608.68 86.84,608.11 88.05,607.56 89.25,607.27 90.45,606.44 91.65,605.97 92.86,605.35 94.06,604.63 95.26,603.97 96.46,603.33 97.67,602.97 98.87,602.11 100.07,601.45 101.27,600.84 102.47,600.16 103.68,599.83 104.88,599.20 106.08,598.36 107.28,598.17 108.49,597.19 109.69,596.70 110.89,596.00 112.09,595.64 113.30,594.78 114.50,593.91 115.70,593.01 116.90,592.29 118.10,591.83 119.31,591.14 120.51,590.58 121.71,589.54 122.91,588.96 124.12,588.00 125.32,586.95 126.52,586.65 127.72,586.27 128.92,585.33 130.13,584.72 131.33,583.86 132.53,582.37 133.73,581.88 134.94,581.58 136.14,580.14 137.34,579.15 138.54,578.82 139.75,578.09 140.95,577.17 142.15,576.16 143.35,575.22 144.55,574.21 145.76,573.37 146.96,572.54 148.16,571.64 149.36,571.03 150.57,570.92 151.77,569.61 152.97,568.62 154.17,568.02 155.38,566.73 156.58,566.34 157.78,565.70 158.98,564.02 160.18,563.46 161.39,562.78 162.59,561.69 163.79,560.80 164.99,560.25 166.20,560.48 167.40,558.99 168.60,558.09 169.80,557.48 171.01,556.20 172.21,555.00 173.41,554.85 174.61,554.31 175.81,552.20 177.02,552.40 178.22,551.92 179.42,550.49 180.62,549.59 181.83,549.25 183.03,547.79 184.23,547.53 185.43,546.90 186.64,545.60 187.84,544.51 189.04,544.32 190.24,543.06 191.44,542.43 192.65,540.27 193.85,541.07 195.05,539.27 196.25,539.12 197.46,538.33 198.66,537.10 199.86,536.19 201.06,535.18 202.26,534.80" fill="none" stroke="#000" stroke-width="1.0"/>
<polyline points="11.10,636.71 12.30,636.33 13.50,635.95 14.71,635.57 15.91,635.18 17.11,634.80 18.31,634.41 19.52,634.03 20.72,633.64 21.92,633.25 23.12,632.86 24.33,632.47 25.53,632.08 26.73,631.69 27.93,631.30 29.13,630.90 30.34,630.51 31.54,630.11 32.74,629.71 33.94,629.31 35.15,628.91 36.35,628.51 37.55,628.11 38.75,627.70 39.96,627.29 41.16,626.92 42.36,626.49 43.56,626.11 44.76,625.69 45.97,625.27 47.17,624.90 48.37,624.47 49.57,624.15 50.78,623.65 51.98,623.31 53.18,622.86 54.38,622.47 55.58,622.21 56.79,621.71 57.99,621.24 59.19,620.75 60.39,620.41 61.60,620.00 62.80,619.71 64.00,619.07 65.20,618.61 66.41,618.33 67.61,617.93 68.81,617.63 70.01,616.96 71.21,616.34 72.42,616.09 73.62,615.59 74.82,615.21 76.02,614.93 77.23,614.21 78.43,614.05 79.63,613.46 80.83,612.93 82.04,612.38 83.24,611.96 84.44,611.49 85.64,611.17 86.84,610.77 88.05,610.09 89.25,609.72 90.45,609.32 91.65,608.82 92.86,608.20 94.06,607.92 95.26,607.33 96.46,606.87 97.67,606.04 98.87,605.47 100.07,604.64 101.27,604.76 102.47,604.06 103.68,603.20 104.88,602.86 106.08,602.32 107.28,601.33 108.49,601.17 109.69,600.76 110.89,600.20 112.09,599.24 113.30,598.63 114.50,598.39 115.70,597.67 116.90,596.66 118.10,595.99 119.31,595.61 120.51,594.61 121.71,593.92 122.91,593.80 124.12,592.71 125.32,591.79 126.52,591.31 127.72,590.98 128.92,589.72 130.13,588.67 131.33,587.66 132.53,587.93 133.73,585.78 134.94,586.05 136.14,584.64 137.34,583.75 138.54,583.00 139.75,582.43 140.95,582.00 142.15,580.62 143.35,580.21 144.55,579.94 145.76,577.40 146.96,577.23 148.16,576.02 149.36,576.07 150.57,574.44 151.77,573.54 152.97,572.70 154.17,572.39 155.38,571.96 156.58,570.75 157.78,570.63 158.98,569.62 160.18,568.13 161.39,567.69 162.59,566.56 163.79,565.71 164.99,564.12 166.20,563.53 167.40,563.23 168.60,561.93 169.80,561.90 171.01,560.93 172.21,559.64 173.41,559.71 174.61,558.53 175.81,558.16 177.02,556.77 178.22,555.34 179.42,555.54 180.62,554.33 181.83,554.01 183.03,553.32 184.23,552.56 185.43,550.59 186.64,549.39 187.84,549.41 189.04,549.15 190.24,547.71 191.44,547.38 192.65,546.06 193.85,545.49 195.05,544.70 196.25,543.74 197.46,543.50 198.66,542.61 199.86,542.45 201.06,541.03 202.26,540.71" fill="none" stroke="#000" stroke-width="1.0"/>
<polyline points="11.10,635.56 12.30,635.23 13.50,634.90 14.71,634.57 15.91,634.24 17.11,633.90 18.31,633.57 19.52,633.24 20.72,632.90 21.92,632.57 23.12,632.23 24.33,631.89 25.53,631.55 26.73,631.21 27.93,630.87 29.13,630.53 30.34,630.19 31.54,629.84 32.74,629.50 33.94,629.15 35.15,628.80 36.35,628.45 37.55,628.11 38.75,627.76 39.96,627.40 41.16,627.06 42.36,626.69 43.56,626.36 44.76,625.97 45.97,625.69 47.17,625.31 48.37,625.04 49.57,624.67 50.78,624.23 51.98,623.97 53.18,623.56 54.38,623.23 55.58,622.93 56.79,622.54 57.99,622.20 59.19,621.84 60.39,621.41 61.60,621.05 62.80,620.78 64.00,620.44 65.20,619.98 66.41,619.65 67.61,619.18 68.81,618.65 70.01,618.44 71.21,618.14 72.42,617.77 73.62,617.46 74.82,617.08 76.02,616.70 77.23,616.24 78.43,615.85 79.63,615.30 80.83,615.04 82.04,614.60 83.24,614.33 84.44,613.53 85.64,613.28 86.84,612.67 88.05,612.40 89.25,611.88 90.45,611.72 91.65,611.14 92.86,610.39 94.06,610.61 95.26,609.76 96.46,609.23 97.67,609.00 98.87,608.49 100.07,607.93 101.27,607.83 102.47,607.16 103.68,606.93 104.88,606.41 106.08,605.91 107.28,605.31 108.49,604.74 109.69,604.15 110.89,604.03 112.09,602.73 113.30,602.37 114.50,601.90 115.70,601.58 116.90,600.93 118.10,600.16 119.31,599.57 120.51,599.46 121.71,598.20 122.91,596.97 124.12,597.54 125.32,596.10 126.52,595.56 127.72,594.98 128.92,593.85 130.13,593.83 131.33,592.71 132.53,591.58 133.73,591.30 134.94,590.60 136.14,589.67 137.34,589.06 138.54,587.66 139.75,587.62 140.95,586.26 142.15,586.13 143.35,584.70 144.55,584.14 145.76,584.14 146.96,582.47 148.16,582.00 149.36,580.97 150.57,579.46 151.77,579.55 152.97,578.71 154.17,577.00 155.38,576.64 156.58,575.30 157.78,574.91 158.98,574.54 160.18,573.42 161.39,572.11 162.59,571.41 163.79,570.96 164.99,570.13 166.20,569.40 167.40,568.79 168.60,567.01 169.80,567.00 171.01,566.69 172.21,565.65 173.41,564.38 174.61,563.64 175.81,563.19 177.02,562.65 178.22,561.58 179.42,561.53 180.62,560.60 181.83,558.91 183.03,558.69 184.23,557.54 185.43,556.38 186.64,555.85 187.84,555.36 189.04,553.61 190.24,553.50 191.44,553.19 192.65,551.90 193.85,551.27 195.05,551.09 196.25,549.86 197.46,549.19 198.66,549.29 199.86,547.63 201.06,546.90 202.26,546.19" fill="none" stroke="#000" stroke-width="1.0"/>
<polyline points="11.10,634.41 12.30,634.13 13.50,633.85 14.71,633.57 15.91,633.29 17.11,633.01 18.31,632.73 19.52,632.45 20.72,632.16 21.92,631.88 23.12,631.59 24.33,631.31 25.53,631.02 26.73,630.73 27.93,630.44 29.13,630.15 30.34,629.86 31.54,629.57 32.74,629.28 33.94,628.99 35.15,628.69 36.35,628.40 37.55,628.10 38.75,627.81 39.96,627.51 41.16,627.21 42.36,626.94 43.56,626.63 44.76,626.30 45.97,626.04 47.17,625.77 48.37,625.46 49.57,625.19 50.78,624.86 51.98,624.53 53.18,624.31 54.38,623.99 55.58,623.62 56.79,623.41 57.99,623.07 59.19,622.85 60.39,622.53 61.60,622.21 62.80,621.71 64.00,621.59 65.20,621.29 66.41,620.99 67.61,620.64 68.81,620.25 70.01,619.97 71.21,619.47 72.42,619.33 73.62,618.87 74.82,618.66 76.02,618.29 77.23,618.20 78.43,617.70 79.63,617.36 80.83,617.03 82.04,616.94 83.24,616.20 84.44,616.02 85.64,615.69 86.84,615.32 88.05,614.97 89.25,614.52 90.45,614.43 91.65,614.03 92.86,613.48 94.06,613.14 95.26,612.86 96.46,612.53 97.67,612.20 98.87,611.69 100.07,611.07 101.27,611.10 102.47,610.21 103.68,609.93 104.88,609.78 106.08,609.11 107.28,609.14 108.49,608.77 109.69,608.23 110.89,607.59 112.09,607.11 113.30,606.67 114.50,606.05 115.70,606.06 116.90,604.93 118.10,604.85 119.31,604.12 120.51,603.49 121.71,603.09 122.91,602.56 124.12,601.86 125.32,600.98 126.52,600.19 127.72,599.54 128.92,599.31 130.13,598.58 131.33,597.94 132.53,596.87 133.73,596.88 134.94,595.23 136.14,595.01 137.34,594.38 138.54,593.32 139.75,592.37 140.95,591.83 142.15,590.86 143.35,590.39 144.55,589.29 145.76,588.51 146.96,588.18 148.16,586.91 149.36,586.55 150.57,585.80 151.77,585.37 152.97,584.38 154.17,583.24 155.38,583.19 156.58,581.73 157.78,581.06 158.98,580.31 160.18,580.45 161.39,578.92 162.59,577.88 163.79,577.64 164.99,576.57 166.20,576.76 167.40,574.86 168.60,574.64 169.80,573.31 171.01,573.65 172.21,571.93 173.41,571.57 174.61,570.42 175.81,570.40 177.02,569.55 178.22,567.63 179.42,568.18 180.62,567.40 181.83,566.49 183.03,566.07 184.23,564.38 185.43,563.40 186.64,563.73 187.84,563.45 189.04,561.42 190.24,560.70 191.44,560.08 192.65,559.18 193.85,559.37 195.05,558.30 196.25,558.13 197.46,557.40 198.66,555.51 199.86,555.56 201.06,553.38 202.26,553.70" fill="none" stroke="#000" stroke-width="1.0"/>
<polyline points="11.10,633.27 12.30,633.04 13.50,632.81 14.71,632.58 15.91,632.35 17.11,632.12 18.31,631.89 19.52,631.66 20.72,631.42 21.92,631.19 23.12,630.96 24.33,630.72 25.53,630.49 26.73,630.25 27.93,630.02 29.13,629.78 30.34,629.54 31.54,629.31 32.74,629.07 33.94,628.83 35.15,628.59 36.35,628.35 37.55,628.10 38.75,627.86 39.96,627.63 41.16,627.37 42.36,627.15 43.56,626.94 44.76,626.64 45.97,626.44 47.17,626.19 48.37,625.98 49.57,625.74 50.78,625.50 51.98,625.23 53.18,624.95 54.38,624.84 55.58,624.44 56.79,624.31 57.99,624.06 59.19,623.70 60.39,623.51 61.60,623.36 62.80,622.86 64.00,622.82 65.20,622.48 66.41,622.22 67.61,621.86 68.81,621.77 70.01,621.37 71.21,621.28 72.42,620.82 73.62,620.75 74.82,620.44 76.02,619.92 77.23,619.82 78.43,619.57 79.63,619.02 80.83,618.97 82.04,618.85 83.24,618.36 84.44,618.34 85.64,617.73 86.84,617.44 88.05,617.42 89.25,617.14 90.45,616.73 91.65,616.47 92.86,616.34 94.06,615.79 95.26,615.94 96.46,615.36 97.67,615.05 98.87,614.72 100.07,614.30 101.27,614.27 102.47,613.60 103.68,613.42 104.88,613.18 106.08,612.98 107.28,612.59 108.49,611.92 109.69,611.83 110.89,611.24 112.09,610.63 113.30,610.24 114.50,609.72 115.70,609.73 116.90,609.49 118.10,608.55 119.31,608.27 120.51,607.61 121.71,607.41 122.91,606.62 124.12,606.21 125.32,605.74 126.52,605.28 127.72,604.78 128.92,604.29 130.13,603.74 131.33,602.98 132.53,602.84 133.73,601.63 134.94,601.58 136.14,600.68 137.34,600.40 138.54,599.85 139.75,598.56 140.95,598.66 142.15,598.35 143.35,597.55 144.55,596.80 145.76,595.38 146.96,595.37 148.16,594.50 149.36,594.49 150.57,593.40 151.77,592.64 152.97,591.60 154.17,591.80 155.38,590.69 156.58,590.14 157.78,589.95 158.98,588.93 160.18,588.36 161.39,588.46 162.59,586.72 163.79,586.08 164.99,585.79 166.20,585.47 167.40,583.74 168.60,583.55 169.80,582.60 171.01,581.78 172.21,581.89 173.41,580.69 174.61,580.45 175.81,579.70 177.02,579.03 178.22,578.30 179.42,577.14 180.62,576.86 181.83,576.28 183.03,575.62 184.23,574.64 185.43,574.47 186.64,573.58 187.84,572.65 189.04,572.15 190.24,571.22 191.44,570.71 192.65,568.77 193.85,568.33 195.05,567.99 196.25,567.48 197.46,565.66 198.66,565.79 199.86,565.23 201.06,564.28 202.26,563.51" fill="none" stroke="#000" stroke-width="1.0"/>
<polyline points="11.10,632.12 12.30,631.94 13.50,631.76 14.71,631.58 15.91,631.40 17.11,631.23 18.31,631.05 19.52,630.87 20.72,630.69 21.92,630.50 23.12,630.32 24.33,630.14 25.53,629.96 26.73,629.78 27.93,629.59 29.13,629.41 30.34,629.22 31.54,629.04 32.74,628.85 33.94,628.67 35.15,628.48 36.35,628.29 37.55,628.10 38.75,627.92 39.96,627.73 41.16,627.53 42.36,627.37 43.56,627.17 44.76,627.00 45.97,626.77 47.17,626.60 48.37,626.42 49.57,626.22 50.78,626.05 51.98,625.92 53.18,625.64 54.38,625.46 55.58,625.30 56.79,625.04 57.99,624.83 59.19,624.78 60.39,624.58 61.60,624.22 62.80,624.03 64.00,624.00 65.20,623.84 66.41,623.60 67.61,623.39 68.81,623.29 70.01,622.94 71.21,622.86 72.42,622.66 73.62,622.23 74.82,622.19 76.02,621.91 77.23,621.62 78.43,621.38 79.63,621.30 80.83,621.03 82.04,620.93 83.24,620.36 84.44,620.29 85.64,620.32 86.84,619.94 88.05,619.62 89.25,619.43 90.45,618.99 91.65,618.84 92.86,618.92 94.06,618.62 95.26,618.59 96.46,618.09 97.67,617.87 98.87,617.17 100.07,617.40 101.27,617.56 102.47,617.04 103.68,616.64 104.88,616.64 106.08,616.30 107.28,615.93 108.49,615.50 109.69,615.32 110.89,615.19 112.09,614.53 113.30,614.51 114.50,614.19 115.70,614.08 116.90,613.61 118.10,612.94 119.31,613.14 120.51,612.41 121.71,611.85 122.91,611.75 124.12,611.22 125.32,611.19 126.52,610.16 127.72,609.81 128.92,609.64 130.13,609.77 131.33,609.16 132.53,608.17 133.73,607.52 134.94,607.49 136.14,606.77 137.34,606.86 138.54,606.28 139.75,605.76 140.95,605.17 142.15,605.30 143.35,604.05 144.55,603.45 145.76,603.75 146.96,603.32 148.16,602.28 149.36,602.11 150.57,602.18 151.77,600.60 152.97,600.31 154.17,600.01 155.38,598.59 156.58,598.76 157.78,598.55 158.98,597.71 160.18,597.59 161.39,596.96 162.59,596.00 163.79,595.81 164.99,595.23 166.20,593.88 167.40,593.63 168.60,593.10 169.80,592.66 171.01,592.12 172.21,591.17 173.41,591.18 174.61,589.84 175.81,590.38 177.02,589.50 178.22,589.35 179.42,588.30 180.62,587.30 181.83,586.26 183.03,586.52 184.23,585.58 185.43,585.08 186.64,584.57 187.84,584.10 189.04,582.86 190.24,582.98 191.44,581.45 192.65,580.79 193.85,580.40 195.05,579.86 196.25,579.32 197.46,577.06 198.66,577.87 199.86,575.75 201.06,575.48 202.26,575.21" fill="none" stroke="#000" stroke-width="1.0"/>
<polyline points="11.10,630.97 12.30,630.84 13.50,630.72 14.71,630.59 15.91,630.46 17.11,630.33 18.31,630.20 19.52,630.08 20.72,629.95 21.92,629.82 23.12,629.69 24.33,629.56 25.53,629.43 26.73,629.30 27.93,629.17 29.13,629.03 30.34,628.90 31.54,628.77 32.74,628.64 33.94,628.50 35.15,628.37 36.35,628.24 37.55,628.10 38.75,627.97 39.96,627.84 41.16,627.70 42.36,627.57 43.56,627.45 44.76,627.27 45.97,627.20 47.17,627.00 48.37,626.87 49.57,626.77 50.78,626.66 51.98,626.51 53.18,626.34 54.38,626.19 55.58,626.08 56.79,625.90 57.99,625.85 59.19,625.67 60.39,625.65 61.60,625.35 62.80,625.26 64.00,625.16 65.20,624.89 66.41,624.79 67.61,624.95 68.81,624.56 70.01,624.55 71.21,624.16 72.42,623.87 73.62,624.03 74.82,623.82 76.02,623.70 77.23,623.48 78.43,623.29 79.63,623.05 80.83,623.18 82.04,622.69 83.24,622.87 84.44,622.55 85.64,622.27 86.84,622.17 88.05,622.26 89.25,622.07 90.45,621.88 91.65,621.65 92.86,621.30 94.06,621.54 95.26,621.08 96.46,620.89 97.67,620.72 98.87,620.57 100.07,620.20 101.27,620.21 102.47,619.96 103.68,619.83 104.88,619.39 106.08,619.94 107.28,619.10 108.49,619.22 109.69,619.02 110.89,618.96 112.09,618.94 113.30,618.40 114.50,618.24 115.70,617.74 116.90,617.96 118.10,617.03 119.31,617.06 120.51,616.93 121.71,616.79 122.91,616.55 124.12,616.37 125.32,615.95 126.52,615.53 127.72,615.29 128.92,615.34 130.13,614.73 131.33,614.61 132.53,614.01 133.73,613.22 134.94,613.25 136.14,613.20 137.34,613.27 138.54,612.88 139.75,612.64 140.95,611.57 142.15,611.68 143.35,611.08 144.55,610.94 145.76,610.36 146.96,609.58 148.16,609.89 149.36,609.41 150.57,609.19 151.77,608.24 152.97,608.51 154.17,608.16 155.38,607.86 156.58,607.48 157.78,606.42 158.98,605.26 160.18,606.13 161.39,605.01 162.59,604.85 163.79,604.94 164.99,604.20 166.20,603.76 167.40,603.51 168.60,602.06 169.80,603.11 171.01,601.77 172.21,601.33 173.41,601.23 174.61,600.45 175.81,599.65 177.02,599.43 178.22,598.80 179.42,598.14 180.62,598.75 181.83,596.70 183.03,595.78 184.23,595.75 185.43,595.14 186.64,595.61 187.84,594.43 189.04,594.13 190.24,593.41 191.44,592.07 192.65,592.24 193.85,591.29 195.05,591.47 196.25,590.00 197.46,589.22 198.66,588.94 199.86,588.28 201.06,586.35 202.26,587.17" fill="none" stroke="#000" stroke-width="1.0"/>
<polyline points="11.10,629.98 12.30,629.90 13.50,629.81 14.71,629.73 15.91,629.65 17.11,629.56 18.31,629.48 19.52,629.39 20.72,629.31 21.92,629.22 23.12,629.14 24.33,629.05 25.53,628.97 26.73,628.88 27.93,628.80 29.13,628.71 30.34,628.62 31.54,628.54 32.74,628.45 33.94,628.36 35.15,628.28 36.35,628.19 37.55,628.10 38.75,628.02 39.96,627.92 41.16,627.82 42.36,627.74 43.56,627.64 44.76,627.59 45.97,627.49 47.17,627.39 48.37,627.35 49.57,627.26 50.78,627.13 51.98,627.06 53.18,627.01 54.38,626.85 55.58,626.80 56.79,626.64 57.99,626.61 59.19,626.54 60.39,626.42 61.60,626.35 62.80,626.30 64.00,626.19 65.20,626.00 66.41,625.91 67.61,625.76 68.81,625.94 70.01,625.73 71.21,625.63 72.42,625.48 73.62,625.45 74.82,625.36 76.02,625.11 77.23,625.08 78.43,625.14 79.63,624.73 80.83,624.67 82.04,624.77 83.24,624.48 84.44,624.60 85.64,624.23 86.84,624.32 88.05,624.31 89.25,624.15 90.45,624.11 91.65,623.85 92.86,623.75 94.06,623.67 95.26,623.66 96.46,624.10 97.67,623.33 98.87,623.58 100.07,623.08 101.27,622.80 102.47,622.84 103.68,622.85 104.88,622.68 106.08,622.55 107.28,622.51 108.49,622.38 109.69,622.32 110.89,621.73 112.09,621.85 113.30,621.48 114.50,621.60 115.70,621.37 116.90,621.27 118.10,620.95 119.31,620.69 120.51,620.66 121.71,620.71 122.91,620.56 124.12,619.75 125.32,620.06 126.52,619.87 127.72,619.21 128.92,619.10 130.13,619.05 131.33,619.09 132.53,618.11 133.73,618.44 134.94,618.17 136.14,618.16 137.34,618.30 138.54,618.05 139.75,617.29 140.95,617.05 142.15,617.00 143.35,617.05 144.55,616.89 145.76,616.28 146.96,616.39 148.16,615.37 149.36,615.02 150.57,614.18 151.77,614.56 152.97,614.79 154.17,614.61 155.38,615.23 156.58,613.95 157.78,613.52 158.98,612.82 160.18,612.65 161.39,612.36 162.59,612.20 163.79,611.73 164.99,611.12 166.20,611.76 167.40,611.22 168.60,611.27 169.80,609.78 171.01,609.58 172.21,609.46 173.41,609.90 174.61,609.00 175.81,608.80 177.02,608.29 178.22,608.02 179.42,607.32 180.62,607.30 181.83,606.36 183.03,606.19 184.23,605.99 185.43,605.47 186.64,605.17 187.84,604.16 189.04,604.19 190.24,603.46 191.44,603.30 192.65,603.33 193.85,601.75 195.05,602.17 196.25,600.87 197.46,600.49 198.66,600.98 199.86,600.14 201.06,599.43 202.26,599.08" fill="none" stroke="#000" stroke-width="1.0"/>
<polyline points="11.10,629.20 12.30,629.15 13.50,629.10 14.71,629.05 15.91,629.00 17.11,628.95 18.31,628.90 19.52,628.85 20.72,628.81 21.92,628.76 23.12,628.71 24.33,628.66 25.53,628.61 26.73,628.56 27.93,628.51 29.13,628.46 30.34,628.41 31.54,628.36 32.74,628.31 33.94,628.25 35.15,628.20 36.35,628.15 37.55,628.10 38.75,628.05 39.96,627.99 41.16,627.95 42.36,627.91 43.56,627.85 44.76,627.79 45.97,627.76 47.17,627.69 48.37,627.68 49.57,627.60 50.78,627.51 51.98,627.40 53.18,627.40 54.38,627.37 55.58,627.27 56.79,627.22 57.99,627.13 59.19,627.11 60.39,627.13 61.60,627.05 62.80,627.01 64.00,626.94 65.20,626.89 66.41,626.92 67.61,626.99 68.81,626.81 70.01,626.89 71.21,626.63 72.42,626.58 73.62,626.70 74.82,626.39 76.02,626.31 77.23,626.34 78.43,626.09 79.63,626.00 80.83,626.33 82.04,625.98 83.24,626.00 84.44,625.94 85.64,625.81 86.84,625.99 88.05,625.91 89.25,625.89 90.45,625.82 91.65,625.66 92.86,625.82 94.06,625.70 95.26,625.36 96.46,625.41 97.67,625.27 98.87,625.62 100.07,625.35 101.27,625.24 102.47,625.06 103.68,625.12 104.88,624.74 106.08,624.87 107.28,624.78 108.49,624.70 109.69,624.47 110.89,624.64 112.09,624.20 113.30,624.26 114.50,624.24 115.70,624.17 116.90,623.96 118.10,623.75 119.31,623.66 120.51,623.69 121.71,623.46 122.91,623.54 124.12,623.13 125.32,623.35 126.52,623.77 127.72,622.75 128.92,622.95 130.13,623.18 131.33,622.78 132.53,622.84 133.73,621.86 134.94,622.18 136.14,622.65 137.34,621.89 138.54,622.02 139.75,621.18 140.95,621.93 142.15,622.15 143.35,621.28 144.55,621.25 145.76,621.11 146.96,621.51 148.16,620.51 149.36,619.93 150.57,620.95 151.77,619.74 152.97,620.16 154.17,618.97 155.38,619.45 156.58,619.49 157.78,618.84 158.98,618.85 160.18,619.07 161.39,618.39 162.59,618.65 163.79,618.93 164.99,617.29 166.20,617.98 167.40,617.87 168.60,617.30 169.80,617.83 171.01,617.53 172.21,616.97 173.41,616.74 174.61,616.25 175.81,615.56 177.02,615.94 178.22,615.26 179.42,614.93 180.62,615.34 181.83,614.47 183.03,614.66 184.23,613.47 185.43,613.40 186.64,613.25 187.84,613.51 189.04,612.51 190.24,612.56 191.44,611.53 192.65,611.54 193.85,611.49 195.05,610.30 196.25,610.02 197.46,610.26 198.66,609.04 199.86,609.35 201.06,608.97 202.26,608.37" fill="none" stroke="#000" stroke-width="1.0"/>
<polyline points="11.10,628.62 12.30,628.60 13.50,628.58 14.71,628.55 15.91,628.53 17.11,628.51 18.31,628.48 19.52,628.46 20.72,628.44 21.92,628.41 23.12,628.39 24.33,628.37 25.53,628.34 26.73,628.32 27.93,628.29 29.13,628.27 30.34,628.25 31.54,628.22 32.74,628.20 33.94,628.17 35.15,628.15 36.35,628.12 37.55,628.10 38.75,628.08 39.96,628.04 41.16,628.04 42.36,628.01 43.56,627.96 44.76,627.95 45.97,627.96 47.17,627.90 48.37,627.89 49.57,627.89 50.78,627.82 51.98,627.83 53.18,627.86 54.38,627.81 55.58,627.64 56.79,627.80 57.99,627.67 59.19,627.62 60.39,627.59 61.60,627.70 62.80,627.61 64.00,627.55 65.20,627.47 66.41,627.56 67.61,627.59 68.81,627.36 70.01,627.32 71.21,627.37 72.42,627.44 73.62,627.31 74.82,627.31 76.02,627.20 77.23,627.41 78.43,627.23 79.63,627.23 80.83,627.32 82.04,627.13 83.24,627.12 84.44,627.16 85.64,627.02 86.84,627.25 88.05,627.03 89.25,626.93 90.45,626.92 91.65,626.76 92.86,627.11 94.06,627.13 95.26,626.81 96.46,626.75 97.67,626.42 98.87,626.65 100.07,626.90 101.27,626.55 102.47,626.83 103.68,626.93 104.88,626.08 106.08,626.50 107.28,626.38 108.49,626.37 109.69,626.06 110.89,626.35 112.09,626.10 113.30,626.55 114.50,626.59 115.70,625.90 116.90,625.83 118.10,626.00 119.31,626.01 120.51,625.97 121.71,626.12 122.91,625.50 124.12,625.65 125.32,625.62 126.52,625.59 127.72,625.33 128.92,625.40 130.13,625.26 131.33,625.71 132.53,625.16 133.73,624.60 134.94,625.28 136.14,625.09 137.34,624.70 138.54,624.58 139.75,624.59 140.95,625.17 142.15,624.43 143.35,624.85 144.55,624.64 145.76,624.10 146.96,624.27 148.16,623.80 149.36,622.92 150.57,623.59 151.77,623.49 152.97,623.93 154.17,623.73 155.38,623.76 156.58,623.46 157.78,623.54 158.98,623.27 160.18,622.98 161.39,623.15 162.59,623.18 163.79,623.03 164.99,622.22 166.20,622.24 167.40,621.74 168.60,621.59 169.80,622.00 171.01,621.46 172.21,622.15 173.41,620.51 174.61,620.78 175.81,621.19 177.02,621.41 178.22,620.59 179.42,621.35 180.62,620.70 181.83,619.85 183.03,619.93 184.23,619.97 185.43,619.13 186.64,619.78 187.84,618.97 189.04,619.10 190.24,619.02 191.44,618.20 192.65,618.63 193.85,617.05 195.05,617.96 196.25,616.51 197.46,617.71 198.66,616.65 199.86,617.27 201.06,617.09 202.26,616.11" fill="none" stroke="#000" stroke-width="1.0"/>
<polyline points="11.10,628.46 12.30,628.44 13.50,628.42 14.71,628.40 15.91,628.38 17.11,628.36 18.31,628.34 19.52,628.33 20.72,628.31 21.92,628.29 23.12,628.27 24.33,628.25 25.53,628.24 26.73,628.22 27.93,628.20 29.13,628.19 30.34,628.18 31.54,628.17 32.74,628.13 33.94,628.14 35.15,628.13 36.35,628.08 37.55,628.09 38.75,628.09 39.96,628.10 41.16,628.12 42.36,628.10 43.56,628.07 44.76,628.06 45.97,628.03 47.17,628.01 48.37,628.02 49.57,628.01 50.78,628.06 51.98,628.11 53.18,628.03 54.38,628.05 55.58,628.03 56.79,628.00 57.99,628.05 59.19,628.04 60.39,627.98 61.60,627.96 62.80,628.00 64.00,627.92 65.20,627.96 66.41,628.02 67.61,627.93 68.81,627.78 70.01,627.98 71.21,627.82 72.42,627.79 73.62,627.77 74.82,627.97 76.02,627.71 77.23,627.87 78.43,627.90 79.63,627.89 80.83,627.80 82.04,627.85 83.24,627.86 84.44,627.69 85.64,627.90 86.84,627.93 88.05,627.71 89.25,627.70 90.45,627.64 91.65,627.89 92.86,627.61 94.06,627.67 95.26,627.49 96.46,627.86 97.67,627.65 98.87,627.70 100.07,627.86 101.27,627.72 102.47,627.44 103.68,627.65 104.88,627.66 106.08,627.41 107.28,627.37 108.49,627.34 109.69,627.59 110.89,627.45 112.09,627.26 113.30,627.50 114.50,627.49 115.70,627.20 116.90,627.05 118.10,627.48 119.31,627.70 120.51,627.48 121.71,627.37 122.91,627.18 124.12,627.01 125.32,627.11 126.52,627.18 127.72,626.98 128.92,627.15 130.13,626.94 131.33,627.01 132.53,626.32 133.73,626.64 134.94,626.92 136.14,626.91 137.34,626.75 138.54,626.95 139.75,626.71 140.95,626.66 142.15,626.26 143.35,626.48 144.55,626.51 145.76,626.57 146.96,626.48 148.16,626.17 149.36,626.14 150.57,625.76 151.77,626.10 152.97,625.64 154.17,625.76 155.38,625.75 156.58,626.16 157.78,625.91 158.98,625.33 160.18,625.07 161.39,625.24 162.59,624.97 163.79,625.13 164.99,624.98 166.20,624.91 167.40,624.35 168.60,624.39 169.80,624.43 171.01,624.36 172.21,624.03 173.41,624.00 174.61,624.23 175.81,623.44 177.02,623.75 178.22,623.74 179.42,623.24 180.62,623.28 181.83,623.52 183.03,623.26 184.23,623.65 185.43,623.45 186.64,623.85 187.84,622.75 189.04,623.62 190.24,622.77 191.44,623.17 192.65,623.16 193.85,622.86 195.05,622.67 196.25,622.51 197.46,622.09 198.66,622.50 199.86,622.29 201.06,622.73 202.26,622.27" fill="none" stroke="#000" stroke-width="2.2"/>
<polyline points="11.10,628.10 202.60,628.10" fill="none" stroke="#000" stroke-width="1.8"/>
<polyline points="11.10,641.82 12.30,641.21 13.50,640.60 14.71,639.99 15.91,639.38 17.11,638.76 18.31,638.15 19.52,637.53 20.72,636.91 21.92,636.29 23.12,635.67 24.33,635.05 25.53,634.43 26.73,633.80 27.93,633.18 29.13,632.55 30.34,631.92 31.54,631.29 32.74,630.66 33.94,630.02 35.15,629.39 36.35,628.75 37.55,628.11 38.75,627.47 39.96,626.83 41.16,626.19 42.36,625.56 43.56,624.92 44.76,624.29 45.97,623.65 47.17,623.02 48.37,622.38 49.57,621.74 50.78,621.11 51.98,620.47 53.18,619.83 54.38,619.19 55.58,618.55 56.79,617.90 57.99,617.25 59.19,616.61 60.39,615.95 61.60,615.30 62.80,614.64 64.00,613.98 65.20,613.32 66.41,612.65 67.61,611.98 68.81,611.30 70.01,610.62 71.21,609.93 72.42,609.24 73.62,608.55 74.82,607.85 76.02,607.14 77.23,606.43 78.43,605.71 79.63,604.99 80.83,604.26 82.04,603.51 83.24,602.76 84.44,601.99 85.64,601.22 86.84,600.43 88.05,599.64 89.25,598.83 90.45,598.02 91.65,597.21 92.86,596.39 94.06,595.56 95.26,594.73 96.46,593.90 97.67,593.06 98.87,592.23 100.07,591.39 101.27,590.55 102.47,589.72 103.68,588.89 104.88,588.05 106.08,587.23 107.28,586.40 108.49,585.58 109.69,584.77 110.89,583.96 112.09,583.17 113.30,582.37 114.50,581.59 115.70,580.82 116.90,580.04 118.10,579.28 119.31,578.51 120.51,577.75 121.71,576.99 122.91,576.24 124.12,575.49 125.32,574.74 126.52,573.99 127.72,573.25 128.92,572.51 130.13,571.77 131.33,571.03 132.53,570.29 133.73,569.55 134.94,568.81 136.14,568.07 137.34,567.34 138.54,566.60 139.75,565.86 140.95,565.12 142.15,564.38 143.35,563.64 144.55,562.89 145.76,562.15 146.96,561.40 148.16,560.65 149.36,559.89 150.57,559.14 151.77,558.38 152.97,557.61 154.17,556.85 155.38,556.07 156.58,555.30 157.78,554.52 158.98,553.73 160.18,552.94 161.39,552.14 162.59,551.33 163.79,550.52 164.99,549.71 166.20,548.89 167.40,548.08 168.60,547.26 169.80,546.45 171.01,545.63 172.21,544.82 173.41,544.00 174.61,543.19 175.81,542.38 177.02,541.56 178.22,540.74 179.42,539.93 180.62,539.11 181.83,538.30 183.03,537.48 184.23,536.66 185.43,535.84 186.64,535.02 187.84,534.20 189.04,533.38 190.24,532.56 191.44,531.74 192.65,530.92 193.85,530.09 195.05,529.27 196.25,528.44 197.46,527.62 198.66,526.79 199.86,525.97 201.06,525.14 202.26,524.31" fill="none" stroke="#f39200" stroke-width="1.7"/>
<polyline points="11.10,628.10 11.10,632.50" fill="none" stroke="#000" stroke-width="1.3"/>
<polyline points="114.30,628.10 114.30,632.50" fill="none" stroke="#000" stroke-width="1.3"/>
<polyline points="158.50,628.10 158.50,632.50" fill="none" stroke="#000" stroke-width="1.3"/>
<polyline points="202.30,628.10 202.30,632.50" fill="none" stroke="#000" stroke-width="1.3"/>
<polyline points="158.50,519.40 158.50,647.70" fill="none" stroke="#000" stroke-width="1.3"/>
<polyline points="155.00,519.40 158.50,519.40" fill="none" stroke="#000" stroke-width="1.3"/>
<polyline points="155.00,647.10 158.50,647.10" fill="none" stroke="#000" stroke-width="1.3"/>
<text transform="translate(134.29,523.88) scale(0.961,1)" font-size="12.11" font-weight="bold" fill="#000" stroke="#000" stroke-width="0.35">600</text>
<text transform="translate(136.03,559.48) scale(0.990,1)" font-size="11.55" font-weight="bold" fill="#000" stroke="#000" stroke-width="0.35">400</text>
<text transform="translate(130.63,650.58) scale(1.015,1)" font-size="11.55" font-weight="bold" fill="#000" stroke="#000" stroke-width="0.35">-100</text>
<text transform="translate(168.00,540.53) rotate(-90) scale(0.944,1)" font-size="8.58" font-weight="bold" fill="#000" stroke="#000" stroke-width="0.35">pA/pF</text>
<text transform="translate(204.05,527.80) scale(1.174,1)" font-size="11.16" font-weight="bold" fill="#f7941d" stroke="#f7941d" stroke-width="0.35">I</text>
<text transform="translate(207.57,531.81) scale(0.960,1)" font-size="8.59" font-weight="bold" fill="#f7941d" stroke="#f7941d" stroke-width="0.35">C22:6 n-3</text>
<text transform="translate(204.41,624.50) scale(0.737,1)" font-size="10.29" font-weight="bold" fill="#000" stroke="#000" stroke-width="0.35">I</text>
<text transform="translate(206.66,628.82) scale(1.013,1)" font-size="8.31" font-weight="bold" fill="#000" stroke="#000" stroke-width="0.35">0</text>
<text transform="translate(-0.18,642.49) scale(1.124,1)" font-size="10.70" font-weight="bold" fill="#000" stroke="#000" stroke-width="0.35">-100</text>
<text transform="translate(24.70,643.20) scale(1.108,1)" font-size="11.05" font-weight="bold" fill="#000" stroke="#000" stroke-width="0.35">Em (mV)</text>
<text transform="translate(105.43,642.78) scale(1.003,1)" font-size="11.83" font-weight="bold" fill="#000" stroke="#000" stroke-width="0.35">-30</text>
<text transform="translate(196.31,642.59) scale(1.059,1)" font-size="10.85" font-weight="bold" fill="#000" stroke="#000" stroke-width="0.35">30</text>
<text transform="translate(269.98,479.00) scale(1.031,1)" font-size="15.22" font-weight="bold" fill="#222" stroke="#222" stroke-width="0.35">F</text>
<text transform="translate(288.76,481.20) scale(0.962,1)" font-size="14.83" font-weight="normal" fill="#333" stroke="#333" stroke-width="0.2">HEK hTREK-1</text>
<rect x="297.30" y="491.50" width="180.50" height="181.00" fill="#f4e7ed" stroke="none" stroke-width="0"/>
<polyline points="404.80,645.30 404.80,655.80" fill="none" stroke="#c8a0fb" stroke-width="2.0"/>
<polyline points="400.30,645.30 409.30,645.30" fill="none" stroke="#c8a0fb" stroke-width="1.9"/>
<polyline points="400.30,655.80 409.30,655.80" fill="none" stroke="#c8a0fb" stroke-width="1.9"/>
<polyline points="419.40,619.10 419.40,630.20" fill="none" stroke="#c8a0fb" stroke-width="2.0"/>
<polyline points="414.90,619.10 423.90,619.10" fill="none" stroke="#c8a0fb" stroke-width="1.9"/>
<polyline points="414.90,630.20 423.90,630.20" fill="none" stroke="#c8a0fb" stroke-width="1.9"/>
<polyline points="444.20,524.80 444.20,571.20" fill="none" stroke="#c8a0fb" stroke-width="2.0"/>
<polyline points="439.70,524.80 448.70,524.80" fill="none" stroke="#c8a0fb" stroke-width="1.9"/>
<polyline points="439.70,571.20 448.70,571.20" fill="none" stroke="#c8a0fb" stroke-width="1.9"/>
<polyline points="463.00,539.10 463.00,560.00" fill="none" stroke="#c8a0fb" stroke-width="2.0"/>
<polyline points="458.50,539.10 467.50,539.10" fill="none" stroke="#c8a0fb" stroke-width="1.9"/>
<polyline points="458.50,560.00 467.50,560.00" fill="none" stroke="#c8a0fb" stroke-width="1.9"/>
<polyline points="379.60,671.65 380.02,671.60 380.44,671.56 380.85,671.51 381.27,671.45 381.69,671.40 382.11,671.34 382.53,671.29 382.94,671.22 383.36,671.16 383.78,671.09 384.20,671.02 384.62,670.95 385.04,670.87 385.45,670.79 385.87,670.71 386.29,670.62 386.71,670.52 387.13,670.43 387.54,670.33 387.96,670.22 388.38,670.11 388.80,670.00 389.22,669.87 389.63,669.75 390.05,669.62 390.47,669.48 390.89,669.33 391.31,669.18 391.72,669.03 392.14,668.86 392.56,668.69 392.98,668.51 393.40,668.32 393.82,668.13 394.23,667.92 394.65,667.71 395.07,667.49 395.49,667.26 395.91,667.01 396.32,666.76 396.74,666.50 397.16,666.22 397.58,665.94 398.00,665.64 398.41,665.33 398.83,665.00 399.25,664.67 399.67,664.32 400.09,663.95 400.50,663.57 400.92,663.17 401.34,662.76 401.76,662.33 402.18,661.88 402.59,661.42 403.01,660.94 403.43,660.44 403.85,659.92 404.27,659.38 404.69,658.82 405.10,658.24 405.52,657.64 405.94,657.02 406.36,656.38 406.78,655.71 407.19,655.02 407.61,654.30 408.03,653.56 408.45,652.80 408.87,652.01 409.28,651.20 409.70,650.36 410.12,649.50 410.54,648.61 410.96,647.69 411.37,646.75 411.79,645.78 412.21,644.79 412.63,643.77 413.05,642.72 413.47,641.65 413.88,640.55 414.30,639.42 414.72,638.27 415.14,637.09 415.56,635.89 415.97,634.67 416.39,633.42 416.81,632.15 417.23,630.85 417.65,629.54 418.06,628.21 418.48,626.85 418.90,625.48 419.32,624.09 419.74,622.69 420.15,621.27 420.57,619.84 420.99,618.39 421.41,616.94 421.83,615.48 422.25,614.01 422.66,612.53 423.08,611.05 423.50,609.56 423.92,608.08 424.34,606.60 424.75,605.11 425.17,603.63 425.59,602.16 426.01,600.69 426.43,599.23 426.84,597.78 427.26,596.35 427.68,594.92 428.10,593.51 428.52,592.11 428.93,590.73 429.35,589.37 429.77,588.02 430.19,586.70 430.61,585.39 431.03,584.11 431.44,582.85 431.86,581.61 432.28,580.40 432.70,579.21 433.12,578.05 433.53,576.91 433.95,575.79 434.37,574.70 434.79,573.64 435.21,572.61 435.62,571.60 436.04,570.62 436.46,569.66 436.88,568.73 437.30,567.83 437.71,566.95 438.13,566.10 438.55,565.27 438.97,564.47 439.39,563.69 439.81,562.94 440.22,562.22 440.64,561.51 441.06,560.83 441.48,560.18 441.90,559.54 442.31,558.93 442.73,558.34 443.15,557.77 443.57,557.22 443.99,556.69 444.40,556.18 444.82,555.69 445.24,555.22 445.66,554.76 446.08,554.32 446.49,553.90 446.91,553.50 447.33,553.11 447.75,552.74 448.17,552.38 448.58,552.03 449.00,551.70 449.42,551.38 449.84,551.08 450.26,550.79 450.68,550.50 451.09,550.24 451.51,549.98 451.93,549.73 452.35,549.49 452.77,549.26 453.18,549.05 453.60,548.84 454.02,548.64 454.44,548.45 454.86,548.26 455.27,548.09 455.69,547.92 456.11,547.76 456.53,547.60 456.95,547.46 457.36,547.32 457.78,547.18 458.20,547.05 458.62,546.93 459.04,546.81 459.46,546.70 459.87,546.59 460.29,546.48 460.71,546.39 461.13,546.29 461.55,546.20 461.96,546.11 462.38,546.03 462.80,545.95" fill="none" stroke="#9b45f5" stroke-width="1.3"/>
<circle cx="379.60" cy="667.90" r="3.10" fill="#fff" stroke="#9b45f5" stroke-width="1.6"/>
<circle cx="404.80" cy="651.30" r="3.10" fill="#fff" stroke="#9b45f5" stroke-width="1.6"/>
<circle cx="419.40" cy="624.80" r="3.10" fill="#fff" stroke="#9b45f5" stroke-width="1.6"/>
<circle cx="444.20" cy="548.20" r="3.10" fill="#fff" stroke="#9b45f5" stroke-width="1.6"/>
<circle cx="463.00" cy="549.50" r="3.10" fill="#fff" stroke="#9b45f5" stroke-width="1.6"/>
<polyline points="296.40,491.20 296.40,676.80" fill="none" stroke="#000" stroke-width="1.5"/>
<polyline points="295.70,672.50 477.80,672.50" fill="none" stroke="#000" stroke-width="1.5"/>
<polyline points="292.30,627.15 296.40,627.15" fill="none" stroke="#000" stroke-width="1.5"/>
<text transform="translate(276.16,631.61) scale(1.029,1)" font-size="13.66" font-weight="bold" fill="#000" stroke="#000" stroke-width="0.35">10</text>
<polyline points="292.30,581.80 296.40,581.80" fill="none" stroke="#000" stroke-width="1.5"/>
<text transform="translate(276.52,586.26) scale(1.004,1)" font-size="13.66" font-weight="bold" fill="#000" stroke="#000" stroke-width="0.35">20</text>
<polyline points="292.30,536.45 296.40,536.45" fill="none" stroke="#000" stroke-width="1.5"/>
<text transform="translate(276.66,540.91) scale(0.995,1)" font-size="13.66" font-weight="bold" fill="#000" stroke="#000" stroke-width="0.35">30</text>
<polyline points="292.30,491.10 296.40,491.10" fill="none" stroke="#000" stroke-width="1.5"/>
<text transform="translate(276.80,495.56) scale(0.985,1)" font-size="13.66" font-weight="bold" fill="#000" stroke="#000" stroke-width="0.35">40</text>
<polyline points="292.30,672.50 296.40,672.50" fill="none" stroke="#000" stroke-width="1.5"/>
<polyline points="379.60,672.50 379.60,676.70" fill="none" stroke="#000" stroke-width="1.5"/>
<polyline points="419.30,672.50 419.30,676.70" fill="none" stroke="#000" stroke-width="1.5"/>
<polyline points="444.20,672.50 444.20,676.70" fill="none" stroke="#000" stroke-width="1.5"/>
<polyline points="462.80,672.50 462.80,676.70" fill="none" stroke="#000" stroke-width="1.5"/>
<text transform="translate(284.14,676.86) scale(1.032,1)" font-size="13.66" font-weight="bold" fill="#000" stroke="#000" stroke-width="0.35">0</text>
<text transform="translate(286.79,689.66) scale(0.934,1)" font-size="13.66" font-weight="bold" fill="#000" stroke="#000" stroke-width="0.35">0.1</text>
<text transform="translate(376.25,689.20) scale(0.832,1)" font-size="13.04" font-weight="bold" fill="#000" stroke="#000" stroke-width="0.35">1</text>
<text transform="translate(416.32,689.47) scale(0.846,1)" font-size="13.38" font-weight="bold" fill="#000" stroke="#000" stroke-width="0.35">3</text>
<text transform="translate(440.57,689.47) scale(1.125,1)" font-size="13.38" font-weight="bold" fill="#000" stroke="#000" stroke-width="0.35">6</text>
<text transform="translate(455.07,689.47) scale(1.036,1)" font-size="13.38" font-weight="bold" fill="#000" stroke="#000" stroke-width="0.35">10</text>
<text transform="translate(336.41,710.10) scale(0.966,1)" font-size="15.26" font-weight="bold" fill="#000" stroke="#000" stroke-width="0.35">C18:2 n-6 [µM]</text>
<rect x="507.30" y="493.90" width="178.20" height="178.20" fill="#f4e7ed" stroke="none" stroke-width="0"/>
<polyline points="627.30,565.80 627.30,597.40" fill="none" stroke="#f9c48a" stroke-width="2.0"/>
<polyline points="622.80,565.80 631.80,565.80" fill="none" stroke="#f9c48a" stroke-width="1.9"/>
<polyline points="622.80,597.40 631.80,597.40" fill="none" stroke="#f9c48a" stroke-width="1.9"/>
<polyline points="652.30,516.70 652.30,561.10" fill="none" stroke="#f9c48a" stroke-width="2.0"/>
<polyline points="647.80,516.70 656.80,516.70" fill="none" stroke="#f9c48a" stroke-width="1.9"/>
<polyline points="647.80,561.10 656.80,561.10" fill="none" stroke="#f9c48a" stroke-width="1.9"/>
<polyline points="670.20,520.00 670.20,559.20" fill="none" stroke="#f9c48a" stroke-width="2.0"/>
<polyline points="665.70,520.00 674.70,520.00" fill="none" stroke="#f9c48a" stroke-width="1.9"/>
<polyline points="665.70,559.20 674.70,559.20" fill="none" stroke="#f9c48a" stroke-width="1.9"/>
<polyline points="588.70,671.08 589.11,671.02 589.53,670.95 589.94,670.88 590.35,670.81 590.77,670.73 591.18,670.64 591.59,670.56 592.00,670.46 592.42,670.36 592.83,670.25 593.24,670.14 593.66,670.02 594.07,669.89 594.48,669.76 594.90,669.62 595.31,669.47 595.72,669.31 596.14,669.14 596.55,668.96 596.96,668.77 597.37,668.57 597.79,668.35 598.20,668.13 598.61,667.89 599.03,667.64 599.44,667.37 599.85,667.09 600.27,666.79 600.68,666.48 601.09,666.14 601.51,665.79 601.92,665.42 602.33,665.03 602.74,664.61 603.16,664.18 603.57,663.72 603.98,663.23 604.40,662.72 604.81,662.18 605.22,661.61 605.64,661.02 606.05,660.39 606.46,659.73 606.87,659.04 607.29,658.31 607.70,657.55 608.11,656.75 608.53,655.92 608.94,655.04 609.35,654.13 609.77,653.17 610.18,652.17 610.59,651.13 611.01,650.04 611.42,648.91 611.83,647.74 612.24,646.52 612.66,645.25 613.07,643.94 613.48,642.58 613.90,641.17 614.31,639.72 614.72,638.22 615.14,636.68 615.55,635.09 615.96,633.46 616.38,631.79 616.79,630.08 617.20,628.33 617.61,626.54 618.03,624.72 618.44,622.86 618.85,620.98 619.27,619.07 619.68,617.14 620.09,615.18 620.51,613.21 620.92,611.23 621.33,609.23 621.75,607.23 622.16,605.23 622.57,603.22 622.98,601.22 623.40,599.23 623.81,597.24 624.22,595.28 624.64,593.33 625.05,591.40 625.46,589.49 625.88,587.61 626.29,585.77 626.70,583.95 627.12,582.17 627.53,580.43 627.94,578.72 628.35,577.06 628.77,575.44 629.18,573.86 629.59,572.33 630.01,570.84 630.42,569.39 630.83,568.00 631.25,566.65 631.66,565.34 632.07,564.08 632.48,562.87 632.90,561.71 633.31,560.58 633.72,559.51 634.14,558.48 634.55,557.49 634.96,556.54 635.38,555.63 635.79,554.76 636.20,553.93 636.62,553.14 637.03,552.39 637.44,551.67 637.85,550.98 638.27,550.33 638.68,549.71 639.09,549.12 639.51,548.56 639.92,548.02 640.33,547.52 640.75,547.04 641.16,546.58 641.57,546.15 641.99,545.74 642.40,545.35 642.81,544.98 643.22,544.64 643.64,544.31 644.05,543.99 644.46,543.70 644.88,543.42 645.29,543.16 645.70,542.91 646.12,542.67 646.53,542.45 646.94,542.24 647.36,542.04 647.77,541.85 648.18,541.67 648.59,541.51 649.01,541.35 649.42,541.20 649.83,541.06 650.25,540.93 650.66,540.80 651.07,540.68 651.49,540.57 651.90,540.47 652.31,540.37 652.73,540.27 653.14,540.18 653.55,540.10 653.96,540.02 654.38,539.95 654.79,539.88 655.20,539.81 655.62,539.75 656.03,539.69 656.44,539.64 656.86,539.59 657.27,539.54 657.68,539.49 658.09,539.45 658.51,539.41 658.92,539.37 659.33,539.33 659.75,539.30 660.16,539.27 660.57,539.24 660.99,539.21 661.40,539.18 661.81,539.16 662.23,539.13 662.64,539.11 663.05,539.09 663.46,539.07 663.88,539.05 664.29,539.03 664.70,539.02 665.12,539.00 665.53,538.98 665.94,538.97 666.36,538.96 666.77,538.95 667.18,538.93 667.60,538.92 668.01,538.91 668.42,538.90 668.83,538.89 669.25,538.89 669.66,538.88 670.07,538.87 670.49,538.86 670.90,538.86" fill="none" stroke="#f7941d" stroke-width="1.3"/>
<circle cx="588.60" cy="666.90" r="3.10" fill="#fff" stroke="#f7941d" stroke-width="1.6"/>
<circle cx="627.30" cy="581.40" r="3.10" fill="#fff" stroke="#f7941d" stroke-width="1.6"/>
<circle cx="652.30" cy="539.00" r="3.10" fill="#fff" stroke="#f7941d" stroke-width="1.6"/>
<circle cx="670.20" cy="539.20" r="3.10" fill="#fff" stroke="#f7941d" stroke-width="1.6"/>
<polyline points="506.40,493.60 506.40,676.40" fill="none" stroke="#000" stroke-width="1.5"/>
<polyline points="505.70,672.10 685.50,672.10" fill="none" stroke="#000" stroke-width="1.5"/>
<polyline points="502.30,627.50 506.40,627.50" fill="none" stroke="#000" stroke-width="1.5"/>
<text transform="translate(485.96,632.36) scale(1.029,1)" font-size="13.66" font-weight="bold" fill="#000" stroke="#000" stroke-width="0.35">10</text>
<polyline points="502.30,582.90 506.40,582.90" fill="none" stroke="#000" stroke-width="1.5"/>
<text transform="translate(486.32,587.76) scale(1.004,1)" font-size="13.66" font-weight="bold" fill="#000" stroke="#000" stroke-width="0.35">20</text>
<polyline points="502.30,538.30 506.40,538.30" fill="none" stroke="#000" stroke-width="1.5"/>
<text transform="translate(486.46,543.16) scale(0.995,1)" font-size="13.66" font-weight="bold" fill="#000" stroke="#000" stroke-width="0.35">30</text>
<polyline points="502.30,493.70 506.40,493.70" fill="none" stroke="#000" stroke-width="1.5"/>
<text transform="translate(486.60,498.56) scale(0.985,1)" font-size="13.66" font-weight="bold" fill="#000" stroke="#000" stroke-width="0.35">40</text>
<polyline points="502.30,672.10 506.40,672.10" fill="none" stroke="#000" stroke-width="1.5"/>
<polyline points="588.70,672.10 588.70,676.30" fill="none" stroke="#000" stroke-width="1.5"/>
<polyline points="627.50,672.10 627.50,676.30" fill="none" stroke="#000" stroke-width="1.5"/>
<polyline points="652.40,672.10 652.40,676.30" fill="none" stroke="#000" stroke-width="1.5"/>
<polyline points="670.50,672.10 670.50,676.30" fill="none" stroke="#000" stroke-width="1.5"/>
<text transform="translate(493.60,676.67) scale(1.179,1)" font-size="12.68" font-weight="bold" fill="#000" stroke="#000" stroke-width="0.35">0</text>
<text transform="translate(496.56,689.26) scale(0.994,1)" font-size="13.52" font-weight="bold" fill="#000" stroke="#000" stroke-width="0.35">0.1</text>
<text transform="translate(586.03,688.90) scale(0.742,1)" font-size="12.90" font-weight="bold" fill="#000" stroke="#000" stroke-width="0.35">1</text>
<text transform="translate(623.86,688.87) scale(1.084,1)" font-size="12.68" font-weight="bold" fill="#000" stroke="#000" stroke-width="0.35">3</text>
<text transform="translate(648.51,688.87) scale(1.106,1)" font-size="12.68" font-weight="bold" fill="#000" stroke="#000" stroke-width="0.35">6</text>
<text transform="translate(663.09,688.87) scale(1.062,1)" font-size="12.68" font-weight="bold" fill="#000" stroke="#000" stroke-width="0.35">10</text>
<text transform="translate(546.13,711.80) scale(1.013,1)" font-size="14.10" font-weight="bold" fill="#000" stroke="#000" stroke-width="0.35">C22:6 n-3 [µM]</text>
<text transform="translate(260.60,605.13) rotate(-90) scale(1.060,1)" font-size="14.97" font-weight="bold" fill="#000" stroke="#000" stroke-width="0.35">I</text>
<text transform="translate(265.90,601.18) rotate(-90) scale(0.971,1)" font-size="10.76" font-weight="bold" fill="#000" stroke="#000" stroke-width="0.35">PUFA</text>
<text transform="translate(260.52,572.62) rotate(-90) scale(0.846,1)" font-size="14.09" font-weight="bold" fill="#000" stroke="#000" stroke-width="0.35">/</text>
<text transform="translate(260.60,568.61) rotate(-90) scale(0.829,1)" font-size="14.97" font-weight="bold" fill="#000" stroke="#000" stroke-width="0.35">I</text>
<text transform="translate(265.59,565.10) rotate(-90) scale(0.932,1)" font-size="10.85" font-weight="bold" fill="#000" stroke="#000" stroke-width="0.35">0</text>
</svg></body></html>
